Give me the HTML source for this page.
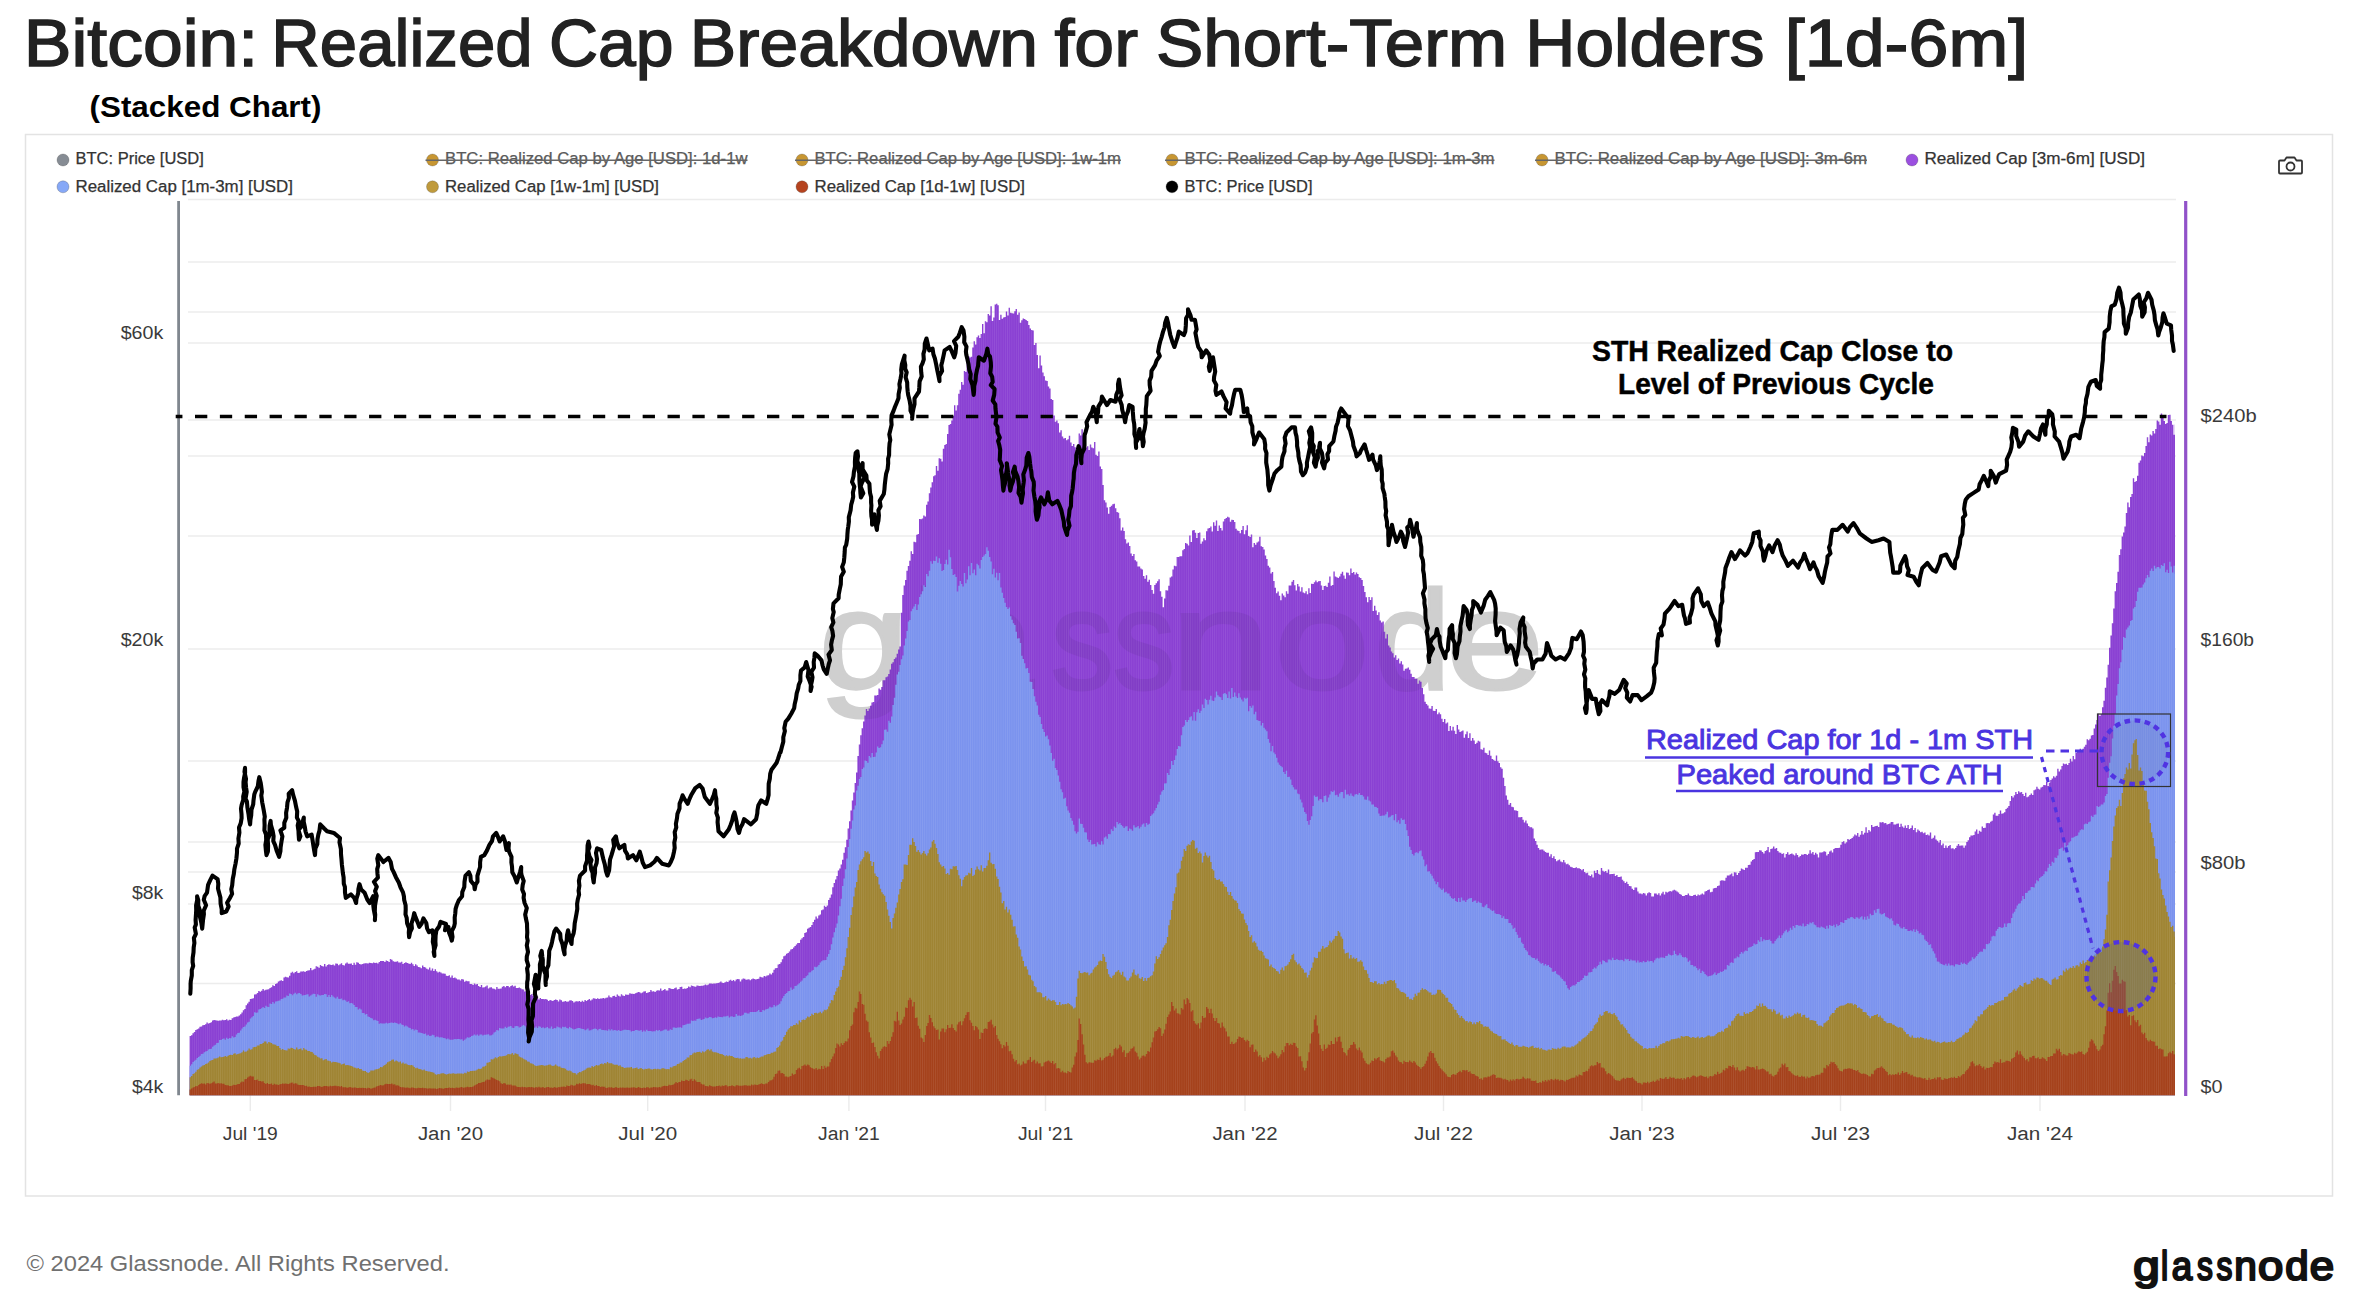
<!DOCTYPE html>
<html><head><meta charset="utf-8"><title>Bitcoin: Realized Cap Breakdown for Short-Term Holders</title>
<style>
html,body{margin:0;padding:0;background:#fff;}
body{width:2360px;height:1316px;overflow:hidden;font-family:'Liberation Sans', Arial, sans-serif;}
svg{display:block;}
svg text{font-family:'Liberation Sans', Arial, sans-serif;}
</style></head><body>
<svg width="2360" height="1316" viewBox="0 0 2360 1316">
<defs><pattern id="stripes" width="2.18" height="20" patternUnits="userSpaceOnUse"><rect width="0.75" height="20" fill="#fff" fill-opacity="0.085"/></pattern><clipPath id="areaclip"><path d="M189.6,1095.3L189.6,1036.1H191.0L191.0,1035.2H192.4L192.4,1033.3H193.8L193.8,1031.9H195.2L195.2,1030.1H196.6L196.6,1029.2H198.0L198.0,1028.6H199.4L199.4,1026.7H200.8L200.8,1026.4H202.2L202.2,1025.3H203.6L203.6,1024.9H205.0L205.0,1024.2H206.4L206.4,1022.6H207.8L207.8,1023.6H209.2L209.2,1022.9H210.6L210.6,1022.3H212.0L212.0,1020.4H213.4L213.4,1019.9H214.8L214.8,1020.2H216.2L216.2,1020.4H217.6L217.6,1020.7H219.0L219.0,1020.4H220.4L220.4,1020.6H221.8L221.8,1019.7H223.2L223.2,1020.2H224.6L224.6,1020.1H226.0L226.0,1019.2H227.4L227.4,1020.6H228.8L228.8,1019.8H230.2L230.2,1020.1H231.6L231.6,1018.3H233.0L233.0,1017.5H234.4L234.4,1017.1H235.8L235.8,1016.5H237.2L237.2,1016.4H238.6L238.6,1015.4H240.0L240.0,1014.2H241.4L241.4,1012.4H242.8L242.8,1010.3H244.2L244.2,1009.1H245.6L245.6,1005.2H247.0L247.0,1003.5H248.4L248.4,1001.7H249.8L249.8,998.9H251.2L251.2,998.7H252.6L252.6,998.2H254.0L254.0,994.5H255.4L255.4,994.2H256.8L256.8,992.9H258.2L258.2,991.1H259.6L259.6,991.7H261.0L261.0,990.7H262.4L262.4,989.0H263.8L263.8,990.4H265.2L265.2,989.7H266.6L266.6,989.4H268.0L268.0,989.3H269.4L269.4,987.9H270.8L270.8,987.2H272.2L272.2,985.3H273.6L273.6,985.9H275.0L275.0,984.0H276.4L276.4,983.2H277.8L277.8,981.5H279.2L279.2,980.8H280.6L280.6,980.3H282.0L282.0,981.0H283.4L283.4,977.5H284.8L284.8,976.7H286.2L286.2,977.2H287.6L287.6,977.4H289.0L289.0,975.7H290.4L290.4,972.8H291.8L291.8,971.8H293.2L293.2,973.2H294.6L294.6,971.9H296.0L296.0,971.3H297.4L297.4,972.9H298.8L298.8,972.8H300.2L300.2,971.6H301.6L301.6,971.4H303.0L303.0,971.3H304.4L304.4,972.1H305.8L305.8,970.9H307.2L307.2,970.5H308.6L308.6,970.3H310.0L310.0,967.9H311.4L311.4,970.2H312.8L312.8,969.5H314.2L314.2,968.7H315.6L315.6,966.2H317.0L317.0,966.7H318.4L318.4,967.7H319.8L319.8,964.9H321.2L321.2,965.9H322.6L322.6,966.6H324.0L324.0,964.0H325.4L325.4,966.4H326.8L326.8,965.1H328.2L328.2,964.3H329.6L329.6,964.8H331.0L331.0,965.0H332.4L332.4,964.5H333.8L333.8,965.4H335.2L335.2,963.6H336.6L336.6,963.8H338.0L338.0,965.2H339.4L339.4,964.2H340.8L340.8,963.3H342.2L342.2,965.0H343.6L343.6,965.5H345.0L345.0,963.6H346.4L346.4,962.6H347.8L347.8,963.8H349.2L349.2,963.7H350.6L350.6,963.5H352.0L352.0,965.1H353.4L353.4,962.7H354.8L354.8,964.8H356.2L356.2,962.3H357.6L357.6,962.7H359.0L359.0,964.0H360.4L360.4,964.4H361.8L361.8,964.1H363.2L363.2,963.5H364.6L364.6,963.3H366.0L366.0,963.2H367.4L367.4,963.6H368.8L368.8,962.7H370.2L370.2,963.1H371.6L371.6,963.3H373.0L373.0,962.5H374.4L374.4,963.1H375.8L375.8,962.7H377.2L377.2,963.5H378.6L378.6,962.0H380.0L380.0,961.1H381.4L381.4,961.0H382.8L382.8,961.1H384.2L384.2,961.9H385.6L385.6,960.4H387.0L387.0,960.9H388.4L388.4,962.1H389.8L389.8,959.1H391.2L391.2,959.8H392.6L392.6,961.3H394.0L394.0,961.7H395.4L395.4,961.7H396.8L396.8,961.3H398.2L398.2,962.5H399.6L399.6,962.4H401.0L401.0,961.8H402.4L402.4,964.0H403.8L403.8,963.0H405.2L405.2,962.3H406.6L406.6,963.1H408.0L408.0,963.4H409.4L409.4,963.9H410.8L410.8,962.7H412.2L412.2,964.2H413.6L413.6,966.0H415.0L415.0,964.2H416.4L416.4,965.6H417.8L417.8,967.0H419.2L419.2,967.2H420.6L420.6,968.2H422.0L422.0,965.6H423.4L423.4,967.1H424.8L424.8,967.5H426.2L426.2,968.8H427.6L427.6,969.6H429.0L429.0,967.5H430.4L430.4,970.5H431.8L431.8,968.5H433.2L433.2,970.9H434.6L434.6,969.3H436.0L436.0,971.3H437.4L437.4,972.6H438.8L438.8,971.8H440.2L440.2,972.5H441.6L441.6,973.5H443.0L443.0,973.4H444.4L444.4,973.7H445.8L445.8,975.8H447.2L447.2,975.9H448.6L448.6,975.2H450.0L450.0,977.5H451.4L451.4,975.6H452.8L452.8,978.0H454.2L454.2,977.5H455.6L455.6,978.4H457.0L457.0,979.5H458.4L458.4,979.6H459.8L459.8,980.5H461.2L461.2,979.0H462.6L462.6,979.5H464.0L464.0,981.8H465.4L465.4,980.8H466.8L466.8,981.2H468.2L468.2,981.2H469.6L469.6,984.0H471.0L471.0,984.0H472.4L472.4,985.0H473.8L473.8,983.4H475.2L475.2,984.6H476.6L476.6,984.0H478.0L478.0,986.0H479.4L479.4,986.9H480.8L480.8,985.1H482.2L482.2,987.5H483.6L483.6,987.3H485.0L485.0,986.5H486.4L486.4,985.6H487.8L487.8,988.4H489.2L489.2,987.5H490.6L490.6,987.3H492.0L492.0,988.4H493.4L493.4,988.7H494.8L494.8,989.5H496.2L496.2,987.1H497.6L497.6,988.7H499.0L499.0,988.7H500.4L500.4,988.4H501.8L501.8,986.7H503.2L503.2,986.0H504.6L504.6,987.2H506.0L506.0,986.1H507.4L507.4,985.9H508.8L508.8,987.2H510.2L510.2,986.0H511.6L511.6,985.2H513.0L513.0,986.5H514.4L514.4,985.8H515.8L515.8,988.1H517.2L517.2,987.9H518.6L518.6,987.4H520.0L520.0,988.2H521.4L521.4,989.3H522.8L522.8,989.5H524.2L524.2,991.4H525.6L525.6,991.1H527.0L527.0,992.8H528.4L528.4,994.0H529.8L529.8,994.9H531.2L531.2,993.9H532.6L532.6,996.0H534.0L534.0,994.9H535.4L535.4,996.1H536.8L536.8,996.6H538.2L538.2,999.5H539.6L539.6,997.9H541.0L541.0,999.0H542.4L542.4,999.0H543.8L543.8,999.2H545.2L545.2,999.0H546.6L546.6,999.7H548.0L548.0,1000.9H549.4L549.4,999.9H550.8L550.8,1000.4H552.2L552.2,1000.9H553.6L553.6,1000.1H555.0L555.0,999.4H556.4L556.4,1000.1H557.8L557.8,1001.4H559.2L559.2,999.5H560.6L560.6,1000.3H562.0L562.0,1001.7H563.4L563.4,1001.6H564.8L564.8,1001.1H566.2L566.2,1001.8H567.6L567.6,1001.4H569.0L569.0,1000.5H570.4L570.4,1000.3H571.8L571.8,1001.1H573.2L573.2,1002.4H574.6L574.6,1001.4H576.0L576.0,1001.2H577.4L577.4,1001.4H578.8L578.8,1000.9H580.2L580.2,1001.9H581.6L581.6,1000.8H583.0L583.0,1001.7H584.4L584.4,999.9H585.8L585.8,1001.1H587.2L587.2,1000.1H588.6L588.6,999.0H590.0L590.0,1000.6H591.4L591.4,999.5H592.8L592.8,998.2H594.2L594.2,998.5H595.6L595.6,999.1H597.0L597.0,998.2H598.4L598.4,998.9H599.8L599.8,998.6H601.2L601.2,998.4H602.6L602.6,997.9H604.0L604.0,998.5H605.4L605.4,997.8H606.8L606.8,997.4H608.2L608.2,995.6H609.6L609.6,997.3H611.0L611.0,997.5H612.4L612.4,996.0H613.8L613.8,995.7H615.2L615.2,997.1H616.6L616.6,994.4H618.0L618.0,995.8H619.4L619.4,996.5H620.8L620.8,994.3H622.2L622.2,995.4H623.6L623.6,995.9H625.0L625.0,994.4H626.4L626.4,994.7H627.8L627.8,994.8H629.2L629.2,993.2H630.6L630.6,993.7H632.0L632.0,993.8H633.4L633.4,994.0H634.8L634.8,993.2H636.2L636.2,992.8H637.6L637.6,992.0H639.0L639.0,992.3H640.4L640.4,993.2H641.8L641.8,992.4H643.2L643.2,991.4H644.6L644.6,991.2H646.0L646.0,993.0H647.4L647.4,992.5H648.8L648.8,991.9H650.2L650.2,989.9H651.6L651.6,991.5H653.0L653.0,991.2H654.4L654.4,992.0H655.8L655.8,990.8H657.2L657.2,990.2H658.6L658.6,990.5H660.0L660.0,988.6H661.4L661.4,990.7H662.8L662.8,990.0H664.2L664.2,989.0H665.6L665.6,990.5H667.0L667.0,990.6H668.4L668.4,988.0H669.8L669.8,988.4H671.2L671.2,989.1H672.6L672.6,988.9H674.0L674.0,988.2H675.4L675.4,987.6H676.8L676.8,989.6H678.2L678.2,989.0H679.6L679.6,987.0H681.0L681.0,986.7H682.4L682.4,989.1H683.8L683.8,988.4H685.2L685.2,988.8H686.6L686.6,988.0H688.0L688.0,986.4H689.4L689.4,987.2H690.8L690.8,985.5H692.2L692.2,986.1H693.6L693.6,986.5H695.0L695.0,986.8H696.4L696.4,985.5H697.8L697.8,985.8H699.2L699.2,986.1H700.6L700.6,985.8H702.0L702.0,985.8H703.4L703.4,985.2H704.8L704.8,984.6H706.2L706.2,985.3H707.6L707.6,984.5H709.0L709.0,983.5H710.4L710.4,983.5H711.8L711.8,983.8H713.2L713.2,983.5H714.6L714.6,983.5H716.0L716.0,983.2H717.4L717.4,983.1H718.8L718.8,982.6H720.2L720.2,981.4H721.6L721.6,982.7H723.0L723.0,983.0H724.4L724.4,982.3H725.8L725.8,981.5H727.2L727.2,981.9H728.6L728.6,980.5H730.0L730.0,979.8H731.4L731.4,981.1H732.8L732.8,980.0H734.2L734.2,981.3H735.6L735.6,979.6H737.0L737.0,978.9H738.4L738.4,979.3H739.8L739.8,981.4H741.2L741.2,979.5H742.6L742.6,978.5H744.0L744.0,978.8H745.4L745.4,979.8H746.8L746.8,979.6H748.2L748.2,979.2H749.6L749.6,980.2H751.0L751.0,979.3H752.4L752.4,978.5H753.8L753.8,978.9H755.2L755.2,979.6H756.6L756.6,978.9H758.0L758.0,978.7H759.4L759.4,976.7H760.8L760.8,977.3H762.2L762.2,977.4H763.6L763.6,975.9H765.0L765.0,976.5H766.4L766.4,975.5H767.8L767.8,975.2H769.2L769.2,973.6H770.6L770.6,974.6H772.0L772.0,972.7H773.4L773.4,969.7H774.8L774.8,968.3H776.2L776.2,968.1H777.6L777.6,964.5H779.0L779.0,964.0H780.4L780.4,962.3H781.8L781.8,959.3H783.2L783.2,956.2H784.6L784.6,955.6H786.0L786.0,953.8H787.4L787.4,953.1H788.8L788.8,951.5H790.2L790.2,949.5H791.6L791.6,949.1H793.0L793.0,947.6H794.4L794.4,946.0H795.8L795.8,944.6H797.2L797.2,943.1H798.6L798.6,942.9H800.0L800.0,939.7H801.4L801.4,938.3H802.8L802.8,936.9H804.2L804.2,933.1H805.6L805.6,932.2H807.0L807.0,928.7H808.4L808.4,927.7H809.8L809.8,927.1H811.2L811.2,925.0H812.6L812.6,922.1H814.0L814.0,919.8H815.4L815.4,916.6H816.8L816.8,918.6H818.2L818.2,915.5H819.6L819.6,914.5H821.0L821.0,910.2H822.4L822.4,909.4H823.8L823.8,905.8H825.2L825.2,907.1H826.6L826.6,905.6H828.0L828.0,899.9H829.4L829.4,897.8H830.8L830.8,894.5H832.2L832.2,887.2H833.6L833.6,883.0H835.0L835.0,879.5H836.4L836.4,875.9H837.8L837.8,870.6H839.2L839.2,868.5H840.6L840.6,864.6H842.0L842.0,859.7H843.4L843.4,852.8H844.8L844.8,847.2H846.2L846.2,839.7H847.6L847.6,828.5H849.0L849.0,821.2H850.4L850.4,810.4H851.8L851.8,800.5H853.2L853.2,792.5H854.6L854.6,782.9H856.0L856.0,772.5H857.4L857.4,756.0H858.8L858.8,744.5H860.2L860.2,735.2H861.6L861.6,728.3H863.0L863.0,721.5H864.4L864.4,715.5H865.8L865.8,709.1H867.2L867.2,710.9H868.6L868.6,708.4H870.0L870.0,705.7H871.4L871.4,702.6H872.8L872.8,702.1H874.2L874.2,695.5H875.6L875.6,695.4H877.0L877.0,695.0H878.4L878.4,688.4H879.8L879.8,689.8H881.2L881.2,686.9H882.6L882.6,680.3H884.0L884.0,680.3H885.4L885.4,677.3H886.8L886.8,676.5H888.2L888.2,674.1H889.6L889.6,669.5H891.0L891.0,663.8H892.4L892.4,662.2H893.8L893.8,658.9H895.2L895.2,657.5H896.6L896.6,653.7H898.0L898.0,649.5H899.4L899.4,646.4H900.8L900.8,612.7H902.2L902.2,595.1H903.6L903.6,585.5H905.0L905.0,580.1H906.4L906.4,570.7H907.8L907.8,566.0H909.2L909.2,560.8H910.6L910.6,551.3H912.0L912.0,553.9H913.4L913.4,541.8H914.8L914.8,542.3H916.2L916.2,534.8H917.6L917.6,534.0H919.0L919.0,518.9H920.4L920.4,519.3H921.8L921.8,518.5H923.2L923.2,515.5H924.6L924.6,516.5H926.0L926.0,504.7H927.4L927.4,501.5H928.8L928.8,493.2H930.2L930.2,487.4H931.6L931.6,482.2H933.0L933.0,476.3H934.4L934.4,475.2H935.8L935.8,465.9H937.2L937.2,470.7H938.6L938.6,458.3H940.0L940.0,458.8H941.4L941.4,461.6H942.8L942.8,448.7H944.2L944.2,445.1H945.6L945.6,443.9H947.0L947.0,433.9H948.4L948.4,425.1H949.8L949.8,424.0H951.2L951.2,420.4H952.6L952.6,416.0H954.0L954.0,405.2H955.4L955.4,410.5H956.8L956.8,405.3H958.2L958.2,393.7H959.6L959.6,389.8H961.0L961.0,382.0H962.4L962.4,384.8H963.8L963.8,371.0H965.2L965.2,372.0H966.6L966.6,362.1H968.0L968.0,356.3H969.4L969.4,357.5H970.8L970.8,356.7H972.2L972.2,347.5H973.6L973.6,341.2H975.0L975.0,344.4H976.4L976.4,337.2H977.8L977.8,335.4H979.2L979.2,338.1H980.6L980.6,333.9H982.0L982.0,324.0H983.4L983.4,333.2H984.8L984.8,321.3H986.2L986.2,322.3H987.6L987.6,314.1H989.0L989.0,315.4H990.4L990.4,306.2H991.8L991.8,320.9H993.2L993.2,317.6H994.6L994.6,304.4H996.0L996.0,303.7H997.4L997.4,305.3H998.8L998.8,320.1H1000.2L1000.2,314.8H1001.6L1001.6,318.7H1003.0L1003.0,317.4H1004.4L1004.4,317.1H1005.8L1005.8,311.6H1007.2L1007.2,315.5H1008.6L1008.6,307.7H1010.0L1010.0,312.7H1011.4L1011.4,313.3H1012.8L1012.8,313.5H1014.2L1014.2,311.2H1015.6L1015.6,309.0H1017.0L1017.0,314.7H1018.4L1018.4,312.6H1019.8L1019.8,322.7H1021.2L1021.2,320.3H1022.6L1022.6,318.4H1024.0L1024.0,318.9H1025.4L1025.4,319.9H1026.8L1026.8,321.0H1028.2L1028.2,325.1H1029.6L1029.6,328.5H1031.0L1031.0,329.9H1032.4L1032.4,330.6H1033.8L1033.8,345.0H1035.2L1035.2,343.1H1036.6L1036.6,355.0H1038.0L1038.0,368.2H1039.4L1039.4,355.4H1040.8L1040.8,365.4H1042.2L1042.2,372.5H1043.6L1043.6,376.2H1045.0L1045.0,380.4H1046.4L1046.4,380.9H1047.8L1047.8,386.5H1049.2L1049.2,388.4H1050.6L1050.6,398.9H1052.0L1052.0,400.0H1053.4L1053.4,415.5H1054.8L1054.8,421.8H1056.2L1056.2,420.5H1057.6L1057.6,423.3H1059.0L1059.0,432.6H1060.4L1060.4,430.2H1061.8L1061.8,436.6H1063.2L1063.2,438.4H1064.6L1064.6,438.1H1066.0L1066.0,440.3H1067.4L1067.4,439.3H1068.8L1068.8,435.7H1070.2L1070.2,442.4H1071.6L1071.6,446.0H1073.0L1073.0,443.9H1074.4L1074.4,447.3H1075.8L1075.8,452.3H1077.2L1077.2,447.9H1078.6L1078.6,433.5H1080.0L1080.0,435.4H1081.4L1081.4,429.3H1082.8L1082.8,435.4H1084.2L1084.2,437.6H1085.6L1085.6,447.5H1087.0L1087.0,446.2H1088.4L1088.4,449.9H1089.8L1089.8,444.4H1091.2L1091.2,447.6H1092.6L1092.6,448.2H1094.0L1094.0,442.0H1095.4L1095.4,454.8H1096.8L1096.8,456.0H1098.2L1098.2,451.6H1099.6L1099.6,466.5H1101.0L1101.0,468.9H1102.4L1102.4,485.1H1103.8L1103.8,500.2H1105.2L1105.2,502.6H1106.6L1106.6,507.5H1108.0L1108.0,513.7H1109.4L1109.4,506.9H1110.8L1110.8,505.7H1112.2L1112.2,504.2H1113.6L1113.6,503.7H1115.0L1115.0,508.2H1116.4L1116.4,512.0H1117.8L1117.8,512.8H1119.2L1119.2,518.2H1120.6L1120.6,530.6H1122.0L1122.0,527.4H1123.4L1123.4,531.1H1124.8L1124.8,539.3H1126.2L1126.2,543.5H1127.6L1127.6,542.6H1129.0L1129.0,545.9H1130.4L1130.4,553.4H1131.8L1131.8,556.1H1133.2L1133.2,553.9H1134.6L1134.6,560.2H1136.0L1136.0,561.5H1137.4L1137.4,566.6H1138.8L1138.8,566.6H1140.2L1140.2,568.6H1141.6L1141.6,569.6H1143.0L1143.0,575.9H1144.4L1144.4,578.8H1145.8L1145.8,575.3H1147.2L1147.2,581.8H1148.6L1148.6,579.7H1150.0L1150.0,585.0H1151.4L1151.4,589.9H1152.8L1152.8,593.7H1154.2L1154.2,585.1H1155.6L1155.6,583.2H1157.0L1157.0,581.3H1158.4L1158.4,579.2H1159.8L1159.8,591.3H1161.2L1161.2,596.7H1162.6L1162.6,607.3H1164.0L1164.0,598.4H1165.4L1165.4,590.2H1166.8L1166.8,590.6H1168.2L1168.2,585.7H1169.6L1169.6,577.6H1171.0L1171.0,576.5H1172.4L1172.4,569.5H1173.8L1173.8,565.7H1175.2L1175.2,566.3H1176.6L1176.6,557.0H1178.0L1178.0,557.0H1179.4L1179.4,556.3H1180.8L1180.8,556.3H1182.2L1182.2,550.3H1183.6L1183.6,549.0H1185.0L1185.0,543.0H1186.4L1186.4,543.7H1187.8L1187.8,545.6H1189.2L1189.2,535.4H1190.6L1190.6,542.1H1192.0L1192.0,530.4H1193.4L1193.4,530.1H1194.8L1194.8,532.8H1196.2L1196.2,538.1H1197.6L1197.6,533.0H1199.0L1199.0,532.6H1200.4L1200.4,543.7H1201.8L1201.8,541.6H1203.2L1203.2,538.2H1204.6L1204.6,540.3H1206.0L1206.0,531.2H1207.4L1207.4,528.6H1208.8L1208.8,528.1H1210.2L1210.2,526.6H1211.6L1211.6,531.5H1213.0L1213.0,522.3H1214.4L1214.4,525.7H1215.8L1215.8,520.5H1217.2L1217.2,530.9H1218.6L1218.6,525.5H1220.0L1220.0,528.1H1221.4L1221.4,530.4H1222.8L1222.8,521.5H1224.2L1224.2,518.9H1225.6L1225.6,518.0H1227.0L1227.0,516.8H1228.4L1228.4,517.5H1229.8L1229.8,521.8H1231.2L1231.2,519.8H1232.6L1232.6,519.9H1234.0L1234.0,521.9H1235.4L1235.4,528.8H1236.8L1236.8,530.6H1238.2L1238.2,531.0H1239.6L1239.6,533.2H1241.0L1241.0,529.9H1242.4L1242.4,526.0H1243.8L1243.8,534.2H1245.2L1245.2,530.3H1246.6L1246.6,525.3H1248.0L1248.0,535.9H1249.4L1249.4,537.1H1250.8L1250.8,534.6H1252.2L1252.2,547.2H1253.6L1253.6,543.0H1255.0L1255.0,544.8H1256.4L1256.4,542.5H1257.8L1257.8,541.4H1259.2L1259.2,536.8H1260.6L1260.6,546.3H1262.0L1262.0,546.9H1263.4L1263.4,549.6H1264.8L1264.8,555.4H1266.2L1266.2,559.0H1267.6L1267.6,565.8H1269.0L1269.0,567.4H1270.4L1270.4,573.4H1271.8L1271.8,571.9H1273.2L1273.2,580.9H1274.6L1274.6,587.7H1276.0L1276.0,593.2H1277.4L1277.4,591.6H1278.8L1278.8,595.8H1280.2L1280.2,600.3H1281.6L1281.6,593.5H1283.0L1283.0,595.6H1284.4L1284.4,597.3H1285.8L1285.8,591.2H1287.2L1287.2,593.7H1288.6L1288.6,585.4H1290.0L1290.0,585.4H1291.4L1291.4,581.7H1292.8L1292.8,580.1H1294.2L1294.2,585.3H1295.6L1295.6,590.4H1297.0L1297.0,584.0H1298.4L1298.4,586.4H1299.8L1299.8,591.4H1301.2L1301.2,587.2H1302.6L1302.6,592.5H1304.0L1304.0,593.3H1305.4L1305.4,591.3H1306.8L1306.8,594.3H1308.2L1308.2,588.2H1309.6L1309.6,592.9H1311.0L1311.0,583.7H1312.4L1312.4,584.0H1313.8L1313.8,582.2H1315.2L1315.2,580.4H1316.6L1316.6,582.2H1318.0L1318.0,581.2H1319.4L1319.4,581.1H1320.8L1320.8,585.4H1322.2L1322.2,590.0H1323.6L1323.6,586.1H1325.0L1325.0,585.8H1326.4L1326.4,587.1H1327.8L1327.8,582.8H1329.2L1329.2,576.6H1330.6L1330.6,585.8H1332.0L1332.0,584.9H1333.4L1333.4,571.4H1334.8L1334.8,576.6H1336.2L1336.2,577.2H1337.6L1337.6,578.1H1339.0L1339.0,576.5H1340.4L1340.4,573.8H1341.8L1341.8,571.7H1343.2L1343.2,575.6H1344.6L1344.6,578.7H1346.0L1346.0,572.4H1347.4L1347.4,572.8H1348.8L1348.8,575.3H1350.2L1350.2,568.6H1351.6L1351.6,573.1H1353.0L1353.0,571.9H1354.4L1354.4,574.4H1355.8L1355.8,572.6H1357.2L1357.2,574.0H1358.6L1358.6,577.3H1360.0L1360.0,578.1H1361.4L1361.4,580.1H1362.8L1362.8,586.0H1364.2L1364.2,592.1H1365.6L1365.6,597.3H1367.0L1367.0,602.2H1368.4L1368.4,596.9H1369.8L1369.8,600.1H1371.2L1371.2,597.2H1372.6L1372.6,611.1H1374.0L1374.0,605.7H1375.4L1375.4,610.6H1376.8L1376.8,615.0H1378.2L1378.2,612.3H1379.6L1379.6,620.4H1381.0L1381.0,622.5H1382.4L1382.4,621.6H1383.8L1383.8,631.8H1385.2L1385.2,638.5H1386.6L1386.6,634.2H1388.0L1388.0,645.4H1389.4L1389.4,647.4H1390.8L1390.8,651.5H1392.2L1392.2,653.3H1393.6L1393.6,657.5H1395.0L1395.0,655.2H1396.4L1396.4,660.0H1397.8L1397.8,658.5H1399.2L1399.2,663.4H1400.6L1400.6,661.2H1402.0L1402.0,664.6H1403.4L1403.4,670.8H1404.8L1404.8,668.8H1406.2L1406.2,668.6H1407.6L1407.6,667.5H1409.0L1409.0,669.8H1410.4L1410.4,673.7H1411.8L1411.8,677.0H1413.2L1413.2,677.1H1414.6L1414.6,678.8H1416.0L1416.0,678.7H1417.4L1417.4,683.7H1418.8L1418.8,680.6H1420.2L1420.2,681.7H1421.6L1421.6,687.9H1423.0L1423.0,694.2H1424.4L1424.4,701.8H1425.8L1425.8,704.0H1427.2L1427.2,705.6H1428.6L1428.6,708.6H1430.0L1430.0,708.8H1431.4L1431.4,706.0H1432.8L1432.8,710.7H1434.2L1434.2,711.0H1435.6L1435.6,709.1H1437.0L1437.0,714.2H1438.4L1438.4,712.6H1439.8L1439.8,714.3H1441.2L1441.2,718.8H1442.6L1442.6,721.9H1444.0L1444.0,719.1H1445.4L1445.4,723.5H1446.8L1446.8,722.4H1448.2L1448.2,731.0H1449.6L1449.6,726.1H1451.0L1451.0,730.5H1452.4L1452.4,726.8H1453.8L1453.8,730.7H1455.2L1455.2,734.1H1456.6L1456.6,725.1H1458.0L1458.0,729.4H1459.4L1459.4,732.1H1460.8L1460.8,731.3H1462.2L1462.2,730.5H1463.6L1463.6,737.7H1465.0L1465.0,734.2H1466.4L1466.4,731.4H1467.8L1467.8,738.0H1469.2L1469.2,733.3H1470.6L1470.6,740.8H1472.0L1472.0,738.0H1473.4L1473.4,740.6H1474.8L1474.8,744.1H1476.2L1476.2,742.7H1477.6L1477.6,740.8H1479.0L1479.0,741.6H1480.4L1480.4,749.2H1481.8L1481.8,749.7H1483.2L1483.2,747.7H1484.6L1484.6,752.7H1486.0L1486.0,753.3H1487.4L1487.4,755.0H1488.8L1488.8,750.6H1490.2L1490.2,755.7H1491.6L1491.6,759.1H1493.0L1493.0,759.7H1494.4L1494.4,760.9H1495.8L1495.8,755.6H1497.2L1497.2,761.3H1498.6L1498.6,762.9H1500.0L1500.0,767.3H1501.4L1501.4,768.7H1502.8L1502.8,777.7H1504.2L1504.2,786.1H1505.6L1505.6,795.4H1507.0L1507.0,799.8H1508.4L1508.4,804.7H1509.8L1509.8,802.9H1511.2L1511.2,806.8H1512.6L1512.6,807.2H1514.0L1514.0,810.3H1515.4L1515.4,810.6H1516.8L1516.8,810.9H1518.2L1518.2,817.2H1519.6L1519.6,817.2H1521.0L1521.0,817.0H1522.4L1522.4,819.8H1523.8L1523.8,822.6H1525.2L1525.2,820.5H1526.6L1526.6,823.4H1528.0L1528.0,826.0H1529.4L1529.4,827.3H1530.8L1530.8,827.3H1532.2L1532.2,828.6H1533.6L1533.6,838.4H1535.0L1535.0,841.1H1536.4L1536.4,844.7H1537.8L1537.8,848.0H1539.2L1539.2,849.7H1540.6L1540.6,849.5H1542.0L1542.0,849.4H1543.4L1543.4,850.7H1544.8L1544.8,851.9H1546.2L1546.2,852.7H1547.6L1547.6,852.7H1549.0L1549.0,856.4H1550.4L1550.4,854.2H1551.8L1551.8,858.1H1553.2L1553.2,856.2H1554.6L1554.6,859.1H1556.0L1556.0,861.3H1557.4L1557.4,860.2H1558.8L1558.8,859.5H1560.2L1560.2,861.4H1561.6L1561.6,862.2H1563.0L1563.0,860.1H1564.4L1564.4,862.5H1565.8L1565.8,864.2H1567.2L1567.2,863.8H1568.6L1568.6,865.2H1570.0L1570.0,866.7H1571.4L1571.4,867.3H1572.8L1572.8,868.0H1574.2L1574.2,868.0H1575.6L1575.6,867.2H1577.0L1577.0,868.2H1578.4L1578.4,868.3H1579.8L1579.8,869.1H1581.2L1581.2,870.3H1582.6L1582.6,868.9H1584.0L1584.0,871.9H1585.4L1585.4,873.3H1586.8L1586.8,872.8H1588.2L1588.2,875.2H1589.6L1589.6,876.1H1591.0L1591.0,874.6H1592.4L1592.4,877.4H1593.8L1593.8,870.7H1595.2L1595.2,873.0H1596.6L1596.6,870.1H1598.0L1598.0,873.7H1599.4L1599.4,874.8H1600.8L1600.8,868.1H1602.2L1602.2,870.8H1603.6L1603.6,871.7H1605.0L1605.0,871.0H1606.4L1606.4,872.8H1607.8L1607.8,869.4H1609.2L1609.2,874.3H1610.6L1610.6,874.1H1612.0L1612.0,874.1H1613.4L1613.4,873.7H1614.8L1614.8,876.0H1616.2L1616.2,874.9H1617.6L1617.6,877.0H1619.0L1619.0,877.0H1620.4L1620.4,876.5H1621.8L1621.8,879.8H1623.2L1623.2,881.2H1624.6L1624.6,883.0H1626.0L1626.0,881.7H1627.4L1627.4,884.0H1628.8L1628.8,885.9H1630.2L1630.2,886.3H1631.6L1631.6,888.7H1633.0L1633.0,890.1H1634.4L1634.4,887.5H1635.8L1635.8,887.4H1637.2L1637.2,891.6H1638.6L1638.6,893.4H1640.0L1640.0,893.5H1641.4L1641.4,894.2H1642.8L1642.8,893.1H1644.2L1644.2,893.5H1645.6L1645.6,895.6H1647.0L1647.0,893.2H1648.4L1648.4,892.3H1649.8L1649.8,893.1H1651.2L1651.2,896.6H1652.6L1652.6,896.6H1654.0L1654.0,893.5H1655.4L1655.4,893.5H1656.8L1656.8,894.8H1658.2L1658.2,893.2H1659.6L1659.6,895.6H1661.0L1661.0,893.4H1662.4L1662.4,891.7H1663.8L1663.8,894.6H1665.2L1665.2,891.7H1666.6L1666.6,892.4H1668.0L1668.0,891.7H1669.4L1669.4,891.0H1670.8L1670.8,891.5H1672.2L1672.2,890.6H1673.6L1673.6,889.8H1675.0L1675.0,890.4H1676.4L1676.4,891.4H1677.8L1677.8,892.6H1679.2L1679.2,894.1H1680.6L1680.6,894.7H1682.0L1682.0,895.9H1683.4L1683.4,895.9H1684.8L1684.8,895.1H1686.2L1686.2,895.0H1687.6L1687.6,893.6H1689.0L1689.0,895.4H1690.4L1690.4,896.1H1691.8L1691.8,896.0H1693.2L1693.2,894.9H1694.6L1694.6,894.7H1696.0L1696.0,896.0H1697.4L1697.4,894.6H1698.8L1698.8,895.2H1700.2L1700.2,894.5H1701.6L1701.6,893.5H1703.0L1703.0,894.5H1704.4L1704.4,891.4H1705.8L1705.8,891.1H1707.2L1707.2,890.0H1708.6L1708.6,889.5H1710.0L1710.0,892.2H1711.4L1711.4,891.7H1712.8L1712.8,888.6H1714.2L1714.2,888.1H1715.6L1715.6,887.8H1717.0L1717.0,886.0H1718.4L1718.4,885.4H1719.8L1719.8,880.7H1721.2L1721.2,880.3H1722.6L1722.6,880.6H1724.0L1724.0,880.8H1725.4L1725.4,877.7H1726.8L1726.8,875.5H1728.2L1728.2,875.5H1729.6L1729.6,874.4H1731.0L1731.0,873.4H1732.4L1732.4,876.2H1733.8L1733.8,872.3H1735.2L1735.2,872.6H1736.6L1736.6,875.0H1738.0L1738.0,872.9H1739.4L1739.4,870.9H1740.8L1740.8,868.6H1742.2L1742.2,869.2H1743.6L1743.6,870.1H1745.0L1745.0,867.7H1746.4L1746.4,867.7H1747.8L1747.8,865.0H1749.2L1749.2,864.7H1750.6L1750.6,861.5H1752.0L1752.0,860.1H1753.4L1753.4,859.0H1754.8L1754.8,852.2H1756.2L1756.2,851.9H1757.6L1757.6,851.9H1759.0L1759.0,850.3H1760.4L1760.4,850.4H1761.8L1761.8,851.9H1763.2L1763.2,853.5H1764.6L1764.6,851.1H1766.0L1766.0,850.3H1767.4L1767.4,847.0H1768.8L1768.8,852.3H1770.2L1770.2,849.1H1771.6L1771.6,848.6H1773.0L1773.0,846.6H1774.4L1774.4,848.8H1775.8L1775.8,848.1H1777.2L1777.2,850.9H1778.6L1778.6,852.4H1780.0L1780.0,852.7H1781.4L1781.4,854.0H1782.8L1782.8,853.2H1784.2L1784.2,857.4H1785.6L1785.6,854.1H1787.0L1787.0,852.3H1788.4L1788.4,854.8H1789.8L1789.8,853.9H1791.2L1791.2,853.5H1792.6L1792.6,854.6H1794.0L1794.0,855.6H1795.4L1795.4,853.3H1796.8L1796.8,854.9H1798.2L1798.2,857.3H1799.6L1799.6,855.9H1801.0L1801.0,854.4H1802.4L1802.4,854.7H1803.8L1803.8,854.1H1805.2L1805.2,854.1H1806.6L1806.6,855.1H1808.0L1808.0,853.7H1809.4L1809.4,850.3H1810.8L1810.8,853.4H1812.2L1812.2,852.1H1813.6L1813.6,854.7H1815.0L1815.0,852.8H1816.4L1816.4,854.2H1817.8L1817.8,857.4H1819.2L1819.2,852.6H1820.6L1820.6,852.6H1822.0L1822.0,852.3H1823.4L1823.4,851.3H1824.8L1824.8,851.8H1826.2L1826.2,855.5H1827.6L1827.6,854.1H1829.0L1829.0,851.4H1830.4L1830.4,850.6H1831.8L1831.8,852.5H1833.2L1833.2,848.9H1834.6L1834.6,848.1H1836.0L1836.0,847.9H1837.4L1837.4,848.1H1838.8L1838.8,847.7H1840.2L1840.2,844.8H1841.6L1841.6,842.0H1843.0L1843.0,841.3H1844.4L1844.4,843.5H1845.8L1845.8,842.3H1847.2L1847.2,838.9H1848.6L1848.6,839.7H1850.0L1850.0,838.9H1851.4L1851.4,838.0H1852.8L1852.8,836.5H1854.2L1854.2,834.6H1855.6L1855.6,835.4H1857.0L1857.0,832.9H1858.4L1858.4,836.7H1859.8L1859.8,834.7H1861.2L1861.2,830.9H1862.6L1862.6,834.5H1864.0L1864.0,832.8H1865.4L1865.4,827.2H1866.8L1866.8,832.7H1868.2L1868.2,830.1H1869.6L1869.6,831.4H1871.0L1871.0,824.9H1872.4L1872.4,827.1H1873.8L1873.8,826.6H1875.2L1875.2,826.0H1876.6L1876.6,825.7H1878.0L1878.0,827.0H1879.4L1879.4,822.3H1880.8L1880.8,822.5H1882.2L1882.2,822.0H1883.6L1883.6,823.3H1885.0L1885.0,823.0H1886.4L1886.4,824.4H1887.8L1887.8,824.0H1889.2L1889.2,823.4H1890.6L1890.6,821.9H1892.0L1892.0,822.1H1893.4L1893.4,824.4H1894.8L1894.8,824.5H1896.2L1896.2,823.7H1897.6L1897.6,823.4H1899.0L1899.0,827.1H1900.4L1900.4,823.8H1901.8L1901.8,826.4H1903.2L1903.2,827.7H1904.6L1904.6,825.6H1906.0L1906.0,827.9H1907.4L1907.4,825.0H1908.8L1908.8,829.1H1910.2L1910.2,828.1H1911.6L1911.6,825.6H1913.0L1913.0,830.0H1914.4L1914.4,827.9H1915.8L1915.8,832.2H1917.2L1917.2,829.4H1918.6L1918.6,830.8H1920.0L1920.0,832.2H1921.4L1921.4,831.7H1922.8L1922.8,833.2H1924.2L1924.2,832.4H1925.6L1925.6,835.1H1927.0L1927.0,834.5H1928.4L1928.4,835.6H1929.8L1929.8,832.5H1931.2L1931.2,838.8H1932.6L1932.6,837.7H1934.0L1934.0,835.5H1935.4L1935.4,839.4H1936.8L1936.8,840.8H1938.2L1938.2,842.6H1939.6L1939.6,839.9H1941.0L1941.0,845.2H1942.4L1942.4,843.4H1943.8L1943.8,848.1H1945.2L1945.2,845.4H1946.6L1946.6,847.8H1948.0L1948.0,846.1H1949.4L1949.4,844.9H1950.8L1950.8,848.5H1952.2L1952.2,848.2H1953.6L1953.6,849.2H1955.0L1955.0,848.1H1956.4L1956.4,845.8H1957.8L1957.8,844.0H1959.2L1959.2,845.7H1960.6L1960.6,845.6H1962.0L1962.0,845.4H1963.4L1963.4,847.7H1964.8L1964.8,845.5H1966.2L1966.2,842.0H1967.6L1967.6,840.3H1969.0L1969.0,837.3H1970.4L1970.4,835.5H1971.8L1971.8,835.4H1973.2L1973.2,835.1H1974.6L1974.6,831.6H1976.0L1976.0,829.5H1977.4L1977.4,833.8H1978.8L1978.8,830.8H1980.2L1980.2,831.8H1981.6L1981.6,826.4H1983.0L1983.0,828.0H1984.4L1984.4,827.8H1985.8L1985.8,823.3H1987.2L1987.2,822.9H1988.6L1988.6,823.2H1990.0L1990.0,821.8H1991.4L1991.4,820.8H1992.8L1992.8,814.5H1994.2L1994.2,812.8H1995.6L1995.6,815.7H1997.0L1997.0,815.8H1998.4L1998.4,813.9H1999.8L1999.8,810.6H2001.2L2001.2,813.8H2002.6L2002.6,813.2H2004.0L2004.0,812.2H2005.4L2005.4,808.9H2006.8L2006.8,807.7H2008.2L2008.2,806.1H2009.6L2009.6,801.0H2011.0L2011.0,796.0H2012.4L2012.4,797.5H2013.8L2013.8,795.3H2015.2L2015.2,792.0H2016.6L2016.6,793.9H2018.0L2018.0,791.2H2019.4L2019.4,792.4H2020.8L2020.8,792.1H2022.2L2022.2,794.0H2023.6L2023.6,796.1H2025.0L2025.0,792.7H2026.4L2026.4,797.3H2027.8L2027.8,796.5H2029.2L2029.2,794.9H2030.6L2030.6,793.6H2032.0L2032.0,794.9H2033.4L2033.4,790.3H2034.8L2034.8,789.5H2036.2L2036.2,786.7H2037.6L2037.6,788.7H2039.0L2039.0,789.5H2040.4L2040.4,787.4H2041.8L2041.8,786.8H2043.2L2043.2,785.1H2044.6L2044.6,785.3H2046.0L2046.0,781.7H2047.4L2047.4,786.1H2048.8L2048.8,782.8H2050.2L2050.2,779.9H2051.6L2051.6,778.5H2053.0L2053.0,776.2H2054.4L2054.4,777.5H2055.8L2055.8,775.8H2057.2L2057.2,768.8H2058.6L2058.6,771.4H2060.0L2060.0,769.6H2061.4L2061.4,765.9H2062.8L2062.8,763.4H2064.2L2064.2,764.2H2065.6L2065.6,763.7H2067.0L2067.0,765.0H2068.4L2068.4,762.9H2069.8L2069.8,758.7H2071.2L2071.2,761.6H2072.6L2072.6,756.0H2074.0L2074.0,759.2H2075.4L2075.4,752.9H2076.8L2076.8,752.1H2078.2L2078.2,749.9H2079.6L2079.6,748.7H2081.0L2081.0,751.1H2082.4L2082.4,748.8H2083.8L2083.8,746.8H2085.2L2085.2,744.8H2086.6L2086.6,739.3H2088.0L2088.0,740.2H2089.4L2089.4,738.7H2090.8L2090.8,735.6H2092.2L2092.2,735.0H2093.6L2093.6,728.4H2095.0L2095.0,724.6H2096.4L2096.4,719.9H2097.8L2097.8,713.7H2099.2L2099.2,716.0H2100.6L2100.6,713.9H2102.0L2102.0,707.3H2103.4L2103.4,700.7H2104.8L2104.8,687.7H2106.2L2106.2,677.6H2107.6L2107.6,664.7H2109.0L2109.0,647.8H2110.4L2110.4,635.6H2111.8L2111.8,623.3H2113.2L2113.2,608.4H2114.6L2114.6,591.2H2116.0L2116.0,583.1H2117.4L2117.4,571.7H2118.8L2118.8,555.0H2120.2L2120.2,549.3H2121.6L2121.6,536.6H2123.0L2123.0,532.5H2124.4L2124.4,526.4H2125.8L2125.8,513.1H2127.2L2127.2,502.6H2128.6L2128.6,507.3H2130.0L2130.0,497.1H2131.4L2131.4,494.0H2132.8L2132.8,478.3H2134.2L2134.2,482.0H2135.6L2135.6,480.9H2137.0L2137.0,475.8H2138.4L2138.4,462.7H2139.8L2139.8,460.6H2141.2L2141.2,455.5H2142.6L2142.6,456.3H2144.0L2144.0,453.0H2145.4L2145.4,445.9H2146.8L2146.8,437.2H2148.2L2148.2,442.2H2149.6L2149.6,434.4H2151.0L2151.0,435.6H2152.4L2152.4,431.1H2153.8L2153.8,433.4H2155.2L2155.2,429.0H2156.6L2156.6,420.5H2158.0L2158.0,421.4H2159.4L2159.4,424.8H2160.8L2160.8,413.4H2162.2L2162.2,415.6H2163.6L2163.6,421.1H2165.0L2165.0,423.9H2166.4L2166.4,423.0H2167.8L2167.8,415.1H2169.2L2169.2,414.8H2170.6L2170.6,421.1H2172.0L2172.0,424.8H2173.4L2173.4,434.7H2174.8L2174.8,424.5H2175.0L2175.0,1095.3Z"/></clipPath></defs>
<rect width="2360" height="1316" fill="#fff"/>
<text y="66.4" font-size="67" fill="#222" stroke="#222" stroke-width="1.5"><tspan x="23.78" textLength="234.47" lengthAdjust="spacingAndGlyphs">Bitcoin:</tspan> <tspan x="271.34" textLength="261.26" lengthAdjust="spacingAndGlyphs">Realized</tspan> <tspan x="548.92" textLength="124.66" lengthAdjust="spacingAndGlyphs">Cap</tspan> <tspan x="689.87" textLength="348.22" lengthAdjust="spacingAndGlyphs">Breakdown</tspan> <tspan x="1054.49" textLength="83.53" lengthAdjust="spacingAndGlyphs">for</tspan> <tspan x="1155.95" textLength="351.13" lengthAdjust="spacingAndGlyphs">Short-Term</tspan> <tspan x="1525.36" textLength="239.19" lengthAdjust="spacingAndGlyphs">Holders</tspan> <tspan x="1784.82" textLength="243.32" lengthAdjust="spacingAndGlyphs">[1d-6m]</tspan></text>
<text x="89.5" y="116.5" font-size="29.6" font-weight="bold" fill="#000" textLength="232" lengthAdjust="spacingAndGlyphs">(Stacked Chart)</text>
<rect x="25.5" y="134.5" width="2307" height="1061.5" fill="none" stroke="#e3e3e3" stroke-width="1.5"/>
<g font-size="15.6" fill="#333" stroke="#333" stroke-width="0.25"><circle cx="63" cy="160.0" r="6" fill="#868c94"/><text x="75.5" y="164.1" textLength="128.3" lengthAdjust="spacingAndGlyphs">BTC: Price [USD]</text><circle cx="432.5" cy="160.0" r="6" fill="#c79632"/><text x="445.0" y="164.1" textLength="302.5" lengthAdjust="spacingAndGlyphs" fill="#5a5a5a" stroke="#5a5a5a">BTC: Realized Cap by Age [USD]: 1d-1w</text><line x1="425.5" x2="747.5" y1="160.2" y2="160.2" stroke="#666" stroke-width="1.6"/><circle cx="802" cy="160.0" r="6" fill="#c79632"/><text x="814.5" y="164.1" textLength="306.5" lengthAdjust="spacingAndGlyphs" fill="#5a5a5a" stroke="#5a5a5a">BTC: Realized Cap by Age [USD]: 1w-1m</text><line x1="795" x2="1121" y1="160.2" y2="160.2" stroke="#666" stroke-width="1.6"/><circle cx="1172" cy="160.0" r="6" fill="#c79632"/><text x="1184.5" y="164.1" textLength="310.0" lengthAdjust="spacingAndGlyphs" fill="#5a5a5a" stroke="#5a5a5a">BTC: Realized Cap by Age [USD]: 1m-3m</text><line x1="1165" x2="1494.5" y1="160.2" y2="160.2" stroke="#666" stroke-width="1.6"/><circle cx="1542" cy="160.0" r="6" fill="#c79632"/><text x="1554.5" y="164.1" textLength="312.5" lengthAdjust="spacingAndGlyphs" fill="#5a5a5a" stroke="#5a5a5a">BTC: Realized Cap by Age [USD]: 3m-6m</text><line x1="1535" x2="1867" y1="160.2" y2="160.2" stroke="#666" stroke-width="1.6"/><circle cx="1912" cy="160.0" r="6" fill="#9b4fe0"/><text x="1924.5" y="164.1" textLength="220.5" lengthAdjust="spacingAndGlyphs">Realized Cap [3m-6m] [USD]</text><circle cx="63" cy="186.8" r="6" fill="#86a8f7"/><text x="75.5" y="192.3" textLength="217.5" lengthAdjust="spacingAndGlyphs">Realized Cap [1m-3m] [USD]</text><circle cx="432.5" cy="186.8" r="6" fill="#bf9a3c"/><text x="445.0" y="192.3" textLength="214.0" lengthAdjust="spacingAndGlyphs">Realized Cap [1w-1m] [USD]</text><circle cx="802" cy="186.8" r="6" fill="#b5431f"/><text x="814.5" y="192.3" textLength="210.5" lengthAdjust="spacingAndGlyphs">Realized Cap [1d-1w] [USD]</text><circle cx="1172" cy="186.8" r="6" fill="#000"/><text x="1184.5" y="192.3" textLength="128.0" lengthAdjust="spacingAndGlyphs">BTC: Price [USD]</text></g>
<g fill="none" stroke="#333" stroke-width="1.8" stroke-linejoin="round"><path d="M2280,160.5h4.5l2,-3h8l2,3h4.5a1,1 0 0 1 1,1v11a1,1 0 0 1 -1,1h-21a1,1 0 0 1 -1,-1v-11a1,1 0 0 1 1,-1z"/><circle cx="2290.5" cy="166.5" r="4"/></g>
<g stroke="#ececec" stroke-width="1.6"><line x1="188" x2="2176" y1="199.5" y2="199.5"/><line x1="188" x2="2176" y1="262" y2="262"/><line x1="188" x2="2176" y1="312" y2="312"/><line x1="188" x2="2176" y1="343" y2="343"/><line x1="188" x2="2176" y1="420" y2="420"/><line x1="188" x2="2176" y1="456" y2="456"/><line x1="188" x2="2176" y1="536" y2="536"/><line x1="188" x2="2176" y1="649" y2="649"/><line x1="188" x2="2176" y1="761" y2="761"/><line x1="188" x2="2176" y1="842" y2="842"/><line x1="188" x2="2176" y1="872" y2="872"/><line x1="188" x2="2176" y1="904" y2="904"/><line x1="188" x2="2176" y1="983.5" y2="983.5"/></g>
<g stroke="#ebebeb" stroke-width="1.4"><line x1="250.3" x2="250.3" y1="1095" y2="1111"/><line x1="450.5" x2="450.5" y1="1095" y2="1111"/><line x1="647.7" x2="647.7" y1="1095" y2="1111"/><line x1="848.9" x2="848.9" y1="1095" y2="1111"/><line x1="1045.5" x2="1045.5" y1="1095" y2="1111"/><line x1="1245" x2="1245" y1="1095" y2="1111"/><line x1="1443.5" x2="1443.5" y1="1095" y2="1111"/><line x1="1642" x2="1642" y1="1095" y2="1111"/><line x1="1840.5" x2="1840.5" y1="1095" y2="1111"/><line x1="2040" x2="2040" y1="1095" y2="1111"/></g>
<text y="688.5" font-size="141" fill="#dcdcdc" stroke="#dcdcdc" stroke-width="3"><tspan x="818.7" textLength="90.2" lengthAdjust="spacingAndGlyphs">g</tspan><tspan x="911.8" textLength="35.3" lengthAdjust="spacingAndGlyphs">l</tspan><tspan x="953.5" textLength="80.0" lengthAdjust="spacingAndGlyphs">a</tspan><tspan x="1051.0" textLength="62.5" lengthAdjust="spacingAndGlyphs">s</tspan><tspan x="1113.0" textLength="61.9" lengthAdjust="spacingAndGlyphs">s</tspan><tspan x="1170.7" textLength="99.4" lengthAdjust="spacingAndGlyphs">n</tspan><tspan x="1274.3" textLength="95.4" lengthAdjust="spacingAndGlyphs">o</tspan><tspan x="1374.8" textLength="75.4" lengthAdjust="spacingAndGlyphs">d</tspan><tspan x="1446.1" textLength="98.2" lengthAdjust="spacingAndGlyphs">e</tspan></text>
<path d="M189.6,1095.3L189.6,1036.1H191.0L191.0,1035.2H192.4L192.4,1033.3H193.8L193.8,1031.9H195.2L195.2,1030.1H196.6L196.6,1029.2H198.0L198.0,1028.6H199.4L199.4,1026.7H200.8L200.8,1026.4H202.2L202.2,1025.3H203.6L203.6,1024.9H205.0L205.0,1024.2H206.4L206.4,1022.6H207.8L207.8,1023.6H209.2L209.2,1022.9H210.6L210.6,1022.3H212.0L212.0,1020.4H213.4L213.4,1019.9H214.8L214.8,1020.2H216.2L216.2,1020.4H217.6L217.6,1020.7H219.0L219.0,1020.4H220.4L220.4,1020.6H221.8L221.8,1019.7H223.2L223.2,1020.2H224.6L224.6,1020.1H226.0L226.0,1019.2H227.4L227.4,1020.6H228.8L228.8,1019.8H230.2L230.2,1020.1H231.6L231.6,1018.3H233.0L233.0,1017.5H234.4L234.4,1017.1H235.8L235.8,1016.5H237.2L237.2,1016.4H238.6L238.6,1015.4H240.0L240.0,1014.2H241.4L241.4,1012.4H242.8L242.8,1010.3H244.2L244.2,1009.1H245.6L245.6,1005.2H247.0L247.0,1003.5H248.4L248.4,1001.7H249.8L249.8,998.9H251.2L251.2,998.7H252.6L252.6,998.2H254.0L254.0,994.5H255.4L255.4,994.2H256.8L256.8,992.9H258.2L258.2,991.1H259.6L259.6,991.7H261.0L261.0,990.7H262.4L262.4,989.0H263.8L263.8,990.4H265.2L265.2,989.7H266.6L266.6,989.4H268.0L268.0,989.3H269.4L269.4,987.9H270.8L270.8,987.2H272.2L272.2,985.3H273.6L273.6,985.9H275.0L275.0,984.0H276.4L276.4,983.2H277.8L277.8,981.5H279.2L279.2,980.8H280.6L280.6,980.3H282.0L282.0,981.0H283.4L283.4,977.5H284.8L284.8,976.7H286.2L286.2,977.2H287.6L287.6,977.4H289.0L289.0,975.7H290.4L290.4,972.8H291.8L291.8,971.8H293.2L293.2,973.2H294.6L294.6,971.9H296.0L296.0,971.3H297.4L297.4,972.9H298.8L298.8,972.8H300.2L300.2,971.6H301.6L301.6,971.4H303.0L303.0,971.3H304.4L304.4,972.1H305.8L305.8,970.9H307.2L307.2,970.5H308.6L308.6,970.3H310.0L310.0,967.9H311.4L311.4,970.2H312.8L312.8,969.5H314.2L314.2,968.7H315.6L315.6,966.2H317.0L317.0,966.7H318.4L318.4,967.7H319.8L319.8,964.9H321.2L321.2,965.9H322.6L322.6,966.6H324.0L324.0,964.0H325.4L325.4,966.4H326.8L326.8,965.1H328.2L328.2,964.3H329.6L329.6,964.8H331.0L331.0,965.0H332.4L332.4,964.5H333.8L333.8,965.4H335.2L335.2,963.6H336.6L336.6,963.8H338.0L338.0,965.2H339.4L339.4,964.2H340.8L340.8,963.3H342.2L342.2,965.0H343.6L343.6,965.5H345.0L345.0,963.6H346.4L346.4,962.6H347.8L347.8,963.8H349.2L349.2,963.7H350.6L350.6,963.5H352.0L352.0,965.1H353.4L353.4,962.7H354.8L354.8,964.8H356.2L356.2,962.3H357.6L357.6,962.7H359.0L359.0,964.0H360.4L360.4,964.4H361.8L361.8,964.1H363.2L363.2,963.5H364.6L364.6,963.3H366.0L366.0,963.2H367.4L367.4,963.6H368.8L368.8,962.7H370.2L370.2,963.1H371.6L371.6,963.3H373.0L373.0,962.5H374.4L374.4,963.1H375.8L375.8,962.7H377.2L377.2,963.5H378.6L378.6,962.0H380.0L380.0,961.1H381.4L381.4,961.0H382.8L382.8,961.1H384.2L384.2,961.9H385.6L385.6,960.4H387.0L387.0,960.9H388.4L388.4,962.1H389.8L389.8,959.1H391.2L391.2,959.8H392.6L392.6,961.3H394.0L394.0,961.7H395.4L395.4,961.7H396.8L396.8,961.3H398.2L398.2,962.5H399.6L399.6,962.4H401.0L401.0,961.8H402.4L402.4,964.0H403.8L403.8,963.0H405.2L405.2,962.3H406.6L406.6,963.1H408.0L408.0,963.4H409.4L409.4,963.9H410.8L410.8,962.7H412.2L412.2,964.2H413.6L413.6,966.0H415.0L415.0,964.2H416.4L416.4,965.6H417.8L417.8,967.0H419.2L419.2,967.2H420.6L420.6,968.2H422.0L422.0,965.6H423.4L423.4,967.1H424.8L424.8,967.5H426.2L426.2,968.8H427.6L427.6,969.6H429.0L429.0,967.5H430.4L430.4,970.5H431.8L431.8,968.5H433.2L433.2,970.9H434.6L434.6,969.3H436.0L436.0,971.3H437.4L437.4,972.6H438.8L438.8,971.8H440.2L440.2,972.5H441.6L441.6,973.5H443.0L443.0,973.4H444.4L444.4,973.7H445.8L445.8,975.8H447.2L447.2,975.9H448.6L448.6,975.2H450.0L450.0,977.5H451.4L451.4,975.6H452.8L452.8,978.0H454.2L454.2,977.5H455.6L455.6,978.4H457.0L457.0,979.5H458.4L458.4,979.6H459.8L459.8,980.5H461.2L461.2,979.0H462.6L462.6,979.5H464.0L464.0,981.8H465.4L465.4,980.8H466.8L466.8,981.2H468.2L468.2,981.2H469.6L469.6,984.0H471.0L471.0,984.0H472.4L472.4,985.0H473.8L473.8,983.4H475.2L475.2,984.6H476.6L476.6,984.0H478.0L478.0,986.0H479.4L479.4,986.9H480.8L480.8,985.1H482.2L482.2,987.5H483.6L483.6,987.3H485.0L485.0,986.5H486.4L486.4,985.6H487.8L487.8,988.4H489.2L489.2,987.5H490.6L490.6,987.3H492.0L492.0,988.4H493.4L493.4,988.7H494.8L494.8,989.5H496.2L496.2,987.1H497.6L497.6,988.7H499.0L499.0,988.7H500.4L500.4,988.4H501.8L501.8,986.7H503.2L503.2,986.0H504.6L504.6,987.2H506.0L506.0,986.1H507.4L507.4,985.9H508.8L508.8,987.2H510.2L510.2,986.0H511.6L511.6,985.2H513.0L513.0,986.5H514.4L514.4,985.8H515.8L515.8,988.1H517.2L517.2,987.9H518.6L518.6,987.4H520.0L520.0,988.2H521.4L521.4,989.3H522.8L522.8,989.5H524.2L524.2,991.4H525.6L525.6,991.1H527.0L527.0,992.8H528.4L528.4,994.0H529.8L529.8,994.9H531.2L531.2,993.9H532.6L532.6,996.0H534.0L534.0,994.9H535.4L535.4,996.1H536.8L536.8,996.6H538.2L538.2,999.5H539.6L539.6,997.9H541.0L541.0,999.0H542.4L542.4,999.0H543.8L543.8,999.2H545.2L545.2,999.0H546.6L546.6,999.7H548.0L548.0,1000.9H549.4L549.4,999.9H550.8L550.8,1000.4H552.2L552.2,1000.9H553.6L553.6,1000.1H555.0L555.0,999.4H556.4L556.4,1000.1H557.8L557.8,1001.4H559.2L559.2,999.5H560.6L560.6,1000.3H562.0L562.0,1001.7H563.4L563.4,1001.6H564.8L564.8,1001.1H566.2L566.2,1001.8H567.6L567.6,1001.4H569.0L569.0,1000.5H570.4L570.4,1000.3H571.8L571.8,1001.1H573.2L573.2,1002.4H574.6L574.6,1001.4H576.0L576.0,1001.2H577.4L577.4,1001.4H578.8L578.8,1000.9H580.2L580.2,1001.9H581.6L581.6,1000.8H583.0L583.0,1001.7H584.4L584.4,999.9H585.8L585.8,1001.1H587.2L587.2,1000.1H588.6L588.6,999.0H590.0L590.0,1000.6H591.4L591.4,999.5H592.8L592.8,998.2H594.2L594.2,998.5H595.6L595.6,999.1H597.0L597.0,998.2H598.4L598.4,998.9H599.8L599.8,998.6H601.2L601.2,998.4H602.6L602.6,997.9H604.0L604.0,998.5H605.4L605.4,997.8H606.8L606.8,997.4H608.2L608.2,995.6H609.6L609.6,997.3H611.0L611.0,997.5H612.4L612.4,996.0H613.8L613.8,995.7H615.2L615.2,997.1H616.6L616.6,994.4H618.0L618.0,995.8H619.4L619.4,996.5H620.8L620.8,994.3H622.2L622.2,995.4H623.6L623.6,995.9H625.0L625.0,994.4H626.4L626.4,994.7H627.8L627.8,994.8H629.2L629.2,993.2H630.6L630.6,993.7H632.0L632.0,993.8H633.4L633.4,994.0H634.8L634.8,993.2H636.2L636.2,992.8H637.6L637.6,992.0H639.0L639.0,992.3H640.4L640.4,993.2H641.8L641.8,992.4H643.2L643.2,991.4H644.6L644.6,991.2H646.0L646.0,993.0H647.4L647.4,992.5H648.8L648.8,991.9H650.2L650.2,989.9H651.6L651.6,991.5H653.0L653.0,991.2H654.4L654.4,992.0H655.8L655.8,990.8H657.2L657.2,990.2H658.6L658.6,990.5H660.0L660.0,988.6H661.4L661.4,990.7H662.8L662.8,990.0H664.2L664.2,989.0H665.6L665.6,990.5H667.0L667.0,990.6H668.4L668.4,988.0H669.8L669.8,988.4H671.2L671.2,989.1H672.6L672.6,988.9H674.0L674.0,988.2H675.4L675.4,987.6H676.8L676.8,989.6H678.2L678.2,989.0H679.6L679.6,987.0H681.0L681.0,986.7H682.4L682.4,989.1H683.8L683.8,988.4H685.2L685.2,988.8H686.6L686.6,988.0H688.0L688.0,986.4H689.4L689.4,987.2H690.8L690.8,985.5H692.2L692.2,986.1H693.6L693.6,986.5H695.0L695.0,986.8H696.4L696.4,985.5H697.8L697.8,985.8H699.2L699.2,986.1H700.6L700.6,985.8H702.0L702.0,985.8H703.4L703.4,985.2H704.8L704.8,984.6H706.2L706.2,985.3H707.6L707.6,984.5H709.0L709.0,983.5H710.4L710.4,983.5H711.8L711.8,983.8H713.2L713.2,983.5H714.6L714.6,983.5H716.0L716.0,983.2H717.4L717.4,983.1H718.8L718.8,982.6H720.2L720.2,981.4H721.6L721.6,982.7H723.0L723.0,983.0H724.4L724.4,982.3H725.8L725.8,981.5H727.2L727.2,981.9H728.6L728.6,980.5H730.0L730.0,979.8H731.4L731.4,981.1H732.8L732.8,980.0H734.2L734.2,981.3H735.6L735.6,979.6H737.0L737.0,978.9H738.4L738.4,979.3H739.8L739.8,981.4H741.2L741.2,979.5H742.6L742.6,978.5H744.0L744.0,978.8H745.4L745.4,979.8H746.8L746.8,979.6H748.2L748.2,979.2H749.6L749.6,980.2H751.0L751.0,979.3H752.4L752.4,978.5H753.8L753.8,978.9H755.2L755.2,979.6H756.6L756.6,978.9H758.0L758.0,978.7H759.4L759.4,976.7H760.8L760.8,977.3H762.2L762.2,977.4H763.6L763.6,975.9H765.0L765.0,976.5H766.4L766.4,975.5H767.8L767.8,975.2H769.2L769.2,973.6H770.6L770.6,974.6H772.0L772.0,972.7H773.4L773.4,969.7H774.8L774.8,968.3H776.2L776.2,968.1H777.6L777.6,964.5H779.0L779.0,964.0H780.4L780.4,962.3H781.8L781.8,959.3H783.2L783.2,956.2H784.6L784.6,955.6H786.0L786.0,953.8H787.4L787.4,953.1H788.8L788.8,951.5H790.2L790.2,949.5H791.6L791.6,949.1H793.0L793.0,947.6H794.4L794.4,946.0H795.8L795.8,944.6H797.2L797.2,943.1H798.6L798.6,942.9H800.0L800.0,939.7H801.4L801.4,938.3H802.8L802.8,936.9H804.2L804.2,933.1H805.6L805.6,932.2H807.0L807.0,928.7H808.4L808.4,927.7H809.8L809.8,927.1H811.2L811.2,925.0H812.6L812.6,922.1H814.0L814.0,919.8H815.4L815.4,916.6H816.8L816.8,918.6H818.2L818.2,915.5H819.6L819.6,914.5H821.0L821.0,910.2H822.4L822.4,909.4H823.8L823.8,905.8H825.2L825.2,907.1H826.6L826.6,905.6H828.0L828.0,899.9H829.4L829.4,897.8H830.8L830.8,894.5H832.2L832.2,887.2H833.6L833.6,883.0H835.0L835.0,879.5H836.4L836.4,875.9H837.8L837.8,870.6H839.2L839.2,868.5H840.6L840.6,864.6H842.0L842.0,859.7H843.4L843.4,852.8H844.8L844.8,847.2H846.2L846.2,839.7H847.6L847.6,828.5H849.0L849.0,821.2H850.4L850.4,810.4H851.8L851.8,800.5H853.2L853.2,792.5H854.6L854.6,782.9H856.0L856.0,772.5H857.4L857.4,756.0H858.8L858.8,744.5H860.2L860.2,735.2H861.6L861.6,728.3H863.0L863.0,721.5H864.4L864.4,715.5H865.8L865.8,709.1H867.2L867.2,710.9H868.6L868.6,708.4H870.0L870.0,705.7H871.4L871.4,702.6H872.8L872.8,702.1H874.2L874.2,695.5H875.6L875.6,695.4H877.0L877.0,695.0H878.4L878.4,688.4H879.8L879.8,689.8H881.2L881.2,686.9H882.6L882.6,680.3H884.0L884.0,680.3H885.4L885.4,677.3H886.8L886.8,676.5H888.2L888.2,674.1H889.6L889.6,669.5H891.0L891.0,663.8H892.4L892.4,662.2H893.8L893.8,658.9H895.2L895.2,657.5H896.6L896.6,653.7H898.0L898.0,649.5H899.4L899.4,646.4H900.8L900.8,612.7H902.2L902.2,595.1H903.6L903.6,585.5H905.0L905.0,580.1H906.4L906.4,570.7H907.8L907.8,566.0H909.2L909.2,560.8H910.6L910.6,551.3H912.0L912.0,553.9H913.4L913.4,541.8H914.8L914.8,542.3H916.2L916.2,534.8H917.6L917.6,534.0H919.0L919.0,518.9H920.4L920.4,519.3H921.8L921.8,518.5H923.2L923.2,515.5H924.6L924.6,516.5H926.0L926.0,504.7H927.4L927.4,501.5H928.8L928.8,493.2H930.2L930.2,487.4H931.6L931.6,482.2H933.0L933.0,476.3H934.4L934.4,475.2H935.8L935.8,465.9H937.2L937.2,470.7H938.6L938.6,458.3H940.0L940.0,458.8H941.4L941.4,461.6H942.8L942.8,448.7H944.2L944.2,445.1H945.6L945.6,443.9H947.0L947.0,433.9H948.4L948.4,425.1H949.8L949.8,424.0H951.2L951.2,420.4H952.6L952.6,416.0H954.0L954.0,405.2H955.4L955.4,410.5H956.8L956.8,405.3H958.2L958.2,393.7H959.6L959.6,389.8H961.0L961.0,382.0H962.4L962.4,384.8H963.8L963.8,371.0H965.2L965.2,372.0H966.6L966.6,362.1H968.0L968.0,356.3H969.4L969.4,357.5H970.8L970.8,356.7H972.2L972.2,347.5H973.6L973.6,341.2H975.0L975.0,344.4H976.4L976.4,337.2H977.8L977.8,335.4H979.2L979.2,338.1H980.6L980.6,333.9H982.0L982.0,324.0H983.4L983.4,333.2H984.8L984.8,321.3H986.2L986.2,322.3H987.6L987.6,314.1H989.0L989.0,315.4H990.4L990.4,306.2H991.8L991.8,320.9H993.2L993.2,317.6H994.6L994.6,304.4H996.0L996.0,303.7H997.4L997.4,305.3H998.8L998.8,320.1H1000.2L1000.2,314.8H1001.6L1001.6,318.7H1003.0L1003.0,317.4H1004.4L1004.4,317.1H1005.8L1005.8,311.6H1007.2L1007.2,315.5H1008.6L1008.6,307.7H1010.0L1010.0,312.7H1011.4L1011.4,313.3H1012.8L1012.8,313.5H1014.2L1014.2,311.2H1015.6L1015.6,309.0H1017.0L1017.0,314.7H1018.4L1018.4,312.6H1019.8L1019.8,322.7H1021.2L1021.2,320.3H1022.6L1022.6,318.4H1024.0L1024.0,318.9H1025.4L1025.4,319.9H1026.8L1026.8,321.0H1028.2L1028.2,325.1H1029.6L1029.6,328.5H1031.0L1031.0,329.9H1032.4L1032.4,330.6H1033.8L1033.8,345.0H1035.2L1035.2,343.1H1036.6L1036.6,355.0H1038.0L1038.0,368.2H1039.4L1039.4,355.4H1040.8L1040.8,365.4H1042.2L1042.2,372.5H1043.6L1043.6,376.2H1045.0L1045.0,380.4H1046.4L1046.4,380.9H1047.8L1047.8,386.5H1049.2L1049.2,388.4H1050.6L1050.6,398.9H1052.0L1052.0,400.0H1053.4L1053.4,415.5H1054.8L1054.8,421.8H1056.2L1056.2,420.5H1057.6L1057.6,423.3H1059.0L1059.0,432.6H1060.4L1060.4,430.2H1061.8L1061.8,436.6H1063.2L1063.2,438.4H1064.6L1064.6,438.1H1066.0L1066.0,440.3H1067.4L1067.4,439.3H1068.8L1068.8,435.7H1070.2L1070.2,442.4H1071.6L1071.6,446.0H1073.0L1073.0,443.9H1074.4L1074.4,447.3H1075.8L1075.8,452.3H1077.2L1077.2,447.9H1078.6L1078.6,433.5H1080.0L1080.0,435.4H1081.4L1081.4,429.3H1082.8L1082.8,435.4H1084.2L1084.2,437.6H1085.6L1085.6,447.5H1087.0L1087.0,446.2H1088.4L1088.4,449.9H1089.8L1089.8,444.4H1091.2L1091.2,447.6H1092.6L1092.6,448.2H1094.0L1094.0,442.0H1095.4L1095.4,454.8H1096.8L1096.8,456.0H1098.2L1098.2,451.6H1099.6L1099.6,466.5H1101.0L1101.0,468.9H1102.4L1102.4,485.1H1103.8L1103.8,500.2H1105.2L1105.2,502.6H1106.6L1106.6,507.5H1108.0L1108.0,513.7H1109.4L1109.4,506.9H1110.8L1110.8,505.7H1112.2L1112.2,504.2H1113.6L1113.6,503.7H1115.0L1115.0,508.2H1116.4L1116.4,512.0H1117.8L1117.8,512.8H1119.2L1119.2,518.2H1120.6L1120.6,530.6H1122.0L1122.0,527.4H1123.4L1123.4,531.1H1124.8L1124.8,539.3H1126.2L1126.2,543.5H1127.6L1127.6,542.6H1129.0L1129.0,545.9H1130.4L1130.4,553.4H1131.8L1131.8,556.1H1133.2L1133.2,553.9H1134.6L1134.6,560.2H1136.0L1136.0,561.5H1137.4L1137.4,566.6H1138.8L1138.8,566.6H1140.2L1140.2,568.6H1141.6L1141.6,569.6H1143.0L1143.0,575.9H1144.4L1144.4,578.8H1145.8L1145.8,575.3H1147.2L1147.2,581.8H1148.6L1148.6,579.7H1150.0L1150.0,585.0H1151.4L1151.4,589.9H1152.8L1152.8,593.7H1154.2L1154.2,585.1H1155.6L1155.6,583.2H1157.0L1157.0,581.3H1158.4L1158.4,579.2H1159.8L1159.8,591.3H1161.2L1161.2,596.7H1162.6L1162.6,607.3H1164.0L1164.0,598.4H1165.4L1165.4,590.2H1166.8L1166.8,590.6H1168.2L1168.2,585.7H1169.6L1169.6,577.6H1171.0L1171.0,576.5H1172.4L1172.4,569.5H1173.8L1173.8,565.7H1175.2L1175.2,566.3H1176.6L1176.6,557.0H1178.0L1178.0,557.0H1179.4L1179.4,556.3H1180.8L1180.8,556.3H1182.2L1182.2,550.3H1183.6L1183.6,549.0H1185.0L1185.0,543.0H1186.4L1186.4,543.7H1187.8L1187.8,545.6H1189.2L1189.2,535.4H1190.6L1190.6,542.1H1192.0L1192.0,530.4H1193.4L1193.4,530.1H1194.8L1194.8,532.8H1196.2L1196.2,538.1H1197.6L1197.6,533.0H1199.0L1199.0,532.6H1200.4L1200.4,543.7H1201.8L1201.8,541.6H1203.2L1203.2,538.2H1204.6L1204.6,540.3H1206.0L1206.0,531.2H1207.4L1207.4,528.6H1208.8L1208.8,528.1H1210.2L1210.2,526.6H1211.6L1211.6,531.5H1213.0L1213.0,522.3H1214.4L1214.4,525.7H1215.8L1215.8,520.5H1217.2L1217.2,530.9H1218.6L1218.6,525.5H1220.0L1220.0,528.1H1221.4L1221.4,530.4H1222.8L1222.8,521.5H1224.2L1224.2,518.9H1225.6L1225.6,518.0H1227.0L1227.0,516.8H1228.4L1228.4,517.5H1229.8L1229.8,521.8H1231.2L1231.2,519.8H1232.6L1232.6,519.9H1234.0L1234.0,521.9H1235.4L1235.4,528.8H1236.8L1236.8,530.6H1238.2L1238.2,531.0H1239.6L1239.6,533.2H1241.0L1241.0,529.9H1242.4L1242.4,526.0H1243.8L1243.8,534.2H1245.2L1245.2,530.3H1246.6L1246.6,525.3H1248.0L1248.0,535.9H1249.4L1249.4,537.1H1250.8L1250.8,534.6H1252.2L1252.2,547.2H1253.6L1253.6,543.0H1255.0L1255.0,544.8H1256.4L1256.4,542.5H1257.8L1257.8,541.4H1259.2L1259.2,536.8H1260.6L1260.6,546.3H1262.0L1262.0,546.9H1263.4L1263.4,549.6H1264.8L1264.8,555.4H1266.2L1266.2,559.0H1267.6L1267.6,565.8H1269.0L1269.0,567.4H1270.4L1270.4,573.4H1271.8L1271.8,571.9H1273.2L1273.2,580.9H1274.6L1274.6,587.7H1276.0L1276.0,593.2H1277.4L1277.4,591.6H1278.8L1278.8,595.8H1280.2L1280.2,600.3H1281.6L1281.6,593.5H1283.0L1283.0,595.6H1284.4L1284.4,597.3H1285.8L1285.8,591.2H1287.2L1287.2,593.7H1288.6L1288.6,585.4H1290.0L1290.0,585.4H1291.4L1291.4,581.7H1292.8L1292.8,580.1H1294.2L1294.2,585.3H1295.6L1295.6,590.4H1297.0L1297.0,584.0H1298.4L1298.4,586.4H1299.8L1299.8,591.4H1301.2L1301.2,587.2H1302.6L1302.6,592.5H1304.0L1304.0,593.3H1305.4L1305.4,591.3H1306.8L1306.8,594.3H1308.2L1308.2,588.2H1309.6L1309.6,592.9H1311.0L1311.0,583.7H1312.4L1312.4,584.0H1313.8L1313.8,582.2H1315.2L1315.2,580.4H1316.6L1316.6,582.2H1318.0L1318.0,581.2H1319.4L1319.4,581.1H1320.8L1320.8,585.4H1322.2L1322.2,590.0H1323.6L1323.6,586.1H1325.0L1325.0,585.8H1326.4L1326.4,587.1H1327.8L1327.8,582.8H1329.2L1329.2,576.6H1330.6L1330.6,585.8H1332.0L1332.0,584.9H1333.4L1333.4,571.4H1334.8L1334.8,576.6H1336.2L1336.2,577.2H1337.6L1337.6,578.1H1339.0L1339.0,576.5H1340.4L1340.4,573.8H1341.8L1341.8,571.7H1343.2L1343.2,575.6H1344.6L1344.6,578.7H1346.0L1346.0,572.4H1347.4L1347.4,572.8H1348.8L1348.8,575.3H1350.2L1350.2,568.6H1351.6L1351.6,573.1H1353.0L1353.0,571.9H1354.4L1354.4,574.4H1355.8L1355.8,572.6H1357.2L1357.2,574.0H1358.6L1358.6,577.3H1360.0L1360.0,578.1H1361.4L1361.4,580.1H1362.8L1362.8,586.0H1364.2L1364.2,592.1H1365.6L1365.6,597.3H1367.0L1367.0,602.2H1368.4L1368.4,596.9H1369.8L1369.8,600.1H1371.2L1371.2,597.2H1372.6L1372.6,611.1H1374.0L1374.0,605.7H1375.4L1375.4,610.6H1376.8L1376.8,615.0H1378.2L1378.2,612.3H1379.6L1379.6,620.4H1381.0L1381.0,622.5H1382.4L1382.4,621.6H1383.8L1383.8,631.8H1385.2L1385.2,638.5H1386.6L1386.6,634.2H1388.0L1388.0,645.4H1389.4L1389.4,647.4H1390.8L1390.8,651.5H1392.2L1392.2,653.3H1393.6L1393.6,657.5H1395.0L1395.0,655.2H1396.4L1396.4,660.0H1397.8L1397.8,658.5H1399.2L1399.2,663.4H1400.6L1400.6,661.2H1402.0L1402.0,664.6H1403.4L1403.4,670.8H1404.8L1404.8,668.8H1406.2L1406.2,668.6H1407.6L1407.6,667.5H1409.0L1409.0,669.8H1410.4L1410.4,673.7H1411.8L1411.8,677.0H1413.2L1413.2,677.1H1414.6L1414.6,678.8H1416.0L1416.0,678.7H1417.4L1417.4,683.7H1418.8L1418.8,680.6H1420.2L1420.2,681.7H1421.6L1421.6,687.9H1423.0L1423.0,694.2H1424.4L1424.4,701.8H1425.8L1425.8,704.0H1427.2L1427.2,705.6H1428.6L1428.6,708.6H1430.0L1430.0,708.8H1431.4L1431.4,706.0H1432.8L1432.8,710.7H1434.2L1434.2,711.0H1435.6L1435.6,709.1H1437.0L1437.0,714.2H1438.4L1438.4,712.6H1439.8L1439.8,714.3H1441.2L1441.2,718.8H1442.6L1442.6,721.9H1444.0L1444.0,719.1H1445.4L1445.4,723.5H1446.8L1446.8,722.4H1448.2L1448.2,731.0H1449.6L1449.6,726.1H1451.0L1451.0,730.5H1452.4L1452.4,726.8H1453.8L1453.8,730.7H1455.2L1455.2,734.1H1456.6L1456.6,725.1H1458.0L1458.0,729.4H1459.4L1459.4,732.1H1460.8L1460.8,731.3H1462.2L1462.2,730.5H1463.6L1463.6,737.7H1465.0L1465.0,734.2H1466.4L1466.4,731.4H1467.8L1467.8,738.0H1469.2L1469.2,733.3H1470.6L1470.6,740.8H1472.0L1472.0,738.0H1473.4L1473.4,740.6H1474.8L1474.8,744.1H1476.2L1476.2,742.7H1477.6L1477.6,740.8H1479.0L1479.0,741.6H1480.4L1480.4,749.2H1481.8L1481.8,749.7H1483.2L1483.2,747.7H1484.6L1484.6,752.7H1486.0L1486.0,753.3H1487.4L1487.4,755.0H1488.8L1488.8,750.6H1490.2L1490.2,755.7H1491.6L1491.6,759.1H1493.0L1493.0,759.7H1494.4L1494.4,760.9H1495.8L1495.8,755.6H1497.2L1497.2,761.3H1498.6L1498.6,762.9H1500.0L1500.0,767.3H1501.4L1501.4,768.7H1502.8L1502.8,777.7H1504.2L1504.2,786.1H1505.6L1505.6,795.4H1507.0L1507.0,799.8H1508.4L1508.4,804.7H1509.8L1509.8,802.9H1511.2L1511.2,806.8H1512.6L1512.6,807.2H1514.0L1514.0,810.3H1515.4L1515.4,810.6H1516.8L1516.8,810.9H1518.2L1518.2,817.2H1519.6L1519.6,817.2H1521.0L1521.0,817.0H1522.4L1522.4,819.8H1523.8L1523.8,822.6H1525.2L1525.2,820.5H1526.6L1526.6,823.4H1528.0L1528.0,826.0H1529.4L1529.4,827.3H1530.8L1530.8,827.3H1532.2L1532.2,828.6H1533.6L1533.6,838.4H1535.0L1535.0,841.1H1536.4L1536.4,844.7H1537.8L1537.8,848.0H1539.2L1539.2,849.7H1540.6L1540.6,849.5H1542.0L1542.0,849.4H1543.4L1543.4,850.7H1544.8L1544.8,851.9H1546.2L1546.2,852.7H1547.6L1547.6,852.7H1549.0L1549.0,856.4H1550.4L1550.4,854.2H1551.8L1551.8,858.1H1553.2L1553.2,856.2H1554.6L1554.6,859.1H1556.0L1556.0,861.3H1557.4L1557.4,860.2H1558.8L1558.8,859.5H1560.2L1560.2,861.4H1561.6L1561.6,862.2H1563.0L1563.0,860.1H1564.4L1564.4,862.5H1565.8L1565.8,864.2H1567.2L1567.2,863.8H1568.6L1568.6,865.2H1570.0L1570.0,866.7H1571.4L1571.4,867.3H1572.8L1572.8,868.0H1574.2L1574.2,868.0H1575.6L1575.6,867.2H1577.0L1577.0,868.2H1578.4L1578.4,868.3H1579.8L1579.8,869.1H1581.2L1581.2,870.3H1582.6L1582.6,868.9H1584.0L1584.0,871.9H1585.4L1585.4,873.3H1586.8L1586.8,872.8H1588.2L1588.2,875.2H1589.6L1589.6,876.1H1591.0L1591.0,874.6H1592.4L1592.4,877.4H1593.8L1593.8,870.7H1595.2L1595.2,873.0H1596.6L1596.6,870.1H1598.0L1598.0,873.7H1599.4L1599.4,874.8H1600.8L1600.8,868.1H1602.2L1602.2,870.8H1603.6L1603.6,871.7H1605.0L1605.0,871.0H1606.4L1606.4,872.8H1607.8L1607.8,869.4H1609.2L1609.2,874.3H1610.6L1610.6,874.1H1612.0L1612.0,874.1H1613.4L1613.4,873.7H1614.8L1614.8,876.0H1616.2L1616.2,874.9H1617.6L1617.6,877.0H1619.0L1619.0,877.0H1620.4L1620.4,876.5H1621.8L1621.8,879.8H1623.2L1623.2,881.2H1624.6L1624.6,883.0H1626.0L1626.0,881.7H1627.4L1627.4,884.0H1628.8L1628.8,885.9H1630.2L1630.2,886.3H1631.6L1631.6,888.7H1633.0L1633.0,890.1H1634.4L1634.4,887.5H1635.8L1635.8,887.4H1637.2L1637.2,891.6H1638.6L1638.6,893.4H1640.0L1640.0,893.5H1641.4L1641.4,894.2H1642.8L1642.8,893.1H1644.2L1644.2,893.5H1645.6L1645.6,895.6H1647.0L1647.0,893.2H1648.4L1648.4,892.3H1649.8L1649.8,893.1H1651.2L1651.2,896.6H1652.6L1652.6,896.6H1654.0L1654.0,893.5H1655.4L1655.4,893.5H1656.8L1656.8,894.8H1658.2L1658.2,893.2H1659.6L1659.6,895.6H1661.0L1661.0,893.4H1662.4L1662.4,891.7H1663.8L1663.8,894.6H1665.2L1665.2,891.7H1666.6L1666.6,892.4H1668.0L1668.0,891.7H1669.4L1669.4,891.0H1670.8L1670.8,891.5H1672.2L1672.2,890.6H1673.6L1673.6,889.8H1675.0L1675.0,890.4H1676.4L1676.4,891.4H1677.8L1677.8,892.6H1679.2L1679.2,894.1H1680.6L1680.6,894.7H1682.0L1682.0,895.9H1683.4L1683.4,895.9H1684.8L1684.8,895.1H1686.2L1686.2,895.0H1687.6L1687.6,893.6H1689.0L1689.0,895.4H1690.4L1690.4,896.1H1691.8L1691.8,896.0H1693.2L1693.2,894.9H1694.6L1694.6,894.7H1696.0L1696.0,896.0H1697.4L1697.4,894.6H1698.8L1698.8,895.2H1700.2L1700.2,894.5H1701.6L1701.6,893.5H1703.0L1703.0,894.5H1704.4L1704.4,891.4H1705.8L1705.8,891.1H1707.2L1707.2,890.0H1708.6L1708.6,889.5H1710.0L1710.0,892.2H1711.4L1711.4,891.7H1712.8L1712.8,888.6H1714.2L1714.2,888.1H1715.6L1715.6,887.8H1717.0L1717.0,886.0H1718.4L1718.4,885.4H1719.8L1719.8,880.7H1721.2L1721.2,880.3H1722.6L1722.6,880.6H1724.0L1724.0,880.8H1725.4L1725.4,877.7H1726.8L1726.8,875.5H1728.2L1728.2,875.5H1729.6L1729.6,874.4H1731.0L1731.0,873.4H1732.4L1732.4,876.2H1733.8L1733.8,872.3H1735.2L1735.2,872.6H1736.6L1736.6,875.0H1738.0L1738.0,872.9H1739.4L1739.4,870.9H1740.8L1740.8,868.6H1742.2L1742.2,869.2H1743.6L1743.6,870.1H1745.0L1745.0,867.7H1746.4L1746.4,867.7H1747.8L1747.8,865.0H1749.2L1749.2,864.7H1750.6L1750.6,861.5H1752.0L1752.0,860.1H1753.4L1753.4,859.0H1754.8L1754.8,852.2H1756.2L1756.2,851.9H1757.6L1757.6,851.9H1759.0L1759.0,850.3H1760.4L1760.4,850.4H1761.8L1761.8,851.9H1763.2L1763.2,853.5H1764.6L1764.6,851.1H1766.0L1766.0,850.3H1767.4L1767.4,847.0H1768.8L1768.8,852.3H1770.2L1770.2,849.1H1771.6L1771.6,848.6H1773.0L1773.0,846.6H1774.4L1774.4,848.8H1775.8L1775.8,848.1H1777.2L1777.2,850.9H1778.6L1778.6,852.4H1780.0L1780.0,852.7H1781.4L1781.4,854.0H1782.8L1782.8,853.2H1784.2L1784.2,857.4H1785.6L1785.6,854.1H1787.0L1787.0,852.3H1788.4L1788.4,854.8H1789.8L1789.8,853.9H1791.2L1791.2,853.5H1792.6L1792.6,854.6H1794.0L1794.0,855.6H1795.4L1795.4,853.3H1796.8L1796.8,854.9H1798.2L1798.2,857.3H1799.6L1799.6,855.9H1801.0L1801.0,854.4H1802.4L1802.4,854.7H1803.8L1803.8,854.1H1805.2L1805.2,854.1H1806.6L1806.6,855.1H1808.0L1808.0,853.7H1809.4L1809.4,850.3H1810.8L1810.8,853.4H1812.2L1812.2,852.1H1813.6L1813.6,854.7H1815.0L1815.0,852.8H1816.4L1816.4,854.2H1817.8L1817.8,857.4H1819.2L1819.2,852.6H1820.6L1820.6,852.6H1822.0L1822.0,852.3H1823.4L1823.4,851.3H1824.8L1824.8,851.8H1826.2L1826.2,855.5H1827.6L1827.6,854.1H1829.0L1829.0,851.4H1830.4L1830.4,850.6H1831.8L1831.8,852.5H1833.2L1833.2,848.9H1834.6L1834.6,848.1H1836.0L1836.0,847.9H1837.4L1837.4,848.1H1838.8L1838.8,847.7H1840.2L1840.2,844.8H1841.6L1841.6,842.0H1843.0L1843.0,841.3H1844.4L1844.4,843.5H1845.8L1845.8,842.3H1847.2L1847.2,838.9H1848.6L1848.6,839.7H1850.0L1850.0,838.9H1851.4L1851.4,838.0H1852.8L1852.8,836.5H1854.2L1854.2,834.6H1855.6L1855.6,835.4H1857.0L1857.0,832.9H1858.4L1858.4,836.7H1859.8L1859.8,834.7H1861.2L1861.2,830.9H1862.6L1862.6,834.5H1864.0L1864.0,832.8H1865.4L1865.4,827.2H1866.8L1866.8,832.7H1868.2L1868.2,830.1H1869.6L1869.6,831.4H1871.0L1871.0,824.9H1872.4L1872.4,827.1H1873.8L1873.8,826.6H1875.2L1875.2,826.0H1876.6L1876.6,825.7H1878.0L1878.0,827.0H1879.4L1879.4,822.3H1880.8L1880.8,822.5H1882.2L1882.2,822.0H1883.6L1883.6,823.3H1885.0L1885.0,823.0H1886.4L1886.4,824.4H1887.8L1887.8,824.0H1889.2L1889.2,823.4H1890.6L1890.6,821.9H1892.0L1892.0,822.1H1893.4L1893.4,824.4H1894.8L1894.8,824.5H1896.2L1896.2,823.7H1897.6L1897.6,823.4H1899.0L1899.0,827.1H1900.4L1900.4,823.8H1901.8L1901.8,826.4H1903.2L1903.2,827.7H1904.6L1904.6,825.6H1906.0L1906.0,827.9H1907.4L1907.4,825.0H1908.8L1908.8,829.1H1910.2L1910.2,828.1H1911.6L1911.6,825.6H1913.0L1913.0,830.0H1914.4L1914.4,827.9H1915.8L1915.8,832.2H1917.2L1917.2,829.4H1918.6L1918.6,830.8H1920.0L1920.0,832.2H1921.4L1921.4,831.7H1922.8L1922.8,833.2H1924.2L1924.2,832.4H1925.6L1925.6,835.1H1927.0L1927.0,834.5H1928.4L1928.4,835.6H1929.8L1929.8,832.5H1931.2L1931.2,838.8H1932.6L1932.6,837.7H1934.0L1934.0,835.5H1935.4L1935.4,839.4H1936.8L1936.8,840.8H1938.2L1938.2,842.6H1939.6L1939.6,839.9H1941.0L1941.0,845.2H1942.4L1942.4,843.4H1943.8L1943.8,848.1H1945.2L1945.2,845.4H1946.6L1946.6,847.8H1948.0L1948.0,846.1H1949.4L1949.4,844.9H1950.8L1950.8,848.5H1952.2L1952.2,848.2H1953.6L1953.6,849.2H1955.0L1955.0,848.1H1956.4L1956.4,845.8H1957.8L1957.8,844.0H1959.2L1959.2,845.7H1960.6L1960.6,845.6H1962.0L1962.0,845.4H1963.4L1963.4,847.7H1964.8L1964.8,845.5H1966.2L1966.2,842.0H1967.6L1967.6,840.3H1969.0L1969.0,837.3H1970.4L1970.4,835.5H1971.8L1971.8,835.4H1973.2L1973.2,835.1H1974.6L1974.6,831.6H1976.0L1976.0,829.5H1977.4L1977.4,833.8H1978.8L1978.8,830.8H1980.2L1980.2,831.8H1981.6L1981.6,826.4H1983.0L1983.0,828.0H1984.4L1984.4,827.8H1985.8L1985.8,823.3H1987.2L1987.2,822.9H1988.6L1988.6,823.2H1990.0L1990.0,821.8H1991.4L1991.4,820.8H1992.8L1992.8,814.5H1994.2L1994.2,812.8H1995.6L1995.6,815.7H1997.0L1997.0,815.8H1998.4L1998.4,813.9H1999.8L1999.8,810.6H2001.2L2001.2,813.8H2002.6L2002.6,813.2H2004.0L2004.0,812.2H2005.4L2005.4,808.9H2006.8L2006.8,807.7H2008.2L2008.2,806.1H2009.6L2009.6,801.0H2011.0L2011.0,796.0H2012.4L2012.4,797.5H2013.8L2013.8,795.3H2015.2L2015.2,792.0H2016.6L2016.6,793.9H2018.0L2018.0,791.2H2019.4L2019.4,792.4H2020.8L2020.8,792.1H2022.2L2022.2,794.0H2023.6L2023.6,796.1H2025.0L2025.0,792.7H2026.4L2026.4,797.3H2027.8L2027.8,796.5H2029.2L2029.2,794.9H2030.6L2030.6,793.6H2032.0L2032.0,794.9H2033.4L2033.4,790.3H2034.8L2034.8,789.5H2036.2L2036.2,786.7H2037.6L2037.6,788.7H2039.0L2039.0,789.5H2040.4L2040.4,787.4H2041.8L2041.8,786.8H2043.2L2043.2,785.1H2044.6L2044.6,785.3H2046.0L2046.0,781.7H2047.4L2047.4,786.1H2048.8L2048.8,782.8H2050.2L2050.2,779.9H2051.6L2051.6,778.5H2053.0L2053.0,776.2H2054.4L2054.4,777.5H2055.8L2055.8,775.8H2057.2L2057.2,768.8H2058.6L2058.6,771.4H2060.0L2060.0,769.6H2061.4L2061.4,765.9H2062.8L2062.8,763.4H2064.2L2064.2,764.2H2065.6L2065.6,763.7H2067.0L2067.0,765.0H2068.4L2068.4,762.9H2069.8L2069.8,758.7H2071.2L2071.2,761.6H2072.6L2072.6,756.0H2074.0L2074.0,759.2H2075.4L2075.4,752.9H2076.8L2076.8,752.1H2078.2L2078.2,749.9H2079.6L2079.6,748.7H2081.0L2081.0,751.1H2082.4L2082.4,748.8H2083.8L2083.8,746.8H2085.2L2085.2,744.8H2086.6L2086.6,739.3H2088.0L2088.0,740.2H2089.4L2089.4,738.7H2090.8L2090.8,735.6H2092.2L2092.2,735.0H2093.6L2093.6,728.4H2095.0L2095.0,724.6H2096.4L2096.4,719.9H2097.8L2097.8,713.7H2099.2L2099.2,716.0H2100.6L2100.6,713.9H2102.0L2102.0,707.3H2103.4L2103.4,700.7H2104.8L2104.8,687.7H2106.2L2106.2,677.6H2107.6L2107.6,664.7H2109.0L2109.0,647.8H2110.4L2110.4,635.6H2111.8L2111.8,623.3H2113.2L2113.2,608.4H2114.6L2114.6,591.2H2116.0L2116.0,583.1H2117.4L2117.4,571.7H2118.8L2118.8,555.0H2120.2L2120.2,549.3H2121.6L2121.6,536.6H2123.0L2123.0,532.5H2124.4L2124.4,526.4H2125.8L2125.8,513.1H2127.2L2127.2,502.6H2128.6L2128.6,507.3H2130.0L2130.0,497.1H2131.4L2131.4,494.0H2132.8L2132.8,478.3H2134.2L2134.2,482.0H2135.6L2135.6,480.9H2137.0L2137.0,475.8H2138.4L2138.4,462.7H2139.8L2139.8,460.6H2141.2L2141.2,455.5H2142.6L2142.6,456.3H2144.0L2144.0,453.0H2145.4L2145.4,445.9H2146.8L2146.8,437.2H2148.2L2148.2,442.2H2149.6L2149.6,434.4H2151.0L2151.0,435.6H2152.4L2152.4,431.1H2153.8L2153.8,433.4H2155.2L2155.2,429.0H2156.6L2156.6,420.5H2158.0L2158.0,421.4H2159.4L2159.4,424.8H2160.8L2160.8,413.4H2162.2L2162.2,415.6H2163.6L2163.6,421.1H2165.0L2165.0,423.9H2166.4L2166.4,423.0H2167.8L2167.8,415.1H2169.2L2169.2,414.8H2170.6L2170.6,421.1H2172.0L2172.0,424.8H2173.4L2173.4,434.7H2174.8L2174.8,424.5H2175.0L2175.0,1095.3Z" fill="#8a40d3"/>
<text y="688.5" font-size="141" fill="#000" stroke="#000" stroke-width="3" opacity="0.055" aria-hidden="true"><tspan x="818.7" textLength="90.2" lengthAdjust="spacingAndGlyphs">g</tspan><tspan x="911.8" textLength="35.3" lengthAdjust="spacingAndGlyphs">l</tspan><tspan x="953.5" textLength="80.0" lengthAdjust="spacingAndGlyphs">a</tspan><tspan x="1051.0" textLength="62.5" lengthAdjust="spacingAndGlyphs">s</tspan><tspan x="1113.0" textLength="61.9" lengthAdjust="spacingAndGlyphs">s</tspan><tspan x="1170.7" textLength="99.4" lengthAdjust="spacingAndGlyphs">n</tspan><tspan x="1274.3" textLength="95.4" lengthAdjust="spacingAndGlyphs">o</tspan><tspan x="1374.8" textLength="75.4" lengthAdjust="spacingAndGlyphs">d</tspan><tspan x="1446.1" textLength="98.2" lengthAdjust="spacingAndGlyphs">e</tspan></text>
<path d="M189.6,1095.3L189.6,1065.8H191.0L191.0,1064.3H192.4L192.4,1061.9H193.8L193.8,1060.8H195.2L195.2,1059.8H196.6L196.6,1058.1H198.0L198.0,1056.9H199.4L199.4,1055.8H200.8L200.8,1054.1H202.2L202.2,1053.8H203.6L203.6,1052.3H205.0L205.0,1051.4H206.4L206.4,1051.0H207.8L207.8,1049.5H209.2L209.2,1049.0H210.6L210.6,1048.7H212.0L212.0,1046.7H213.4L213.4,1045.4H214.8L214.8,1044.8H216.2L216.2,1043.0H217.6L217.6,1042.7H219.0L219.0,1040.0H220.4L220.4,1040.1H221.8L221.8,1039.0H223.2L223.2,1038.5H224.6L224.6,1039.7H226.0L226.0,1037.8H227.4L227.4,1039.0H228.8L228.8,1038.1H230.2L230.2,1038.2H231.6L231.6,1036.3H233.0L233.0,1037.4H234.4L234.4,1036.9H235.8L235.8,1034.4H237.2L237.2,1033.0H238.6L238.6,1032.8H240.0L240.0,1030.5H241.4L241.4,1028.6H242.8L242.8,1027.1H244.2L244.2,1026.5H245.6L245.6,1024.5H247.0L247.0,1022.5H248.4L248.4,1021.8H249.8L249.8,1018.4H251.2L251.2,1017.2H252.6L252.6,1016.1H254.0L254.0,1012.2H255.4L255.4,1012.8H256.8L256.8,1012.6H258.2L258.2,1009.4H259.6L259.6,1008.9H261.0L261.0,1008.3H262.4L262.4,1007.1H263.8L263.8,1008.1H265.2L265.2,1005.7H266.6L266.6,1006.8H268.0L268.0,1006.9H269.4L269.4,1003.5H270.8L270.8,1004.0H272.2L272.2,1002.1H273.6L273.6,1003.5H275.0L275.0,1001.5H276.4L276.4,1001.2H277.8L277.8,1000.8H279.2L279.2,1000.5H280.6L280.6,999.0H282.0L282.0,998.7H283.4L283.4,997.4H284.8L284.8,997.4H286.2L286.2,995.4H287.6L287.6,995.9H289.0L289.0,993.6H290.4L290.4,994.0H291.8L291.8,995.3H293.2L293.2,993.8H294.6L294.6,992.7H296.0L296.0,994.3H297.4L297.4,993.3H298.8L298.8,992.9H300.2L300.2,993.9H301.6L301.6,995.5H303.0L303.0,995.3H304.4L304.4,995.0H305.8L305.8,994.4H307.2L307.2,994.3H308.6L308.6,996.6H310.0L310.0,995.5H311.4L311.4,994.4H312.8L312.8,993.8H314.2L314.2,994.0H315.6L315.6,996.8H317.0L317.0,994.2H318.4L318.4,995.2H319.8L319.8,995.5H321.2L321.2,995.1H322.6L322.6,995.0H324.0L324.0,994.0H325.4L325.4,994.3H326.8L326.8,996.9H328.2L328.2,995.1H329.6L329.6,996.9H331.0L331.0,995.0H332.4L332.4,996.6H333.8L333.8,997.4H335.2L335.2,998.5H336.6L336.6,996.8H338.0L338.0,998.8H339.4L339.4,998.9H340.8L340.8,998.4H342.2L342.2,1000.3H343.6L343.6,999.7H345.0L345.0,1000.5H346.4L346.4,1001.9H347.8L347.8,1001.2H349.2L349.2,1003.2H350.6L350.6,1003.1H352.0L352.0,1003.4H353.4L353.4,1005.1H354.8L354.8,1007.1H356.2L356.2,1007.1H357.6L357.6,1009.6H359.0L359.0,1008.6H360.4L360.4,1009.5H361.8L361.8,1013.0H363.2L363.2,1013.0H364.6L364.6,1014.5H366.0L366.0,1014.1H367.4L367.4,1016.5H368.8L368.8,1016.9H370.2L370.2,1018.1H371.6L371.6,1018.5H373.0L373.0,1020.3H374.4L374.4,1019.7H375.8L375.8,1020.4H377.2L377.2,1020.9H378.6L378.6,1023.7H380.0L380.0,1023.2H381.4L381.4,1023.5H382.8L382.8,1023.4H384.2L384.2,1023.6H385.6L385.6,1022.8H387.0L387.0,1023.4H388.4L388.4,1023.0H389.8L389.8,1022.8H391.2L391.2,1022.4H392.6L392.6,1022.9H394.0L394.0,1022.4H395.4L395.4,1023.0H396.8L396.8,1023.6H398.2L398.2,1024.2H399.6L399.6,1023.3H401.0L401.0,1024.6H402.4L402.4,1025.0H403.8L403.8,1026.6H405.2L405.2,1025.4H406.6L406.6,1026.6H408.0L408.0,1027.4H409.4L409.4,1028.0H410.8L410.8,1029.5H412.2L412.2,1029.0H413.6L413.6,1030.6H415.0L415.0,1029.4H416.4L416.4,1029.9H417.8L417.8,1032.4H419.2L419.2,1032.4H420.6L420.6,1033.0H422.0L422.0,1033.3H423.4L423.4,1034.1H424.8L424.8,1033.5H426.2L426.2,1035.4H427.6L427.6,1034.7H429.0L429.0,1036.0H430.4L430.4,1035.7H431.8L431.8,1034.8H433.2L433.2,1035.3H434.6L434.6,1037.2H436.0L436.0,1036.6H437.4L437.4,1036.7H438.8L438.8,1037.4H440.2L440.2,1037.3H441.6L441.6,1037.5H443.0L443.0,1038.1H444.4L444.4,1038.3H445.8L445.8,1039.3H447.2L447.2,1038.5H448.6L448.6,1039.6H450.0L450.0,1039.7H451.4L451.4,1039.8H452.8L452.8,1039.6H454.2L454.2,1039.1H455.6L455.6,1039.2H457.0L457.0,1039.1H458.4L458.4,1038.9H459.8L459.8,1039.4H461.2L461.2,1039.2H462.6L462.6,1040.7H464.0L464.0,1039.7H465.4L465.4,1038.6H466.8L466.8,1037.3H468.2L468.2,1037.8H469.6L469.6,1037.0H471.0L471.0,1036.0H472.4L472.4,1035.5H473.8L473.8,1034.6H475.2L475.2,1035.6H476.6L476.6,1034.6H478.0L478.0,1035.7H479.4L479.4,1034.6H480.8L480.8,1034.5H482.2L482.2,1035.6H483.6L483.6,1034.7H485.0L485.0,1034.7H486.4L486.4,1034.4H487.8L487.8,1034.2H489.2L489.2,1035.6H490.6L490.6,1035.2H492.0L492.0,1034.6H493.4L493.4,1032.4H494.8L494.8,1031.7H496.2L496.2,1030.1H497.6L497.6,1030.5H499.0L499.0,1027.9H500.4L500.4,1028.4H501.8L501.8,1028.5H503.2L503.2,1028.6H504.6L504.6,1026.8H506.0L506.0,1028.1H507.4L507.4,1026.7H508.8L508.8,1026.5H510.2L510.2,1026.0H511.6L511.6,1027.7H513.0L513.0,1027.9H514.4L514.4,1026.2H515.8L515.8,1026.0H517.2L517.2,1026.2H518.6L518.6,1027.5H520.0L520.0,1026.9H521.4L521.4,1025.7H522.8L522.8,1025.0H524.2L524.2,1025.8H525.6L525.6,1027.3H527.0L527.0,1027.7H528.4L528.4,1026.5H529.8L529.8,1026.3H531.2L531.2,1026.5H532.6L532.6,1025.9H534.0L534.0,1027.8H535.4L535.4,1026.5H536.8L536.8,1028.1H538.2L538.2,1026.3H539.6L539.6,1026.7H541.0L541.0,1027.9H542.4L542.4,1027.2H543.8L543.8,1028.3H545.2L545.2,1027.8H546.6L546.6,1026.9H548.0L548.0,1028.2H549.4L549.4,1028.4H550.8L550.8,1026.6H552.2L552.2,1028.9H553.6L553.6,1028.1H555.0L555.0,1028.3H556.4L556.4,1026.6H557.8L557.8,1027.3H559.2L559.2,1027.5H560.6L560.6,1028.6H562.0L562.0,1026.7H563.4L563.4,1027.2H564.8L564.8,1026.8H566.2L566.2,1027.9H567.6L567.6,1028.4H569.0L569.0,1027.1H570.4L570.4,1027.9H571.8L571.8,1028.7H573.2L573.2,1029.6H574.6L574.6,1029.0H576.0L576.0,1028.4H577.4L577.4,1027.9H578.8L578.8,1028.1H580.2L580.2,1028.4H581.6L581.6,1029.1H583.0L583.0,1029.0H584.4L584.4,1030.3H585.8L585.8,1029.5H587.2L587.2,1028.6H588.6L588.6,1030.5H590.0L590.0,1030.2H591.4L591.4,1029.6H592.8L592.8,1029.0H594.2L594.2,1028.4H595.6L595.6,1028.9H597.0L597.0,1030.3H598.4L598.4,1029.1H599.8L599.8,1028.8H601.2L601.2,1029.9H602.6L602.6,1029.9H604.0L604.0,1030.2H605.4L605.4,1030.3H606.8L606.8,1030.8H608.2L608.2,1029.3H609.6L609.6,1030.6H611.0L611.0,1029.2H612.4L612.4,1030.4H613.8L613.8,1030.1H615.2L615.2,1030.2H616.6L616.6,1030.7H618.0L618.0,1030.0H619.4L619.4,1030.9H620.8L620.8,1030.7H622.2L622.2,1030.2H623.6L623.6,1029.8H625.0L625.0,1029.7H626.4L626.4,1029.9H627.8L627.8,1030.1H629.2L629.2,1030.3H630.6L630.6,1031.5H632.0L632.0,1030.9H633.4L633.4,1031.0H634.8L634.8,1029.9H636.2L636.2,1030.0H637.6L637.6,1030.4H639.0L639.0,1030.8H640.4L640.4,1029.9H641.8L641.8,1031.8H643.2L643.2,1030.4H644.6L644.6,1031.6H646.0L646.0,1029.7H647.4L647.4,1030.9H648.8L648.8,1031.1H650.2L650.2,1031.1H651.6L651.6,1031.4H653.0L653.0,1031.2H654.4L654.4,1031.2H655.8L655.8,1030.0H657.2L657.2,1030.7H658.6L658.6,1030.0H660.0L660.0,1031.3H661.4L661.4,1030.8H662.8L662.8,1030.2H664.2L664.2,1029.6H665.6L665.6,1029.5H667.0L667.0,1030.8H668.4L668.4,1030.6H669.8L669.8,1029.2H671.2L671.2,1029.9H672.6L672.6,1027.6H674.0L674.0,1027.4H675.4L675.4,1027.9H676.8L676.8,1027.4H678.2L678.2,1027.4H679.6L679.6,1027.3H681.0L681.0,1027.7H682.4L682.4,1025.3H683.8L683.8,1025.1H685.2L685.2,1024.6H686.6L686.6,1023.7H688.0L688.0,1023.7H689.4L689.4,1023.5H690.8L690.8,1020.6H692.2L692.2,1021.1H693.6L693.6,1020.5H695.0L695.0,1020.7H696.4L696.4,1019.0H697.8L697.8,1018.8H699.2L699.2,1018.5H700.6L700.6,1019.9H702.0L702.0,1019.4H703.4L703.4,1019.1H704.8L704.8,1017.6H706.2L706.2,1018.3H707.6L707.6,1017.8H709.0L709.0,1017.0H710.4L710.4,1017.2H711.8L711.8,1018.2H713.2L713.2,1017.9H714.6L714.6,1017.3H716.0L716.0,1017.7H717.4L717.4,1016.6H718.8L718.8,1017.1H720.2L720.2,1016.9H721.6L721.6,1017.2H723.0L723.0,1016.6H724.4L724.4,1016.4H725.8L725.8,1016.3H727.2L727.2,1015.8H728.6L728.6,1017.5H730.0L730.0,1016.5H731.4L731.4,1016.3H732.8L732.8,1017.1H734.2L734.2,1016.7H735.6L735.6,1014.1H737.0L737.0,1015.7H738.4L738.4,1015.5H739.8L739.8,1015.9H741.2L741.2,1015.4H742.6L742.6,1014.7H744.0L744.0,1012.8H745.4L745.4,1012.8H746.8L746.8,1013.5H748.2L748.2,1013.4H749.6L749.6,1011.9H751.0L751.0,1012.1H752.4L752.4,1011.9H753.8L753.8,1012.0H755.2L755.2,1012.0H756.6L756.6,1011.2H758.0L758.0,1010.1H759.4L759.4,1011.9H760.8L760.8,1011.9H762.2L762.2,1010.0H763.6L763.6,1010.4H765.0L765.0,1009.4H766.4L766.4,1009.0H767.8L767.8,1008.4H769.2L769.2,1006.8H770.6L770.6,1007.4H772.0L772.0,1007.3H773.4L773.4,1005.1H774.8L774.8,1006.5H776.2L776.2,1005.6H777.6L777.6,1004.7H779.0L779.0,1003.8H780.4L780.4,1001.3H781.8L781.8,998.3H783.2L783.2,996.1H784.6L784.6,994.0H786.0L786.0,992.9H787.4L787.4,991.3H788.8L788.8,990.9H790.2L790.2,987.6H791.6L791.6,989.8H793.0L793.0,988.7H794.4L794.4,986.0H795.8L795.8,985.7H797.2L797.2,984.5H798.6L798.6,983.2H800.0L800.0,981.7H801.4L801.4,980.4H802.8L802.8,978.3H804.2L804.2,977.9H805.6L805.6,976.3H807.0L807.0,975.3H808.4L808.4,972.6H809.8L809.8,972.2H811.2L811.2,970.8H812.6L812.6,970.0H814.0L814.0,966.7H815.4L815.4,967.2H816.8L816.8,966.6H818.2L818.2,965.0H819.6L819.6,962.6H821.0L821.0,961.2H822.4L822.4,960.3H823.8L823.8,960.3H825.2L825.2,960.0H826.6L826.6,956.7H828.0L828.0,953.9H829.4L829.4,949.9H830.8L830.8,944.3H832.2L832.2,937.4H833.6L833.6,932.3H835.0L835.0,927.8H836.4L836.4,923.5H837.8L837.8,915.4H839.2L839.2,906.2H840.6L840.6,898.8H842.0L842.0,886.1H843.4L843.4,878.6H844.8L844.8,869.2H846.2L846.2,858.6H847.6L847.6,847.0H849.0L849.0,839.1H850.4L850.4,828.7H851.8L851.8,820.5H853.2L853.2,809.5H854.6L854.6,805.5H856.0L856.0,790.6H857.4L857.4,785.8H858.8L858.8,778.9H860.2L860.2,777.0H861.6L861.6,768.9H863.0L863.0,767.6H864.4L864.4,760.6H865.8L865.8,761.0H867.2L867.2,762.7H868.6L868.6,756.1H870.0L870.0,757.4H871.4L871.4,752.9H872.8L872.8,757.0H874.2L874.2,756.7H875.6L875.6,752.5H877.0L877.0,746.6H878.4L878.4,747.9H879.8L879.8,747.2H881.2L881.2,744.2H882.6L882.6,740.6H884.0L884.0,729.8H885.4L885.4,729.4H886.8L886.8,731.8H888.2L888.2,720.8H889.6L889.6,722.7H891.0L891.0,716.6H892.4L892.4,705.0H893.8L893.8,697.7H895.2L895.2,684.8H896.6L896.6,674.4H898.0L898.0,671.7H899.4L899.4,665.1H900.8L900.8,659.2H902.2L902.2,655.4H903.6L903.6,645.4H905.0L905.0,638.4H906.4L906.4,631.1H907.8L907.8,621.4H909.2L909.2,620.0H910.6L910.6,611.2H912.0L912.0,608.7H913.4L913.4,606.6H914.8L914.8,603.9H916.2L916.2,610.0H917.6L917.6,604.5H919.0L919.0,597.0H920.4L920.4,594.2H921.8L921.8,591.2H923.2L923.2,585.3H924.6L924.6,586.9H926.0L926.0,574.0H927.4L927.4,576.2H928.8L928.8,570.7H930.2L930.2,561.3H931.6L931.6,563.7H933.0L933.0,560.8H934.4L934.4,560.9H935.8L935.8,556.5H937.2L937.2,562.7H938.6L938.6,558.2H940.0L940.0,563.8H941.4L941.4,571.1H942.8L942.8,570.1H944.2L944.2,564.0H945.6L945.6,559.7H947.0L947.0,564.5H948.4L948.4,549.8H949.8L949.8,557.3H951.2L951.2,569.1H952.6L952.6,574.9H954.0L954.0,574.3H955.4L955.4,577.1H956.8L956.8,591.4H958.2L958.2,585.7H959.6L959.6,581.0H961.0L961.0,584.0H962.4L962.4,586.5H963.8L963.8,573.1H965.2L965.2,583.2H966.6L966.6,579.6H968.0L968.0,566.3H969.4L969.4,575.2H970.8L970.8,563.0H972.2L972.2,573.2H973.6L973.6,569.4H975.0L975.0,575.3H976.4L976.4,563.7H977.8L977.8,565.3H979.2L979.2,568.6H980.6L980.6,560.0H982.0L982.0,557.0H983.4L983.4,555.6H984.8L984.8,554.1H986.2L986.2,547.2H987.6L987.6,550.8H989.0L989.0,557.0H990.4L990.4,561.5H991.8L991.8,574.3H993.2L993.2,568.7H994.6L994.6,577.6H996.0L996.0,572.8H997.4L997.4,580.3H998.8L998.8,572.9H1000.2L1000.2,587.6H1001.6L1001.6,592.8H1003.0L1003.0,598.1H1004.4L1004.4,602.7H1005.8L1005.8,607.1H1007.2L1007.2,609.1H1008.6L1008.6,607.5H1010.0L1010.0,616.3H1011.4L1011.4,619.8H1012.8L1012.8,623.3H1014.2L1014.2,625.0H1015.6L1015.6,631.7H1017.0L1017.0,638.4H1018.4L1018.4,638.3H1019.8L1019.8,642.9H1021.2L1021.2,655.7H1022.6L1022.6,658.9H1024.0L1024.0,663.2H1025.4L1025.4,668.4H1026.8L1026.8,668.0H1028.2L1028.2,673.1H1029.6L1029.6,681.7H1031.0L1031.0,682.1H1032.4L1032.4,689.0H1033.8L1033.8,696.2H1035.2L1035.2,701.7H1036.6L1036.6,705.4H1038.0L1038.0,714.7H1039.4L1039.4,716.9H1040.8L1040.8,723.9H1042.2L1042.2,729.1H1043.6L1043.6,732.1H1045.0L1045.0,736.5H1046.4L1046.4,735.5H1047.8L1047.8,739.3H1049.2L1049.2,745.4H1050.6L1050.6,753.0H1052.0L1052.0,760.8H1053.4L1053.4,758.8H1054.8L1054.8,767.9H1056.2L1056.2,770.1H1057.6L1057.6,775.6H1059.0L1059.0,781.8H1060.4L1060.4,789.2H1061.8L1061.8,792.2H1063.2L1063.2,798.7H1064.6L1064.6,797.8H1066.0L1066.0,806.3H1067.4L1067.4,810.6H1068.8L1068.8,812.8H1070.2L1070.2,817.9H1071.6L1071.6,820.7H1073.0L1073.0,824.7H1074.4L1074.4,831.3H1075.8L1075.8,833.6H1077.2L1077.2,831.7H1078.6L1078.6,818.4H1080.0L1080.0,823.7H1081.4L1081.4,824.1H1082.8L1082.8,827.8H1084.2L1084.2,832.2H1085.6L1085.6,832.5H1087.0L1087.0,839.5H1088.4L1088.4,841.9H1089.8L1089.8,840.1H1091.2L1091.2,844.4H1092.6L1092.6,844.3H1094.0L1094.0,844.1H1095.4L1095.4,846.4H1096.8L1096.8,842.3H1098.2L1098.2,844.2H1099.6L1099.6,844.7H1101.0L1101.0,841.3H1102.4L1102.4,844.4H1103.8L1103.8,837.6H1105.2L1105.2,836.5H1106.6L1106.6,838.8H1108.0L1108.0,834.1H1109.4L1109.4,834.2H1110.8L1110.8,829.2H1112.2L1112.2,830.9H1113.6L1113.6,826.5H1115.0L1115.0,827.7H1116.4L1116.4,821.9H1117.8L1117.8,824.2H1119.2L1119.2,823.0H1120.6L1120.6,825.1H1122.0L1122.0,826.2H1123.4L1123.4,828.1H1124.8L1124.8,826.4H1126.2L1126.2,826.2H1127.6L1127.6,831.0H1129.0L1129.0,828.6H1130.4L1130.4,829.2H1131.8L1131.8,830.7H1133.2L1133.2,825.2H1134.6L1134.6,827.4H1136.0L1136.0,827.3H1137.4L1137.4,825.9H1138.8L1138.8,828.5H1140.2L1140.2,826.8H1141.6L1141.6,824.6H1143.0L1143.0,823.6H1144.4L1144.4,826.7H1145.8L1145.8,822.9H1147.2L1147.2,824.8H1148.6L1148.6,823.8H1150.0L1150.0,816.1H1151.4L1151.4,814.4H1152.8L1152.8,813.3H1154.2L1154.2,810.5H1155.6L1155.6,808.0H1157.0L1157.0,804.6H1158.4L1158.4,801.7H1159.8L1159.8,794.8H1161.2L1161.2,791.4H1162.6L1162.6,790.1H1164.0L1164.0,783.4H1165.4L1165.4,783.3H1166.8L1166.8,773.1H1168.2L1168.2,774.9H1169.6L1169.6,769.1H1171.0L1171.0,761.0H1172.4L1172.4,765.1H1173.8L1173.8,759.9H1175.2L1175.2,755.6H1176.6L1176.6,749.0H1178.0L1178.0,745.9H1179.4L1179.4,746.5H1180.8L1180.8,735.3H1182.2L1182.2,727.0H1183.6L1183.6,725.6H1185.0L1185.0,720.0H1186.4L1186.4,721.9H1187.8L1187.8,719.9H1189.2L1189.2,717.2H1190.6L1190.6,716.2H1192.0L1192.0,720.5H1193.4L1193.4,712.1H1194.8L1194.8,720.8H1196.2L1196.2,712.3H1197.6L1197.6,709.2H1199.0L1199.0,713.1H1200.4L1200.4,710.8H1201.8L1201.8,704.4H1203.2L1203.2,708.1H1204.6L1204.6,698.8H1206.0L1206.0,699.9H1207.4L1207.4,704.6H1208.8L1208.8,699.7H1210.2L1210.2,695.8H1211.6L1211.6,700.6H1213.0L1213.0,701.1H1214.4L1214.4,697.6H1215.8L1215.8,691.5H1217.2L1217.2,695.2H1218.6L1218.6,696.8H1220.0L1220.0,697.2H1221.4L1221.4,700.1H1222.8L1222.8,693.7H1224.2L1224.2,693.0H1225.6L1225.6,694.3H1227.0L1227.0,698.1H1228.4L1228.4,691.6H1229.8L1229.8,698.4H1231.2L1231.2,688.0H1232.6L1232.6,696.9H1234.0L1234.0,692.4H1235.4L1235.4,696.4H1236.8L1236.8,698.1H1238.2L1238.2,693.3H1239.6L1239.6,697.6H1241.0L1241.0,699.5H1242.4L1242.4,701.5H1243.8L1243.8,697.8H1245.2L1245.2,698.8H1246.6L1246.6,697.7H1248.0L1248.0,711.3H1249.4L1249.4,706.1H1250.8L1250.8,707.7H1252.2L1252.2,705.5H1253.6L1253.6,714.3H1255.0L1255.0,711.7H1256.4L1256.4,719.9H1257.8L1257.8,720.8H1259.2L1259.2,721.0H1260.6L1260.6,725.5H1262.0L1262.0,722.9H1263.4L1263.4,727.7H1264.8L1264.8,729.6H1266.2L1266.2,731.3H1267.6L1267.6,739.0H1269.0L1269.0,742.8H1270.4L1270.4,751.3H1271.8L1271.8,746.0H1273.2L1273.2,752.6H1274.6L1274.6,754.3H1276.0L1276.0,757.8H1277.4L1277.4,762.5H1278.8L1278.8,764.7H1280.2L1280.2,766.1H1281.6L1281.6,767.2H1283.0L1283.0,771.9H1284.4L1284.4,773.9H1285.8L1285.8,770.8H1287.2L1287.2,777.0H1288.6L1288.6,776.7H1290.0L1290.0,779.5H1291.4L1291.4,785.1H1292.8L1292.8,787.2H1294.2L1294.2,789.6H1295.6L1295.6,789.6H1297.0L1297.0,793.6H1298.4L1298.4,794.2H1299.8L1299.8,799.6H1301.2L1301.2,802.6H1302.6L1302.6,807.4H1304.0L1304.0,811.9H1305.4L1305.4,813.8H1306.8L1306.8,821.1H1308.2L1308.2,824.8H1309.6L1309.6,820.0H1311.0L1311.0,816.3H1312.4L1312.4,806.0H1313.8L1313.8,795.4H1315.2L1315.2,797.0H1316.6L1316.6,796.6H1318.0L1318.0,800.4H1319.4L1319.4,798.9H1320.8L1320.8,799.2H1322.2L1322.2,802.3H1323.6L1323.6,795.9H1325.0L1325.0,795.5H1326.4L1326.4,801.7H1327.8L1327.8,797.6H1329.2L1329.2,794.6H1330.6L1330.6,791.3H1332.0L1332.0,792.1H1333.4L1333.4,790.4H1334.8L1334.8,795.2H1336.2L1336.2,794.8H1337.6L1337.6,796.7H1339.0L1339.0,793.6H1340.4L1340.4,792.0H1341.8L1341.8,792.0H1343.2L1343.2,798.3H1344.6L1344.6,789.8H1346.0L1346.0,794.5H1347.4L1347.4,794.3H1348.8L1348.8,795.8H1350.2L1350.2,793.5H1351.6L1351.6,795.8H1353.0L1353.0,796.6H1354.4L1354.4,794.5H1355.8L1355.8,793.9H1357.2L1357.2,794.7H1358.6L1358.6,793.0H1360.0L1360.0,795.0H1361.4L1361.4,795.1H1362.8L1362.8,796.6H1364.2L1364.2,799.6H1365.6L1365.6,799.8H1367.0L1367.0,796.4H1368.4L1368.4,800.6H1369.8L1369.8,801.6H1371.2L1371.2,804.4H1372.6L1372.6,804.5H1374.0L1374.0,806.8H1375.4L1375.4,806.9H1376.8L1376.8,807.9H1378.2L1378.2,813.4H1379.6L1379.6,816.1H1381.0L1381.0,815.7H1382.4L1382.4,815.6H1383.8L1383.8,815.6H1385.2L1385.2,814.3H1386.6L1386.6,811.7H1388.0L1388.0,817.5H1389.4L1389.4,816.8H1390.8L1390.8,815.5H1392.2L1392.2,815.0H1393.6L1393.6,820.2H1395.0L1395.0,813.9H1396.4L1396.4,822.2H1397.8L1397.8,820.2H1399.2L1399.2,823.8H1400.6L1400.6,818.2H1402.0L1402.0,820.1H1403.4L1403.4,819.6H1404.8L1404.8,824.0H1406.2L1406.2,830.2H1407.6L1407.6,836.1H1409.0L1409.0,846.8H1410.4L1410.4,850.1H1411.8L1411.8,853.9H1413.2L1413.2,855.4H1414.6L1414.6,852.7H1416.0L1416.0,852.3H1417.4L1417.4,853.3H1418.8L1418.8,851.3H1420.2L1420.2,850.6H1421.6L1421.6,856.2H1423.0L1423.0,859.4H1424.4L1424.4,866.3H1425.8L1425.8,864.5H1427.2L1427.2,871.6H1428.6L1428.6,871.3H1430.0L1430.0,873.8H1431.4L1431.4,875.7H1432.8L1432.8,878.5H1434.2L1434.2,881.3H1435.6L1435.6,884.3H1437.0L1437.0,882.1H1438.4L1438.4,887.3H1439.8L1439.8,888.4H1441.2L1441.2,889.9H1442.6L1442.6,888.6H1444.0L1444.0,892.4H1445.4L1445.4,891.8H1446.8L1446.8,893.6H1448.2L1448.2,893.6H1449.6L1449.6,896.2H1451.0L1451.0,898.0H1452.4L1452.4,899.1H1453.8L1453.8,897.9H1455.2L1455.2,900.9H1456.6L1456.6,901.9H1458.0L1458.0,898.1H1459.4L1459.4,902.0H1460.8L1460.8,897.4H1462.2L1462.2,900.5H1463.6L1463.6,900.5H1465.0L1465.0,902.0H1466.4L1466.4,900.0H1467.8L1467.8,898.8H1469.2L1469.2,898.3H1470.6L1470.6,898.1H1472.0L1472.0,901.9H1473.4L1473.4,900.8H1474.8L1474.8,900.5H1476.2L1476.2,903.0H1477.6L1477.6,901.5H1479.0L1479.0,902.5H1480.4L1480.4,903.0H1481.8L1481.8,906.8H1483.2L1483.2,907.2H1484.6L1484.6,905.5H1486.0L1486.0,904.2H1487.4L1487.4,908.0H1488.8L1488.8,908.5H1490.2L1490.2,909.8H1491.6L1491.6,911.0H1493.0L1493.0,910.5H1494.4L1494.4,913.3H1495.8L1495.8,914.0H1497.2L1497.2,914.0H1498.6L1498.6,914.2H1500.0L1500.0,915.1H1501.4L1501.4,917.9H1502.8L1502.8,916.3H1504.2L1504.2,918.7H1505.6L1505.6,918.9H1507.0L1507.0,919.0H1508.4L1508.4,923.0H1509.8L1509.8,923.1H1511.2L1511.2,925.2H1512.6L1512.6,928.7H1514.0L1514.0,927.7H1515.4L1515.4,932.0H1516.8L1516.8,934.8H1518.2L1518.2,937.9H1519.6L1519.6,937.6H1521.0L1521.0,942.4H1522.4L1522.4,944.1H1523.8L1523.8,947.9H1525.2L1525.2,949.9H1526.6L1526.6,951.5H1528.0L1528.0,955.1H1529.4L1529.4,955.4H1530.8L1530.8,957.2H1532.2L1532.2,958.0H1533.6L1533.6,958.0H1535.0L1535.0,959.8H1536.4L1536.4,958.6H1537.8L1537.8,961.1H1539.2L1539.2,962.4H1540.6L1540.6,963.8H1542.0L1542.0,962.9H1543.4L1543.4,965.6H1544.8L1544.8,964.1H1546.2L1546.2,965.7H1547.6L1547.6,965.1H1549.0L1549.0,967.1H1550.4L1550.4,968.1H1551.8L1551.8,971.7H1553.2L1553.2,971.7H1554.6L1554.6,971.0H1556.0L1556.0,973.8H1557.4L1557.4,974.8H1558.8L1558.8,975.5H1560.2L1560.2,977.6H1561.6L1561.6,979.1H1563.0L1563.0,980.8H1564.4L1564.4,981.5H1565.8L1565.8,985.0H1567.2L1567.2,988.2H1568.6L1568.6,989.7H1570.0L1570.0,987.1H1571.4L1571.4,985.7H1572.8L1572.8,985.3H1574.2L1574.2,985.5H1575.6L1575.6,984.0H1577.0L1577.0,982.1H1578.4L1578.4,982.1H1579.8L1579.8,980.4H1581.2L1581.2,980.0H1582.6L1582.6,977.9H1584.0L1584.0,975.6H1585.4L1585.4,976.0H1586.8L1586.8,975.6H1588.2L1588.2,972.4H1589.6L1589.6,972.2H1591.0L1591.0,971.9H1592.4L1592.4,969.1H1593.8L1593.8,967.4H1595.2L1595.2,968.6H1596.6L1596.6,966.3H1598.0L1598.0,965.1H1599.4L1599.4,961.7H1600.8L1600.8,964.3H1602.2L1602.2,960.2H1603.6L1603.6,961.1H1605.0L1605.0,962.2H1606.4L1606.4,962.5H1607.8L1607.8,959.6H1609.2L1609.2,959.5H1610.6L1610.6,960.2H1612.0L1612.0,957.7H1613.4L1613.4,960.1H1614.8L1614.8,960.1H1616.2L1616.2,958.9H1617.6L1617.6,960.0H1619.0L1619.0,960.3H1620.4L1620.4,959.8H1621.8L1621.8,960.0H1623.2L1623.2,961.2H1624.6L1624.6,958.8H1626.0L1626.0,959.6H1627.4L1627.4,958.9H1628.8L1628.8,960.9H1630.2L1630.2,959.4H1631.6L1631.6,960.6H1633.0L1633.0,960.4H1634.4L1634.4,960.5H1635.8L1635.8,962.5H1637.2L1637.2,960.6H1638.6L1638.6,962.6H1640.0L1640.0,962.0H1641.4L1641.4,962.6H1642.8L1642.8,960.9H1644.2L1644.2,962.2H1645.6L1645.6,962.0H1647.0L1647.0,960.4H1648.4L1648.4,961.4H1649.8L1649.8,961.0H1651.2L1651.2,961.1H1652.6L1652.6,962.6H1654.0L1654.0,960.2H1655.4L1655.4,958.4H1656.8L1656.8,957.7H1658.2L1658.2,958.4H1659.6L1659.6,957.5H1661.0L1661.0,957.5H1662.4L1662.4,957.5H1663.8L1663.8,958.1H1665.2L1665.2,956.0H1666.6L1666.6,955.7H1668.0L1668.0,953.8H1669.4L1669.4,954.9H1670.8L1670.8,955.4H1672.2L1672.2,954.9H1673.6L1673.6,950.8H1675.0L1675.0,954.0H1676.4L1676.4,955.5H1677.8L1677.8,955.3H1679.2L1679.2,953.2H1680.6L1680.6,955.3H1682.0L1682.0,957.1H1683.4L1683.4,957.6H1684.8L1684.8,956.9H1686.2L1686.2,958.3H1687.6L1687.6,961.8H1689.0L1689.0,960.6H1690.4L1690.4,965.1H1691.8L1691.8,964.9H1693.2L1693.2,966.6H1694.6L1694.6,966.2H1696.0L1696.0,968.0H1697.4L1697.4,970.3H1698.8L1698.8,968.8H1700.2L1700.2,973.1H1701.6L1701.6,970.7H1703.0L1703.0,971.7H1704.4L1704.4,974.0H1705.8L1705.8,975.3H1707.2L1707.2,976.4H1708.6L1708.6,976.1H1710.0L1710.0,975.7H1711.4L1711.4,975.2H1712.8L1712.8,974.3H1714.2L1714.2,972.6H1715.6L1715.6,974.9H1717.0L1717.0,973.6H1718.4L1718.4,973.0H1719.8L1719.8,971.6H1721.2L1721.2,972.0H1722.6L1722.6,971.0H1724.0L1724.0,969.5H1725.4L1725.4,969.4H1726.8L1726.8,964.9H1728.2L1728.2,965.7H1729.6L1729.6,962.8H1731.0L1731.0,962.2H1732.4L1732.4,962.9H1733.8L1733.8,958.5H1735.2L1735.2,958.3H1736.6L1736.6,956.5H1738.0L1738.0,957.2H1739.4L1739.4,953.9H1740.8L1740.8,952.0H1742.2L1742.2,953.6H1743.6L1743.6,951.5H1745.0L1745.0,950.5H1746.4L1746.4,951.1H1747.8L1747.8,947.7H1749.2L1749.2,947.2H1750.6L1750.6,946.7H1752.0L1752.0,945.9H1753.4L1753.4,943.6H1754.8L1754.8,944.4H1756.2L1756.2,944.0H1757.6L1757.6,940.2H1759.0L1759.0,941.7H1760.4L1760.4,936.9H1761.8L1761.8,941.2H1763.2L1763.2,939.3H1764.6L1764.6,940.3H1766.0L1766.0,940.0H1767.4L1767.4,940.0H1768.8L1768.8,939.5H1770.2L1770.2,941.0H1771.6L1771.6,943.5H1773.0L1773.0,943.6H1774.4L1774.4,941.0H1775.8L1775.8,939.3H1777.2L1777.2,937.7H1778.6L1778.6,935.6H1780.0L1780.0,938.0H1781.4L1781.4,935.3H1782.8L1782.8,933.2H1784.2L1784.2,931.2H1785.6L1785.6,929.8H1787.0L1787.0,932.2H1788.4L1788.4,930.8H1789.8L1789.8,927.7H1791.2L1791.2,929.7H1792.6L1792.6,926.1H1794.0L1794.0,927.8H1795.4L1795.4,924.9H1796.8L1796.8,925.0H1798.2L1798.2,925.8H1799.6L1799.6,925.5H1801.0L1801.0,926.2H1802.4L1802.4,923.4H1803.8L1803.8,926.6H1805.2L1805.2,926.1H1806.6L1806.6,924.1H1808.0L1808.0,924.5H1809.4L1809.4,922.6H1810.8L1810.8,923.3H1812.2L1812.2,922.1H1813.6L1813.6,924.6H1815.0L1815.0,925.2H1816.4L1816.4,927.3H1817.8L1817.8,927.3H1819.2L1819.2,927.7H1820.6L1820.6,926.6H1822.0L1822.0,927.3H1823.4L1823.4,927.7H1824.8L1824.8,928.9H1826.2L1826.2,925.8H1827.6L1827.6,928.6H1829.0L1829.0,924.9H1830.4L1830.4,925.8H1831.8L1831.8,926.0H1833.2L1833.2,924.8H1834.6L1834.6,927.2H1836.0L1836.0,924.3H1837.4L1837.4,926.1H1838.8L1838.8,925.0H1840.2L1840.2,921.9H1841.6L1841.6,922.5H1843.0L1843.0,923.1H1844.4L1844.4,920.1H1845.8L1845.8,920.0H1847.2L1847.2,918.3H1848.6L1848.6,918.5H1850.0L1850.0,917.2H1851.4L1851.4,917.1H1852.8L1852.8,918.2H1854.2L1854.2,918.9H1855.6L1855.6,917.3H1857.0L1857.0,917.6H1858.4L1858.4,918.7H1859.8L1859.8,917.2H1861.2L1861.2,916.3H1862.6L1862.6,919.6H1864.0L1864.0,916.8H1865.4L1865.4,919.7H1866.8L1866.8,916.2H1868.2L1868.2,918.8H1869.6L1869.6,913.7H1871.0L1871.0,915.3H1872.4L1872.4,915.1H1873.8L1873.8,910.3H1875.2L1875.2,912.7H1876.6L1876.6,909.0H1878.0L1878.0,908.8H1879.4L1879.4,913.4H1880.8L1880.8,914.4H1882.2L1882.2,914.1H1883.6L1883.6,913.1H1885.0L1885.0,916.5H1886.4L1886.4,917.2H1887.8L1887.8,918.1H1889.2L1889.2,919.3H1890.6L1890.6,918.3H1892.0L1892.0,920.7H1893.4L1893.4,924.7H1894.8L1894.8,925.4H1896.2L1896.2,923.6H1897.6L1897.6,924.0H1899.0L1899.0,926.4H1900.4L1900.4,928.2H1901.8L1901.8,928.6H1903.2L1903.2,926.9H1904.6L1904.6,929.0H1906.0L1906.0,929.1H1907.4L1907.4,931.1H1908.8L1908.8,930.9H1910.2L1910.2,930.2H1911.6L1911.6,931.3H1913.0L1913.0,929.3H1914.4L1914.4,932.1H1915.8L1915.8,929.6H1917.2L1917.2,931.0H1918.6L1918.6,933.5H1920.0L1920.0,932.8H1921.4L1921.4,934.8H1922.8L1922.8,935.3H1924.2L1924.2,939.5H1925.6L1925.6,940.9H1927.0L1927.0,942.3H1928.4L1928.4,945.1H1929.8L1929.8,944.2H1931.2L1931.2,948.3H1932.6L1932.6,951.2H1934.0L1934.0,953.6H1935.4L1935.4,957.7H1936.8L1936.8,961.5H1938.2L1938.2,961.8H1939.6L1939.6,963.5H1941.0L1941.0,963.9H1942.4L1942.4,964.7H1943.8L1943.8,965.3H1945.2L1945.2,963.7H1946.6L1946.6,965.8H1948.0L1948.0,963.5H1949.4L1949.4,965.6H1950.8L1950.8,965.2H1952.2L1952.2,965.2H1953.6L1953.6,966.6H1955.0L1955.0,964.3H1956.4L1956.4,964.2H1957.8L1957.8,964.7H1959.2L1959.2,965.0H1960.6L1960.6,962.4H1962.0L1962.0,964.0H1963.4L1963.4,962.7H1964.8L1964.8,964.0H1966.2L1966.2,964.7H1967.6L1967.6,962.8H1969.0L1969.0,961.4H1970.4L1970.4,960.6H1971.8L1971.8,957.3H1973.2L1973.2,958.9H1974.6L1974.6,957.5H1976.0L1976.0,955.9H1977.4L1977.4,954.1H1978.8L1978.8,952.3H1980.2L1980.2,951.5H1981.6L1981.6,951.8H1983.0L1983.0,948.8H1984.4L1984.4,949.2H1985.8L1985.8,944.1H1987.2L1987.2,944.2H1988.6L1988.6,943.2H1990.0L1990.0,940.8H1991.4L1991.4,936.6H1992.8L1992.8,935.7H1994.2L1994.2,936.2H1995.6L1995.6,930.7H1997.0L1997.0,929.0H1998.4L1998.4,927.1H1999.8L1999.8,927.2H2001.2L2001.2,928.1H2002.6L2002.6,927.3H2004.0L2004.0,923.5H2005.4L2005.4,927.1H2006.8L2006.8,923.6H2008.2L2008.2,922.9H2009.6L2009.6,923.3H2011.0L2011.0,918.1H2012.4L2012.4,913.6H2013.8L2013.8,911.7H2015.2L2015.2,908.7H2016.6L2016.6,905.5H2018.0L2018.0,903.7H2019.4L2019.4,903.3H2020.8L2020.8,900.7H2022.2L2022.2,896.1H2023.6L2023.6,899.0H2025.0L2025.0,892.9H2026.4L2026.4,892.8H2027.8L2027.8,890.8H2029.2L2029.2,890.3H2030.6L2030.6,887.1H2032.0L2032.0,887.0H2033.4L2033.4,887.6H2034.8L2034.8,883.6H2036.2L2036.2,880.2H2037.6L2037.6,881.2H2039.0L2039.0,877.9H2040.4L2040.4,876.8H2041.8L2041.8,875.9H2043.2L2043.2,874.3H2044.6L2044.6,871.3H2046.0L2046.0,871.4H2047.4L2047.4,867.7H2048.8L2048.8,863.9H2050.2L2050.2,865.9H2051.6L2051.6,861.8H2053.0L2053.0,862.8H2054.4L2054.4,857.5H2055.8L2055.8,857.9H2057.2L2057.2,855.6H2058.6L2058.6,849.1H2060.0L2060.0,848.5H2061.4L2061.4,847.6H2062.8L2062.8,850.7H2064.2L2064.2,842.8H2065.6L2065.6,846.6H2067.0L2067.0,845.3H2068.4L2068.4,842.5H2069.8L2069.8,841.2H2071.2L2071.2,837.8H2072.6L2072.6,837.5H2074.0L2074.0,836.8H2075.4L2075.4,836.1H2076.8L2076.8,835.5H2078.2L2078.2,832.5H2079.6L2079.6,830.3H2081.0L2081.0,829.3H2082.4L2082.4,829.8H2083.8L2083.8,824.2H2085.2L2085.2,823.6H2086.6L2086.6,824.0H2088.0L2088.0,822.3H2089.4L2089.4,821.5H2090.8L2090.8,815.7H2092.2L2092.2,817.0H2093.6L2093.6,814.7H2095.0L2095.0,814.4H2096.4L2096.4,805.9H2097.8L2097.8,807.0H2099.2L2099.2,806.3H2100.6L2100.6,804.6H2102.0L2102.0,804.4H2103.4L2103.4,802.4H2104.8L2104.8,796.0H2106.2L2106.2,794.1H2107.6L2107.6,777.8H2109.0L2109.0,762.7H2110.4L2110.4,756.2H2111.8L2111.8,738.5H2113.2L2113.2,725.7H2114.6L2114.6,713.7H2116.0L2116.0,695.5H2117.4L2117.4,684.1H2118.8L2118.8,668.3H2120.2L2120.2,662.3H2121.6L2121.6,649.8H2123.0L2123.0,637.1H2124.4L2124.4,638.1H2125.8L2125.8,629.6H2127.2L2127.2,627.4H2128.6L2128.6,625.5H2130.0L2130.0,621.0H2131.4L2131.4,619.9H2132.8L2132.8,608.5H2134.2L2134.2,606.9H2135.6L2135.6,600.9H2137.0L2137.0,591.8H2138.4L2138.4,587.7H2139.8L2139.8,587.7H2141.2L2141.2,587.4H2142.6L2142.6,584.5H2144.0L2144.0,582.5H2145.4L2145.4,578.3H2146.8L2146.8,575.1H2148.2L2148.2,577.3H2149.6L2149.6,570.8H2151.0L2151.0,568.4H2152.4L2152.4,571.1H2153.8L2153.8,565.8H2155.2L2155.2,568.5H2156.6L2156.6,567.0H2158.0L2158.0,567.1H2159.4L2159.4,568.5H2160.8L2160.8,565.0H2162.2L2162.2,566.1H2163.6L2163.6,563.2H2165.0L2165.0,572.2H2166.4L2166.4,569.7H2167.8L2167.8,573.0H2169.2L2169.2,561.7H2170.6L2170.6,566.4H2172.0L2172.0,572.6H2173.4L2173.4,565.8H2174.8L2174.8,573.7H2175.0L2175.0,1095.3Z" fill="#7b93ee"/>
<path d="M189.6,1095.3L189.6,1077.3H191.0L191.0,1075.9H192.4L192.4,1073.9H193.8L193.8,1073.2H195.2L195.2,1071.8H196.6L196.6,1069.8H198.0L198.0,1069.3H199.4L199.4,1067.5H200.8L200.8,1066.5H202.2L202.2,1065.4H203.6L203.6,1065.0H205.0L205.0,1063.9H206.4L206.4,1063.6H207.8L207.8,1062.4H209.2L209.2,1060.9H210.6L210.6,1060.2H212.0L212.0,1060.0H213.4L213.4,1058.4H214.8L214.8,1058.5H216.2L216.2,1058.3H217.6L217.6,1057.6H219.0L219.0,1056.4H220.4L220.4,1057.2H221.8L221.8,1057.0H223.2L223.2,1056.7H224.6L224.6,1055.9H226.0L226.0,1056.8H227.4L227.4,1055.7H228.8L228.8,1055.1H230.2L230.2,1054.8H231.6L231.6,1055.0H233.0L233.0,1053.7H234.4L234.4,1053.3H235.8L235.8,1054.6H237.2L237.2,1054.0H238.6L238.6,1053.4H240.0L240.0,1053.2H241.4L241.4,1052.3H242.8L242.8,1050.4H244.2L244.2,1051.8H245.6L245.6,1051.5H247.0L247.0,1050.5H248.4L248.4,1048.5H249.8L249.8,1049.8H251.2L251.2,1049.2H252.6L252.6,1047.2H254.0L254.0,1046.9H255.4L255.4,1046.7H256.8L256.8,1045.4H258.2L258.2,1045.5H259.6L259.6,1044.1H261.0L261.0,1043.9H262.4L262.4,1043.0H263.8L263.8,1041.6H265.2L265.2,1041.6H266.6L266.6,1043.4H268.0L268.0,1042.0H269.4L269.4,1042.6H270.8L270.8,1043.0H272.2L272.2,1044.3H273.6L273.6,1044.5H275.0L275.0,1044.7H276.4L276.4,1046.1H277.8L277.8,1045.9H279.2L279.2,1048.0H280.6L280.6,1049.7H282.0L282.0,1048.9H283.4L283.4,1049.9H284.8L284.8,1050.2H286.2L286.2,1050.4H287.6L287.6,1048.6H289.0L289.0,1048.7H290.4L290.4,1047.8H291.8L291.8,1048.1H293.2L293.2,1049.0H294.6L294.6,1049.6H296.0L296.0,1047.5H297.4L297.4,1049.5H298.8L298.8,1049.0H300.2L300.2,1048.5H301.6L301.6,1050.2H303.0L303.0,1048.1H304.4L304.4,1049.4H305.8L305.8,1049.7H307.2L307.2,1050.9H308.6L308.6,1051.0H310.0L310.0,1051.8H311.4L311.4,1051.9H312.8L312.8,1053.6H314.2L314.2,1055.0H315.6L315.6,1055.6H317.0L317.0,1056.7H318.4L318.4,1057.5H319.8L319.8,1058.4H321.2L321.2,1058.2H322.6L322.6,1060.3H324.0L324.0,1059.4H325.4L325.4,1059.1H326.8L326.8,1060.5H328.2L328.2,1060.7H329.6L329.6,1061.2H331.0L331.0,1062.4H332.4L332.4,1061.7H333.8L333.8,1061.9H335.2L335.2,1062.0H336.6L336.6,1062.6H338.0L338.0,1062.7H339.4L339.4,1063.3H340.8L340.8,1064.4H342.2L342.2,1064.0H343.6L343.6,1063.6H345.0L345.0,1065.2H346.4L346.4,1065.1H347.8L347.8,1065.3H349.2L349.2,1065.6H350.6L350.6,1066.0H352.0L352.0,1066.4H353.4L353.4,1067.4H354.8L354.8,1067.7H356.2L356.2,1068.5H357.6L357.6,1068.1H359.0L359.0,1068.9H360.4L360.4,1069.1H361.8L361.8,1070.5H363.2L363.2,1071.0H364.6L364.6,1070.9H366.0L366.0,1072.0H367.4L367.4,1073.0H368.8L368.8,1072.3H370.2L370.2,1070.6H371.6L371.6,1070.6H373.0L373.0,1070.4H374.4L374.4,1069.6H375.8L375.8,1069.2H377.2L377.2,1069.1H378.6L378.6,1068.2H380.0L380.0,1066.9H381.4L381.4,1067.2H382.8L382.8,1065.8H384.2L384.2,1065.0H385.6L385.6,1063.7H387.0L387.0,1062.3H388.4L388.4,1061.5H389.8L389.8,1061.0H391.2L391.2,1059.7H392.6L392.6,1059.6H394.0L394.0,1061.6H395.4L395.4,1060.6H396.8L396.8,1061.2H398.2L398.2,1062.3H399.6L399.6,1061.4H401.0L401.0,1063.4H402.4L402.4,1062.6H403.8L403.8,1063.8H405.2L405.2,1063.5H406.6L406.6,1064.5H408.0L408.0,1064.9H409.4L409.4,1065.3H410.8L410.8,1065.0H412.2L412.2,1065.6H413.6L413.6,1066.9H415.0L415.0,1068.2H416.4L416.4,1067.7H417.8L417.8,1068.8H419.2L419.2,1069.1H420.6L420.6,1069.6H422.0L422.0,1070.3H423.4L423.4,1069.5H424.8L424.8,1070.8H426.2L426.2,1071.0H427.6L427.6,1071.4H429.0L429.0,1071.5H430.4L430.4,1072.0H431.8L431.8,1072.3H433.2L433.2,1072.7H434.6L434.6,1074.3H436.0L436.0,1074.7H437.4L437.4,1073.9H438.8L438.8,1074.3H440.2L440.2,1073.5H441.6L441.6,1073.2H443.0L443.0,1073.2H444.4L444.4,1074.0H445.8L445.8,1074.6H447.2L447.2,1073.9H448.6L448.6,1073.5H450.0L450.0,1073.8H451.4L451.4,1073.5H452.8L452.8,1073.3H454.2L454.2,1073.8H455.6L455.6,1073.8H457.0L457.0,1073.6H458.4L458.4,1073.5H459.8L459.8,1073.5H461.2L461.2,1073.6H462.6L462.6,1073.8H464.0L464.0,1072.7H465.4L465.4,1073.3H466.8L466.8,1071.4H468.2L468.2,1071.9H469.6L469.6,1070.9H471.0L471.0,1071.0H472.4L472.4,1070.8H473.8L473.8,1070.7H475.2L475.2,1070.6H476.6L476.6,1069.4H478.0L478.0,1068.7H479.4L479.4,1068.9H480.8L480.8,1068.4H482.2L482.2,1066.7H483.6L483.6,1066.4H485.0L485.0,1065.7H486.4L486.4,1062.8H487.8L487.8,1062.6H489.2L489.2,1061.9H490.6L490.6,1059.2H492.0L492.0,1059.6H493.4L493.4,1058.6H494.8L494.8,1057.2H496.2L496.2,1058.2H497.6L497.6,1056.9H499.0L499.0,1056.2H500.4L500.4,1056.5H501.8L501.8,1056.3H503.2L503.2,1056.1H504.6L504.6,1055.7H506.0L506.0,1055.3H507.4L507.4,1054.1H508.8L508.8,1054.3H510.2L510.2,1054.3H511.6L511.6,1052.9H513.0L513.0,1054.8H514.4L514.4,1053.2H515.8L515.8,1053.7H517.2L517.2,1054.3H518.6L518.6,1056.4H520.0L520.0,1057.2H521.4L521.4,1057.8H522.8L522.8,1058.8H524.2L524.2,1059.5H525.6L525.6,1060.3H527.0L527.0,1061.4H528.4L528.4,1061.8H529.8L529.8,1063.2H531.2L531.2,1063.5H532.6L532.6,1064.3H534.0L534.0,1065.2H535.4L535.4,1066.1H536.8L536.8,1065.7H538.2L538.2,1065.5H539.6L539.6,1065.3H541.0L541.0,1065.0H542.4L542.4,1065.2H543.8L543.8,1065.7H545.2L545.2,1065.5H546.6L546.6,1065.2H548.0L548.0,1064.7H549.4L549.4,1064.6H550.8L550.8,1065.6H552.2L552.2,1065.9H553.6L553.6,1065.6H555.0L555.0,1064.6H556.4L556.4,1065.7H557.8L557.8,1066.5H559.2L559.2,1066.5H560.6L560.6,1067.7H562.0L562.0,1068.0H563.4L563.4,1068.3H564.8L564.8,1068.7H566.2L566.2,1070.3H567.6L567.6,1070.7H569.0L569.0,1070.6H570.4L570.4,1071.2H571.8L571.8,1072.6H573.2L573.2,1073.1H574.6L574.6,1073.3H576.0L576.0,1074.5H577.4L577.4,1073.1H578.8L578.8,1072.0H580.2L580.2,1072.2H581.6L581.6,1071.0H583.0L583.0,1070.5H584.4L584.4,1069.7H585.8L585.8,1068.5H587.2L587.2,1067.7H588.6L588.6,1067.5H590.0L590.0,1067.7H591.4L591.4,1066.1H592.8L592.8,1067.0H594.2L594.2,1066.1H595.6L595.6,1065.1H597.0L597.0,1065.5H598.4L598.4,1065.3H599.8L599.8,1064.1H601.2L601.2,1063.4H602.6L602.6,1064.2H604.0L604.0,1063.0H605.4L605.4,1063.5H606.8L606.8,1062.1H608.2L608.2,1063.3H609.6L609.6,1063.3H611.0L611.0,1063.2H612.4L612.4,1064.2H613.8L613.8,1064.8H615.2L615.2,1064.7H616.6L616.6,1064.7H618.0L618.0,1065.8H619.4L619.4,1065.2H620.8L620.8,1066.7H622.2L622.2,1067.0H623.6L623.6,1067.9H625.0L625.0,1067.7H626.4L626.4,1067.5H627.8L627.8,1067.6H629.2L629.2,1067.6H630.6L630.6,1067.0H632.0L632.0,1068.5H633.4L633.4,1068.2H634.8L634.8,1067.9H636.2L636.2,1067.6H637.6L637.6,1069.0H639.0L639.0,1068.6H640.4L640.4,1067.9H641.8L641.8,1068.9H643.2L643.2,1069.5H644.6L644.6,1068.8H646.0L646.0,1069.0H647.4L647.4,1068.6H648.8L648.8,1068.5H650.2L650.2,1069.3H651.6L651.6,1069.6H653.0L653.0,1068.9H654.4L654.4,1068.7H655.8L655.8,1069.2H657.2L657.2,1068.7H658.6L658.6,1069.2H660.0L660.0,1069.2H661.4L661.4,1068.3H662.8L662.8,1068.3H664.2L664.2,1068.8H665.6L665.6,1069.2H667.0L667.0,1068.9H668.4L668.4,1069.3H669.8L669.8,1067.3H671.2L671.2,1067.6H672.6L672.6,1066.3H674.0L674.0,1066.0H675.4L675.4,1065.4H676.8L676.8,1064.0H678.2L678.2,1063.7H679.6L679.6,1062.5H681.0L681.0,1062.5H682.4L682.4,1061.0H683.8L683.8,1060.1H685.2L685.2,1059.3H686.6L686.6,1057.6H688.0L688.0,1057.6H689.4L689.4,1055.3H690.8L690.8,1055.1H692.2L692.2,1053.6H693.6L693.6,1052.4H695.0L695.0,1052.7H696.4L696.4,1052.0H697.8L697.8,1052.0H699.2L699.2,1051.8H700.6L700.6,1052.8H702.0L702.0,1051.2H703.4L703.4,1052.2H704.8L704.8,1051.2H706.2L706.2,1049.7H707.6L707.6,1049.2H709.0L709.0,1050.5H710.4L710.4,1049.3H711.8L711.8,1051.5H713.2L713.2,1052.2H714.6L714.6,1052.3H716.0L716.0,1052.4H717.4L717.4,1052.9H718.8L718.8,1053.8H720.2L720.2,1053.9H721.6L721.6,1054.3H723.0L723.0,1054.9H724.4L724.4,1056.2H725.8L725.8,1055.3H727.2L727.2,1056.2H728.6L728.6,1055.6H730.0L730.0,1056.1H731.4L731.4,1056.0H732.8L732.8,1057.0H734.2L734.2,1057.8H735.6L735.6,1057.9H737.0L737.0,1057.7H738.4L738.4,1058.6H739.8L739.8,1058.3H741.2L741.2,1058.7H742.6L742.6,1058.5H744.0L744.0,1058.5H745.4L745.4,1057.1H746.8L746.8,1057.2H748.2L748.2,1058.3H749.6L749.6,1057.7H751.0L751.0,1058.6H752.4L752.4,1057.4H753.8L753.8,1057.1H755.2L755.2,1058.2H756.6L756.6,1057.5H758.0L758.0,1058.1H759.4L759.4,1057.2H760.8L760.8,1056.6H762.2L762.2,1056.6H763.6L763.6,1055.2H765.0L765.0,1054.9H766.4L766.4,1054.3H767.8L767.8,1054.0H769.2L769.2,1054.1H770.6L770.6,1052.7H772.0L772.0,1052.7H773.4L773.4,1051.7H774.8L774.8,1051.5H776.2L776.2,1047.9H777.6L777.6,1047.0H779.0L779.0,1045.4H780.4L780.4,1041.8H781.8L781.8,1040.4H783.2L783.2,1036.9H784.6L784.6,1034.9H786.0L786.0,1031.7H787.4L787.4,1029.6H788.8L788.8,1028.0H790.2L790.2,1026.3H791.6L791.6,1026.2H793.0L793.0,1025.1H794.4L794.4,1024.9H795.8L795.8,1023.3H797.2L797.2,1024.5H798.6L798.6,1020.5H800.0L800.0,1022.3H801.4L801.4,1019.9H802.8L802.8,1019.5H804.2L804.2,1019.9H805.6L805.6,1018.3H807.0L807.0,1016.4H808.4L808.4,1017.3H809.8L809.8,1016.0H811.2L811.2,1013.8H812.6L812.6,1015.0H814.0L814.0,1013.0H815.4L815.4,1012.8H816.8L816.8,1013.6H818.2L818.2,1012.8H819.6L819.6,1011.7H821.0L821.0,1013.2H822.4L822.4,1011.4H823.8L823.8,1009.8H825.2L825.2,1010.2H826.6L826.6,1009.2H828.0L828.0,1006.4H829.4L829.4,1003.2H830.8L830.8,1000.1H832.2L832.2,1000.4H833.6L833.6,994.9H835.0L835.0,991.5H836.4L836.4,987.9H837.8L837.8,986.6H839.2L839.2,980.0H840.6L840.6,976.7H842.0L842.0,969.9H843.4L843.4,965.7H844.8L844.8,957.3H846.2L846.2,948.3H847.6L847.6,937.1H849.0L849.0,927.8H850.4L850.4,915.1H851.8L851.8,907.3H853.2L853.2,896.6H854.6L854.6,887.4H856.0L856.0,881.9H857.4L857.4,869.9H858.8L858.8,864.5H860.2L860.2,861.3H861.6L861.6,859.3H863.0L863.0,857.3H864.4L864.4,850.9H865.8L865.8,852.4H867.2L867.2,851.6H868.6L868.6,853.8H870.0L870.0,860.9H871.4L871.4,866.0H872.8L872.8,861.9H874.2L874.2,873.4H875.6L875.6,876.1H877.0L877.0,877.1H878.4L878.4,884.6H879.8L879.8,888.8H881.2L881.2,892.3H882.6L882.6,894.2H884.0L884.0,895.8H885.4L885.4,902.1H886.8L886.8,909.4H888.2L888.2,915.8H889.6L889.6,922.0H891.0L891.0,928.6H892.4L892.4,918.1H893.8L893.8,913.4H895.2L895.2,907.7H896.6L896.6,902.6H898.0L898.0,894.6H899.4L899.4,889.1H900.8L900.8,881.9H902.2L902.2,879.2H903.6L903.6,864.4H905.0L905.0,864.6H906.4L906.4,865.1H907.8L907.8,855.1H909.2L909.2,844.7H910.6L910.6,844.8H912.0L912.0,838.3H913.4L913.4,842.0H914.8L914.8,846.1H916.2L916.2,851.7H917.6L917.6,850.1H919.0L919.0,852.3H920.4L920.4,854.5H921.8L921.8,853.1H923.2L923.2,851.1H924.6L924.6,853.8H926.0L926.0,855.6H927.4L927.4,853.3H928.8L928.8,849.4H930.2L930.2,847.4H931.6L931.6,841.6H933.0L933.0,840.0H934.4L934.4,843.8H935.8L935.8,848.0H937.2L937.2,853.9H938.6L938.6,862.3H940.0L940.0,864.4H941.4L941.4,866.7H942.8L942.8,866.0H944.2L944.2,868.4H945.6L945.6,873.9H947.0L947.0,873.1H948.4L948.4,874.8H949.8L949.8,868.8H951.2L951.2,869.2H952.6L952.6,866.2H954.0L954.0,866.4H955.4L955.4,866.1H956.8L956.8,870.0H958.2L958.2,875.3H959.6L959.6,878.7H961.0L961.0,886.3H962.4L962.4,879.8H963.8L963.8,877.0H965.2L965.2,875.4H966.6L966.6,875.2H968.0L968.0,872.7H969.4L969.4,873.4H970.8L970.8,867.9H972.2L972.2,876.0H973.6L973.6,874.7H975.0L975.0,869.8H976.4L976.4,866.5H977.8L977.8,869.3H979.2L979.2,870.5H980.6L980.6,865.2H982.0L982.0,871.4H983.4L983.4,868.1H984.8L984.8,868.1H986.2L986.2,865.8H987.6L987.6,860.3H989.0L989.0,852.6H990.4L990.4,862.7H991.8L991.8,864.3H993.2L993.2,863.9H994.6L994.6,868.8H996.0L996.0,876.4H997.4L997.4,879.0H998.8L998.8,886.8H1000.2L1000.2,892.6H1001.6L1001.6,903.3H1003.0L1003.0,901.0H1004.4L1004.4,909.5H1005.8L1005.8,906.7H1007.2L1007.2,912.6H1008.6L1008.6,909.6H1010.0L1010.0,914.8H1011.4L1011.4,919.7H1012.8L1012.8,926.6H1014.2L1014.2,926.2H1015.6L1015.6,934.5H1017.0L1017.0,937.8H1018.4L1018.4,946.6H1019.8L1019.8,949.6H1021.2L1021.2,956.5H1022.6L1022.6,961.0H1024.0L1024.0,966.5H1025.4L1025.4,966.3H1026.8L1026.8,969.6H1028.2L1028.2,974.8H1029.6L1029.6,975.4H1031.0L1031.0,979.8H1032.4L1032.4,981.3H1033.8L1033.8,986.1H1035.2L1035.2,987.2H1036.6L1036.6,992.3H1038.0L1038.0,992.3H1039.4L1039.4,992.2H1040.8L1040.8,993.2H1042.2L1042.2,997.2H1043.6L1043.6,997.3H1045.0L1045.0,995.9H1046.4L1046.4,1000.6H1047.8L1047.8,998.6H1049.2L1049.2,999.7H1050.6L1050.6,1001.1H1052.0L1052.0,1000.2H1053.4L1053.4,1000.3H1054.8L1054.8,1002.0H1056.2L1056.2,1004.9H1057.6L1057.6,1004.9H1059.0L1059.0,1002.1H1060.4L1060.4,1005.2H1061.8L1061.8,1003.9H1063.2L1063.2,1004.4H1064.6L1064.6,1003.9H1066.0L1066.0,1004.3H1067.4L1067.4,1003.0H1068.8L1068.8,1004.1H1070.2L1070.2,1005.3H1071.6L1071.6,1006.6H1073.0L1073.0,1008.6H1074.4L1074.4,1007.6H1075.8L1075.8,996.7H1077.2L1077.2,978.6H1078.6L1078.6,970.8H1080.0L1080.0,973.1H1081.4L1081.4,973.2H1082.8L1082.8,972.6H1084.2L1084.2,972.1H1085.6L1085.6,972.7H1087.0L1087.0,972.4H1088.4L1088.4,975.3H1089.8L1089.8,973.6H1091.2L1091.2,972.8H1092.6L1092.6,969.4H1094.0L1094.0,967.5H1095.4L1095.4,966.4H1096.8L1096.8,965.0H1098.2L1098.2,961.5H1099.6L1099.6,960.6H1101.0L1101.0,960.9H1102.4L1102.4,954.0H1103.8L1103.8,956.8H1105.2L1105.2,962.0H1106.6L1106.6,969.1H1108.0L1108.0,974.3H1109.4L1109.4,976.7H1110.8L1110.8,978.1H1112.2L1112.2,975.7H1113.6L1113.6,974.8H1115.0L1115.0,972.2H1116.4L1116.4,971.5H1117.8L1117.8,970.1H1119.2L1119.2,972.4H1120.6L1120.6,974.8H1122.0L1122.0,971.8H1123.4L1123.4,976.5H1124.8L1124.8,977.5H1126.2L1126.2,980.5H1127.6L1127.6,980.4H1129.0L1129.0,978.3H1130.4L1130.4,976.6H1131.8L1131.8,972.4H1133.2L1133.2,969.6H1134.6L1134.6,974.7H1136.0L1136.0,975.4H1137.4L1137.4,973.8H1138.8L1138.8,978.3H1140.2L1140.2,978.8H1141.6L1141.6,977.1H1143.0L1143.0,981.0H1144.4L1144.4,978.1H1145.8L1145.8,980.8H1147.2L1147.2,978.0H1148.6L1148.6,977.6H1150.0L1150.0,976.2H1151.4L1151.4,975.3H1152.8L1152.8,971.5H1154.2L1154.2,963.4H1155.6L1155.6,956.2H1157.0L1157.0,959.0H1158.4L1158.4,957.3H1159.8L1159.8,954.1H1161.2L1161.2,950.4H1162.6L1162.6,947.6H1164.0L1164.0,945.2H1165.4L1165.4,943.2H1166.8L1166.8,937.1H1168.2L1168.2,925.3H1169.6L1169.6,919.8H1171.0L1171.0,910.1H1172.4L1172.4,901.1H1173.8L1173.8,893.6H1175.2L1175.2,887.2H1176.6L1176.6,873.5H1178.0L1178.0,872.5H1179.4L1179.4,868.7H1180.8L1180.8,860.8H1182.2L1182.2,856.7H1183.6L1183.6,849.1H1185.0L1185.0,851.1H1186.4L1186.4,845.7H1187.8L1187.8,844.3H1189.2L1189.2,845.1H1190.6L1190.6,841.5H1192.0L1192.0,839.9H1193.4L1193.4,840.7H1194.8L1194.8,848.7H1196.2L1196.2,847.7H1197.6L1197.6,853.1H1199.0L1199.0,851.5H1200.4L1200.4,853.6H1201.8L1201.8,862.4H1203.2L1203.2,856.1H1204.6L1204.6,852.5H1206.0L1206.0,855.4H1207.4L1207.4,857.4H1208.8L1208.8,855.7H1210.2L1210.2,862.1H1211.6L1211.6,869.1H1213.0L1213.0,870.4H1214.4L1214.4,877.9H1215.8L1215.8,879.7H1217.2L1217.2,879.9H1218.6L1218.6,879.2H1220.0L1220.0,881.5H1221.4L1221.4,881.6H1222.8L1222.8,884.1H1224.2L1224.2,886.6H1225.6L1225.6,887.0H1227.0L1227.0,891.7H1228.4L1228.4,895.1H1229.8L1229.8,892.1H1231.2L1231.2,895.9H1232.6L1232.6,898.8H1234.0L1234.0,900.3H1235.4L1235.4,900.8H1236.8L1236.8,903.1H1238.2L1238.2,909.0H1239.6L1239.6,911.0H1241.0L1241.0,913.6H1242.4L1242.4,913.8H1243.8L1243.8,919.4H1245.2L1245.2,922.9H1246.6L1246.6,925.2H1248.0L1248.0,931.0H1249.4L1249.4,937.0H1250.8L1250.8,935.3H1252.2L1252.2,942.4H1253.6L1253.6,941.3H1255.0L1255.0,942.8H1256.4L1256.4,946.6H1257.8L1257.8,949.8H1259.2L1259.2,950.8H1260.6L1260.6,950.7H1262.0L1262.0,952.1H1263.4L1263.4,955.4H1264.8L1264.8,958.2H1266.2L1266.2,958.8H1267.6L1267.6,959.6H1269.0L1269.0,966.3H1270.4L1270.4,964.4H1271.8L1271.8,967.3H1273.2L1273.2,968.0H1274.6L1274.6,969.0H1276.0L1276.0,970.9H1277.4L1277.4,971.5H1278.8L1278.8,973.8H1280.2L1280.2,969.8H1281.6L1281.6,967.6H1283.0L1283.0,970.5H1284.4L1284.4,966.2H1285.8L1285.8,965.7H1287.2L1287.2,964.6H1288.6L1288.6,961.9H1290.0L1290.0,959.3H1291.4L1291.4,955.1H1292.8L1292.8,953.7H1294.2L1294.2,960.3H1295.6L1295.6,962.2H1297.0L1297.0,964.5H1298.4L1298.4,963.6H1299.8L1299.8,965.8H1301.2L1301.2,968.1H1302.6L1302.6,969.4H1304.0L1304.0,972.7H1305.4L1305.4,972.4H1306.8L1306.8,977.5H1308.2L1308.2,975.0H1309.6L1309.6,970.4H1311.0L1311.0,967.8H1312.4L1312.4,962.4H1313.8L1313.8,957.2H1315.2L1315.2,958.3H1316.6L1316.6,958.0H1318.0L1318.0,951.8H1319.4L1319.4,951.7H1320.8L1320.8,948.7H1322.2L1322.2,946.1H1323.6L1323.6,948.4H1325.0L1325.0,947.5H1326.4L1326.4,947.1H1327.8L1327.8,945.2H1329.2L1329.2,940.7H1330.6L1330.6,942.6H1332.0L1332.0,940.5H1333.4L1333.4,938.7H1334.8L1334.8,936.0H1336.2L1336.2,936.0H1337.6L1337.6,930.9H1339.0L1339.0,932.6H1340.4L1340.4,936.5H1341.8L1341.8,938.8H1343.2L1343.2,949.3H1344.6L1344.6,953.6H1346.0L1346.0,953.0H1347.4L1347.4,952.4H1348.8L1348.8,958.4H1350.2L1350.2,955.1H1351.6L1351.6,958.4H1353.0L1353.0,957.4H1354.4L1354.4,959.1H1355.8L1355.8,958.0H1357.2L1357.2,961.8H1358.6L1358.6,961.5H1360.0L1360.0,960.2H1361.4L1361.4,961.7H1362.8L1362.8,966.5H1364.2L1364.2,970.1H1365.6L1365.6,970.2H1367.0L1367.0,973.7H1368.4L1368.4,978.0H1369.8L1369.8,982.0H1371.2L1371.2,982.1H1372.6L1372.6,983.1H1374.0L1374.0,981.3H1375.4L1375.4,981.2H1376.8L1376.8,984.3H1378.2L1378.2,983.1H1379.6L1379.6,984.6H1381.0L1381.0,984.1H1382.4L1382.4,984.3H1383.8L1383.8,981.7H1385.2L1385.2,983.7H1386.6L1386.6,980.9H1388.0L1388.0,980.7H1389.4L1389.4,979.9H1390.8L1390.8,979.9H1392.2L1392.2,980.9H1393.6L1393.6,980.0H1395.0L1395.0,983.3H1396.4L1396.4,988.1H1397.8L1397.8,988.4H1399.2L1399.2,990.4H1400.6L1400.6,992.1H1402.0L1402.0,991.9H1403.4L1403.4,992.7H1404.8L1404.8,993.7H1406.2L1406.2,996.9H1407.6L1407.6,996.8H1409.0L1409.0,999.3H1410.4L1410.4,998.8H1411.8L1411.8,1000.0H1413.2L1413.2,997.2H1414.6L1414.6,993.8H1416.0L1416.0,995.8H1417.4L1417.4,992.8H1418.8L1418.8,992.5H1420.2L1420.2,989.9H1421.6L1421.6,988.2H1423.0L1423.0,989.8H1424.4L1424.4,989.1H1425.8L1425.8,989.9H1427.2L1427.2,991.2H1428.6L1428.6,992.6H1430.0L1430.0,992.6H1431.4L1431.4,995.0H1432.8L1432.8,994.5H1434.2L1434.2,994.7H1435.6L1435.6,993.4H1437.0L1437.0,989.8H1438.4L1438.4,989.7H1439.8L1439.8,990.0H1441.2L1441.2,992.6H1442.6L1442.6,994.0H1444.0L1444.0,995.2H1445.4L1445.4,997.8H1446.8L1446.8,997.8H1448.2L1448.2,1002.0H1449.6L1449.6,1003.0H1451.0L1451.0,1004.0H1452.4L1452.4,1006.7H1453.8L1453.8,1009.5H1455.2L1455.2,1010.1H1456.6L1456.6,1013.2H1458.0L1458.0,1015.1H1459.4L1459.4,1017.7H1460.8L1460.8,1015.9H1462.2L1462.2,1017.9H1463.6L1463.6,1019.4H1465.0L1465.0,1021.3H1466.4L1466.4,1021.0H1467.8L1467.8,1022.4H1469.2L1469.2,1021.2H1470.6L1470.6,1022.1H1472.0L1472.0,1024.2H1473.4L1473.4,1022.4H1474.8L1474.8,1024.2H1476.2L1476.2,1021.9H1477.6L1477.6,1022.4H1479.0L1479.0,1021.1H1480.4L1480.4,1023.9H1481.8L1481.8,1024.5H1483.2L1483.2,1026.7H1484.6L1484.6,1026.2H1486.0L1486.0,1026.8H1487.4L1487.4,1026.7H1488.8L1488.8,1028.8H1490.2L1490.2,1030.7H1491.6L1491.6,1031.5H1493.0L1493.0,1033.0H1494.4L1494.4,1033.7H1495.8L1495.8,1034.0H1497.2L1497.2,1035.6H1498.6L1498.6,1036.3H1500.0L1500.0,1036.1H1501.4L1501.4,1039.6H1502.8L1502.8,1039.6H1504.2L1504.2,1039.3H1505.6L1505.6,1041.1H1507.0L1507.0,1041.8H1508.4L1508.4,1043.0H1509.8L1509.8,1044.0H1511.2L1511.2,1042.4H1512.6L1512.6,1044.8H1514.0L1514.0,1046.2H1515.4L1515.4,1045.0H1516.8L1516.8,1045.3H1518.2L1518.2,1046.8H1519.6L1519.6,1046.8H1521.0L1521.0,1046.8H1522.4L1522.4,1045.8H1523.8L1523.8,1046.2H1525.2L1525.2,1046.7H1526.6L1526.6,1047.1H1528.0L1528.0,1047.8H1529.4L1529.4,1046.8H1530.8L1530.8,1046.2H1532.2L1532.2,1045.8H1533.6L1533.6,1048.1H1535.0L1535.0,1047.5H1536.4L1536.4,1047.9H1537.8L1537.8,1047.6H1539.2L1539.2,1049.2H1540.6L1540.6,1047.9H1542.0L1542.0,1049.5H1543.4L1543.4,1049.8H1544.8L1544.8,1050.2H1546.2L1546.2,1050.7H1547.6L1547.6,1049.5H1549.0L1549.0,1049.5H1550.4L1550.4,1049.9H1551.8L1551.8,1048.0H1553.2L1553.2,1048.7H1554.6L1554.6,1048.8H1556.0L1556.0,1049.2H1557.4L1557.4,1047.8H1558.8L1558.8,1048.8H1560.2L1560.2,1048.3H1561.6L1561.6,1046.8H1563.0L1563.0,1046.6H1564.4L1564.4,1046.5H1565.8L1565.8,1047.4H1567.2L1567.2,1047.3H1568.6L1568.6,1047.5H1570.0L1570.0,1047.4H1571.4L1571.4,1046.2H1572.8L1572.8,1046.7H1574.2L1574.2,1045.6H1575.6L1575.6,1044.4H1577.0L1577.0,1043.5H1578.4L1578.4,1041.2H1579.8L1579.8,1041.5H1581.2L1581.2,1039.5H1582.6L1582.6,1038.2H1584.0L1584.0,1037.5H1585.4L1585.4,1036.5H1586.8L1586.8,1034.9H1588.2L1588.2,1033.3H1589.6L1589.6,1031.3H1591.0L1591.0,1030.9H1592.4L1592.4,1028.6H1593.8L1593.8,1025.2H1595.2L1595.2,1023.8H1596.6L1596.6,1022.3H1598.0L1598.0,1017.7H1599.4L1599.4,1014.5H1600.8L1600.8,1016.0H1602.2L1602.2,1015.2H1603.6L1603.6,1012.1H1605.0L1605.0,1011.2H1606.4L1606.4,1011.1H1607.8L1607.8,1013.3H1609.2L1609.2,1012.4H1610.6L1610.6,1014.1H1612.0L1612.0,1014.2H1613.4L1613.4,1013.1H1614.8L1614.8,1015.3H1616.2L1616.2,1016.8H1617.6L1617.6,1020.1H1619.0L1619.0,1021.4H1620.4L1620.4,1024.5H1621.8L1621.8,1024.3H1623.2L1623.2,1026.5H1624.6L1624.6,1028.2H1626.0L1626.0,1030.1H1627.4L1627.4,1033.3H1628.8L1628.8,1034.0H1630.2L1630.2,1036.8H1631.6L1631.6,1038.5H1633.0L1633.0,1038.8H1634.4L1634.4,1041.2H1635.8L1635.8,1041.5H1637.2L1637.2,1043.1H1638.6L1638.6,1044.3H1640.0L1640.0,1045.3H1641.4L1641.4,1046.1H1642.8L1642.8,1048.8H1644.2L1644.2,1048.0H1645.6L1645.6,1048.5H1647.0L1647.0,1049.0H1648.4L1648.4,1048.1H1649.8L1649.8,1048.3H1651.2L1651.2,1048.3H1652.6L1652.6,1048.0H1654.0L1654.0,1048.2H1655.4L1655.4,1045.8H1656.8L1656.8,1047.8H1658.2L1658.2,1046.1H1659.6L1659.6,1044.2H1661.0L1661.0,1044.2H1662.4L1662.4,1042.9H1663.8L1663.8,1043.3H1665.2L1665.2,1041.5H1666.6L1666.6,1041.1H1668.0L1668.0,1041.4H1669.4L1669.4,1040.6H1670.8L1670.8,1039.2H1672.2L1672.2,1039.2H1673.6L1673.6,1039.0H1675.0L1675.0,1038.8H1676.4L1676.4,1038.4H1677.8L1677.8,1037.8H1679.2L1679.2,1038.4H1680.6L1680.6,1036.0H1682.0L1682.0,1036.6H1683.4L1683.4,1036.7H1684.8L1684.8,1036.0H1686.2L1686.2,1036.1H1687.6L1687.6,1036.3H1689.0L1689.0,1037.0H1690.4L1690.4,1038.1H1691.8L1691.8,1037.1H1693.2L1693.2,1037.2H1694.6L1694.6,1037.9H1696.0L1696.0,1037.6H1697.4L1697.4,1036.6H1698.8L1698.8,1038.2H1700.2L1700.2,1037.5H1701.6L1701.6,1037.1H1703.0L1703.0,1038.0H1704.4L1704.4,1037.3H1705.8L1705.8,1036.6H1707.2L1707.2,1035.6H1708.6L1708.6,1035.4H1710.0L1710.0,1036.6H1711.4L1711.4,1036.3H1712.8L1712.8,1036.3H1714.2L1714.2,1035.4H1715.6L1715.6,1034.1H1717.0L1717.0,1032.7H1718.4L1718.4,1032.1H1719.8L1719.8,1032.3H1721.2L1721.2,1030.7H1722.6L1722.6,1031.7H1724.0L1724.0,1029.1H1725.4L1725.4,1028.1H1726.8L1726.8,1027.7H1728.2L1728.2,1024.5H1729.6L1729.6,1025.7H1731.0L1731.0,1021.3H1732.4L1732.4,1020.4H1733.8L1733.8,1018.3H1735.2L1735.2,1015.9H1736.6L1736.6,1014.0H1738.0L1738.0,1013.6H1739.4L1739.4,1015.8H1740.8L1740.8,1015.7H1742.2L1742.2,1015.9H1743.6L1743.6,1012.3H1745.0L1745.0,1014.1H1746.4L1746.4,1013.2H1747.8L1747.8,1013.7H1749.2L1749.2,1011.9H1750.6L1750.6,1012.1H1752.0L1752.0,1010.9H1753.4L1753.4,1009.2H1754.8L1754.8,1008.8H1756.2L1756.2,1005.5H1757.6L1757.6,1006.1H1759.0L1759.0,1003.4H1760.4L1760.4,1006.7H1761.8L1761.8,1003.6H1763.2L1763.2,1006.0H1764.6L1764.6,1005.7H1766.0L1766.0,1007.2H1767.4L1767.4,1009.0H1768.8L1768.8,1009.2H1770.2L1770.2,1009.2H1771.6L1771.6,1011.7H1773.0L1773.0,1009.2H1774.4L1774.4,1010.8H1775.8L1775.8,1014.2H1777.2L1777.2,1013.8H1778.6L1778.6,1012.6H1780.0L1780.0,1015.5H1781.4L1781.4,1014.8H1782.8L1782.8,1018.5H1784.2L1784.2,1018.6H1785.6L1785.6,1016.5H1787.0L1787.0,1018.0H1788.4L1788.4,1015.5H1789.8L1789.8,1017.0H1791.2L1791.2,1016.3H1792.6L1792.6,1015.2H1794.0L1794.0,1013.5H1795.4L1795.4,1014.3H1796.8L1796.8,1012.6H1798.2L1798.2,1013.8H1799.6L1799.6,1013.2H1801.0L1801.0,1016.7H1802.4L1802.4,1015.0H1803.8L1803.8,1014.8H1805.2L1805.2,1017.6H1806.6L1806.6,1017.9H1808.0L1808.0,1017.6H1809.4L1809.4,1020.2H1810.8L1810.8,1019.9H1812.2L1812.2,1020.2H1813.6L1813.6,1020.7H1815.0L1815.0,1020.9H1816.4L1816.4,1024.1H1817.8L1817.8,1025.7H1819.2L1819.2,1025.4H1820.6L1820.6,1025.8H1822.0L1822.0,1026.8H1823.4L1823.4,1023.2H1824.8L1824.8,1022.6H1826.2L1826.2,1021.3H1827.6L1827.6,1019.9H1829.0L1829.0,1016.6H1830.4L1830.4,1014.4H1831.8L1831.8,1013.1H1833.2L1833.2,1012.9H1834.6L1834.6,1010.0H1836.0L1836.0,1008.1H1837.4L1837.4,1007.6H1838.8L1838.8,1006.2H1840.2L1840.2,1005.7H1841.6L1841.6,1005.6H1843.0L1843.0,1005.5H1844.4L1844.4,1004.7H1845.8L1845.8,1004.1H1847.2L1847.2,1003.0H1848.6L1848.6,1003.4H1850.0L1850.0,1003.3H1851.4L1851.4,1003.6H1852.8L1852.8,1005.3H1854.2L1854.2,1004.1H1855.6L1855.6,1005.0H1857.0L1857.0,1007.9H1858.4L1858.4,1007.2H1859.8L1859.8,1008.6H1861.2L1861.2,1009.1H1862.6L1862.6,1012.0H1864.0L1864.0,1011.9H1865.4L1865.4,1012.6H1866.8L1866.8,1015.0H1868.2L1868.2,1016.0H1869.6L1869.6,1018.2H1871.0L1871.0,1016.2H1872.4L1872.4,1016.1H1873.8L1873.8,1015.0H1875.2L1875.2,1014.9H1876.6L1876.6,1013.9H1878.0L1878.0,1016.9H1879.4L1879.4,1015.4H1880.8L1880.8,1017.7H1882.2L1882.2,1018.5H1883.6L1883.6,1021.0H1885.0L1885.0,1021.6H1886.4L1886.4,1023.2H1887.8L1887.8,1022.9H1889.2L1889.2,1023.0H1890.6L1890.6,1023.2H1892.0L1892.0,1024.5H1893.4L1893.4,1024.8H1894.8L1894.8,1026.1H1896.2L1896.2,1026.7H1897.6L1897.6,1027.8H1899.0L1899.0,1027.3H1900.4L1900.4,1027.4H1901.8L1901.8,1028.3H1903.2L1903.2,1030.5H1904.6L1904.6,1031.9H1906.0L1906.0,1034.2H1907.4L1907.4,1034.1H1908.8L1908.8,1036.5H1910.2L1910.2,1037.6H1911.6L1911.6,1035.6H1913.0L1913.0,1037.7H1914.4L1914.4,1037.8H1915.8L1915.8,1038.1H1917.2L1917.2,1037.2H1918.6L1918.6,1038.2H1920.0L1920.0,1037.1H1921.4L1921.4,1037.7H1922.8L1922.8,1037.9H1924.2L1924.2,1039.4H1925.6L1925.6,1038.4H1927.0L1927.0,1039.8H1928.4L1928.4,1039.6H1929.8L1929.8,1039.4H1931.2L1931.2,1040.7H1932.6L1932.6,1041.5H1934.0L1934.0,1040.8H1935.4L1935.4,1042.4H1936.8L1936.8,1041.8H1938.2L1938.2,1042.1H1939.6L1939.6,1043.3H1941.0L1941.0,1042.8H1942.4L1942.4,1042.1H1943.8L1943.8,1041.5H1945.2L1945.2,1042.6H1946.6L1946.6,1042.6H1948.0L1948.0,1041.9H1949.4L1949.4,1042.3H1950.8L1950.8,1040.8H1952.2L1952.2,1042.2H1953.6L1953.6,1042.0H1955.0L1955.0,1040.8H1956.4L1956.4,1039.1H1957.8L1957.8,1038.6H1959.2L1959.2,1037.6H1960.6L1960.6,1037.3H1962.0L1962.0,1035.6H1963.4L1963.4,1034.5H1964.8L1964.8,1032.6H1966.2L1966.2,1033.0H1967.6L1967.6,1032.0H1969.0L1969.0,1028.6H1970.4L1970.4,1027.8H1971.8L1971.8,1025.6H1973.2L1973.2,1023.4H1974.6L1974.6,1020.3H1976.0L1976.0,1021.3H1977.4L1977.4,1016.2H1978.8L1978.8,1016.5H1980.2L1980.2,1014.2H1981.6L1981.6,1014.2H1983.0L1983.0,1010.8H1984.4L1984.4,1009.7H1985.8L1985.8,1008.7H1987.2L1987.2,1006.9H1988.6L1988.6,1004.9H1990.0L1990.0,1005.8H1991.4L1991.4,1005.0H1992.8L1992.8,1005.3H1994.2L1994.2,1003.0H1995.6L1995.6,1003.1H1997.0L1997.0,1002.2H1998.4L1998.4,1001.0H1999.8L1999.8,1001.2H2001.2L2001.2,1000.2H2002.6L2002.6,1000.3H2004.0L2004.0,997.0H2005.4L2005.4,996.7H2006.8L2006.8,996.5H2008.2L2008.2,993.7H2009.6L2009.6,993.0H2011.0L2011.0,992.2H2012.4L2012.4,990.2H2013.8L2013.8,988.8H2015.2L2015.2,990.7H2016.6L2016.6,988.5H2018.0L2018.0,987.2H2019.4L2019.4,984.9H2020.8L2020.8,986.0H2022.2L2022.2,986.7H2023.6L2023.6,982.9H2025.0L2025.0,982.5H2026.4L2026.4,984.6H2027.8L2027.8,984.3H2029.2L2029.2,983.8H2030.6L2030.6,980.2H2032.0L2032.0,981.1H2033.4L2033.4,978.5H2034.8L2034.8,979.6H2036.2L2036.2,977.6H2037.6L2037.6,977.7H2039.0L2039.0,978.7H2040.4L2040.4,978.1H2041.8L2041.8,978.2H2043.2L2043.2,979.6H2044.6L2044.6,980.8H2046.0L2046.0,980.7H2047.4L2047.4,982.6H2048.8L2048.8,984.0H2050.2L2050.2,984.9H2051.6L2051.6,979.4H2053.0L2053.0,978.8H2054.4L2054.4,977.6H2055.8L2055.8,979.4H2057.2L2057.2,979.3H2058.6L2058.6,976.1H2060.0L2060.0,974.9H2061.4L2061.4,975.4H2062.8L2062.8,970.5H2064.2L2064.2,971.7H2065.6L2065.6,968.6H2067.0L2067.0,970.3H2068.4L2068.4,968.4H2069.8L2069.8,967.5H2071.2L2071.2,968.0H2072.6L2072.6,965.9H2074.0L2074.0,967.8H2075.4L2075.4,965.4H2076.8L2076.8,965.3H2078.2L2078.2,966.5H2079.6L2079.6,962.6H2081.0L2081.0,964.0H2082.4L2082.4,960.6H2083.8L2083.8,963.2H2085.2L2085.2,962.0H2086.6L2086.6,960.0H2088.0L2088.0,960.7H2089.4L2089.4,961.0H2090.8L2090.8,959.8H2092.2L2092.2,956.7H2093.6L2093.6,955.7H2095.0L2095.0,956.6H2096.4L2096.4,951.4H2097.8L2097.8,951.9H2099.2L2099.2,952.8H2100.6L2100.6,952.0H2102.0L2102.0,946.5H2103.4L2103.4,939.2H2104.8L2104.8,929.4H2106.2L2106.2,914.7H2107.6L2107.6,881.6H2109.0L2109.0,870.2H2110.4L2110.4,857.4H2111.8L2111.8,841.1H2113.2L2113.2,826.5H2114.6L2114.6,815.5H2116.0L2116.0,807.9H2117.4L2117.4,806.3H2118.8L2118.8,799.7H2120.2L2120.2,806.0H2121.6L2121.6,793.1H2123.0L2123.0,778.2H2124.4L2124.4,773.9H2125.8L2125.8,767.4H2127.2L2127.2,769.6H2128.6L2128.6,763.1H2130.0L2130.0,768.5H2131.4L2131.4,754.5H2132.8L2132.8,743.3H2134.2L2134.2,740.3H2135.6L2135.6,738.9H2137.0L2137.0,754.9H2138.4L2138.4,770.5H2139.8L2139.8,767.6H2141.2L2141.2,771.0H2142.6L2142.6,782.3H2144.0L2144.0,790.6H2145.4L2145.4,790.7H2146.8L2146.8,801.8H2148.2L2148.2,809.3H2149.6L2149.6,823.1H2151.0L2151.0,832.2H2152.4L2152.4,838.1H2153.8L2153.8,846.2H2155.2L2155.2,858.5H2156.6L2156.6,859.0H2158.0L2158.0,873.2H2159.4L2159.4,878.5H2160.8L2160.8,889.6H2162.2L2162.2,895.1H2163.6L2163.6,898.4H2165.0L2165.0,905.5H2166.4L2166.4,912.0H2167.8L2167.8,916.6H2169.2L2169.2,921.7H2170.6L2170.6,926.9H2172.0L2172.0,925.7H2173.4L2173.4,931.6H2174.8L2174.8,936.7H2175.0L2175.0,1095.3Z" fill="#9f8433"/>
<path d="M189.6,1095.3L189.6,1089.5H191.0L191.0,1088.4H192.4L192.4,1087.6H193.8L193.8,1086.9H195.2L195.2,1085.9H196.6L196.6,1086.3H198.0L198.0,1085.1H199.4L199.4,1084.0H200.8L200.8,1083.3H202.2L202.2,1083.7H203.6L203.6,1083.4H205.0L205.0,1084.5H206.4L206.4,1083.1H207.8L207.8,1083.3H209.2L209.2,1083.7H210.6L210.6,1083.2H212.0L212.0,1082.6H213.4L213.4,1081.5H214.8L214.8,1083.6H216.2L216.2,1083.4H217.6L217.6,1083.0H219.0L219.0,1083.5H220.4L220.4,1083.3H221.8L221.8,1083.7H223.2L223.2,1083.7H224.6L224.6,1085.0H226.0L226.0,1085.2H227.4L227.4,1085.3H228.8L228.8,1085.9H230.2L230.2,1086.1H231.6L231.6,1085.6H233.0L233.0,1084.7H234.4L234.4,1084.9H235.8L235.8,1084.8H237.2L237.2,1084.0H238.6L238.6,1084.0H240.0L240.0,1082.5H241.4L241.4,1081.4H242.8L242.8,1081.8H244.2L244.2,1079.3H245.6L245.6,1078.9H247.0L247.0,1077.4H248.4L248.4,1076.4H249.8L249.8,1075.7H251.2L251.2,1076.4H252.6L252.6,1076.5H254.0L254.0,1080.1H255.4L255.4,1079.9H256.8L256.8,1079.5H258.2L258.2,1080.9H259.6L259.6,1081.0H261.0L261.0,1081.6H262.4L262.4,1081.3H263.8L263.8,1083.0H265.2L265.2,1083.9H266.6L266.6,1083.0H268.0L268.0,1083.9H269.4L269.4,1084.1H270.8L270.8,1083.4H272.2L272.2,1084.9H273.6L273.6,1083.8H275.0L275.0,1084.6H276.4L276.4,1084.5H277.8L277.8,1085.1H279.2L279.2,1084.3H280.6L280.6,1084.0H282.0L282.0,1083.5H283.4L283.4,1083.7H284.8L284.8,1083.5H286.2L286.2,1083.7H287.6L287.6,1083.9H289.0L289.0,1083.4H290.4L290.4,1082.7H291.8L291.8,1082.4H293.2L293.2,1083.7H294.6L294.6,1083.2H296.0L296.0,1083.5H297.4L297.4,1084.7H298.8L298.8,1085.0H300.2L300.2,1084.9H301.6L301.6,1084.9H303.0L303.0,1085.0H304.4L304.4,1086.1H305.8L305.8,1085.8H307.2L307.2,1086.8H308.6L308.6,1086.5H310.0L310.0,1086.9H311.4L311.4,1087.0H312.8L312.8,1086.8H314.2L314.2,1086.8H315.6L315.6,1086.8H317.0L317.0,1086.1H318.4L318.4,1086.1H319.8L319.8,1086.4H321.2L321.2,1087.1H322.6L322.6,1086.3H324.0L324.0,1085.9H325.4L325.4,1086.0H326.8L326.8,1086.2H328.2L328.2,1086.6H329.6L329.6,1085.8H331.0L331.0,1086.2H332.4L332.4,1086.0H333.8L333.8,1085.8H335.2L335.2,1085.7H336.6L336.6,1086.2H338.0L338.0,1086.1H339.4L339.4,1086.7H340.8L340.8,1086.0H342.2L342.2,1087.2H343.6L343.6,1087.2H345.0L345.0,1087.3H346.4L346.4,1087.8H347.8L347.8,1087.6H349.2L349.2,1086.9H350.6L350.6,1087.6H352.0L352.0,1087.8H353.4L353.4,1087.5H354.8L354.8,1087.4H356.2L356.2,1087.9H357.6L357.6,1088.0H359.0L359.0,1087.8H360.4L360.4,1087.9H361.8L361.8,1087.8H363.2L363.2,1087.9H364.6L364.6,1088.1H366.0L366.0,1088.5H367.4L367.4,1087.7H368.8L368.8,1088.1H370.2L370.2,1088.8H371.6L371.6,1088.2H373.0L373.0,1087.7H374.4L374.4,1087.6H375.8L375.8,1086.5H377.2L377.2,1086.0H378.6L378.6,1085.4H380.0L380.0,1085.1H381.4L381.4,1085.4H382.8L382.8,1085.3H384.2L384.2,1084.3H385.6L385.6,1083.8H387.0L387.0,1084.0H388.4L388.4,1084.0H389.8L389.8,1084.1H391.2L391.2,1083.5H392.6L392.6,1084.4H394.0L394.0,1084.2H395.4L395.4,1085.4H396.8L396.8,1085.3H398.2L398.2,1085.7H399.6L399.6,1086.9H401.0L401.0,1087.2H402.4L402.4,1087.2H403.8L403.8,1087.4H405.2L405.2,1087.7H406.6L406.6,1087.5H408.0L408.0,1087.7H409.4L409.4,1088.3H410.8L410.8,1087.5H412.2L412.2,1087.6H413.6L413.6,1087.9H415.0L415.0,1088.2H416.4L416.4,1088.3H417.8L417.8,1087.7H419.2L419.2,1088.0H420.6L420.6,1088.0H422.0L422.0,1087.8H423.4L423.4,1088.2H424.8L424.8,1088.1H426.2L426.2,1088.6H427.6L427.6,1088.5H429.0L429.0,1088.2H430.4L430.4,1088.5H431.8L431.8,1088.4H433.2L433.2,1088.4H434.6L434.6,1088.5H436.0L436.0,1088.9H437.4L437.4,1088.4H438.8L438.8,1088.0H440.2L440.2,1088.2H441.6L441.6,1088.6H443.0L443.0,1088.8H444.4L444.4,1087.9H445.8L445.8,1088.0H447.2L447.2,1088.0H448.6L448.6,1087.5H450.0L450.0,1088.0H451.4L451.4,1087.8H452.8L452.8,1087.9H454.2L454.2,1088.3H455.6L455.6,1087.5H457.0L457.0,1087.8H458.4L458.4,1087.8H459.8L459.8,1087.2H461.2L461.2,1087.1H462.6L462.6,1087.8H464.0L464.0,1087.5H465.4L465.4,1087.2H466.8L466.8,1086.7H468.2L468.2,1087.3H469.6L469.6,1087.1H471.0L471.0,1087.1H472.4L472.4,1086.5H473.8L473.8,1085.6H475.2L475.2,1084.8H476.6L476.6,1084.1H478.0L478.0,1083.1H479.4L479.4,1083.0H480.8L480.8,1082.4H482.2L482.2,1082.1H483.6L483.6,1081.8H485.0L485.0,1080.6H486.4L486.4,1079.4H487.8L487.8,1079.8H489.2L489.2,1079.8H490.6L490.6,1077.3H492.0L492.0,1077.8H493.4L493.4,1078.5H494.8L494.8,1079.3H496.2L496.2,1080.1H497.6L497.6,1080.4H499.0L499.0,1081.2H500.4L500.4,1083.2H501.8L501.8,1083.9H503.2L503.2,1082.9H504.6L504.6,1083.4H506.0L506.0,1084.7H507.4L507.4,1084.4H508.8L508.8,1084.7H510.2L510.2,1084.4H511.6L511.6,1085.6H513.0L513.0,1085.6H514.4L514.4,1085.6H515.8L515.8,1086.4H517.2L517.2,1087.0H518.6L518.6,1087.1H520.0L520.0,1087.2H521.4L521.4,1086.8H522.8L522.8,1087.2H524.2L524.2,1087.0H525.6L525.6,1087.4H527.0L527.0,1087.3H528.4L528.4,1087.1H529.8L529.8,1087.3H531.2L531.2,1086.9H532.6L532.6,1087.4H534.0L534.0,1087.7H535.4L535.4,1087.1H536.8L536.8,1087.4H538.2L538.2,1086.7H539.6L539.6,1087.6H541.0L541.0,1087.6H542.4L542.4,1087.0H543.8L543.8,1088.0H545.2L545.2,1087.4H546.6L546.6,1086.9H548.0L548.0,1087.0H549.4L549.4,1087.8H550.8L550.8,1087.4H552.2L552.2,1087.9H553.6L553.6,1087.0H555.0L555.0,1087.6H556.4L556.4,1087.8H557.8L557.8,1087.0H559.2L559.2,1087.3H560.6L560.6,1086.7H562.0L562.0,1086.7H563.4L563.4,1086.5H564.8L564.8,1086.9H566.2L566.2,1085.5H567.6L567.6,1086.1H569.0L569.0,1086.1H570.4L570.4,1084.8H571.8L571.8,1085.2H573.2L573.2,1085.7H574.6L574.6,1085.2H576.0L576.0,1083.7H577.4L577.4,1084.2H578.8L578.8,1083.2H580.2L580.2,1084.0H581.6L581.6,1083.3H583.0L583.0,1083.2H584.4L584.4,1083.3H585.8L585.8,1084.2H587.2L587.2,1084.0H588.6L588.6,1084.1H590.0L590.0,1084.6H591.4L591.4,1085.2H592.8L592.8,1084.8H594.2L594.2,1086.0H595.6L595.6,1085.0H597.0L597.0,1086.1H598.4L598.4,1086.0H599.8L599.8,1087.1H601.2L601.2,1086.4H602.6L602.6,1086.7H604.0L604.0,1086.7H605.4L605.4,1088.0H606.8L606.8,1087.8H608.2L608.2,1087.2H609.6L609.6,1087.5H611.0L611.0,1087.3H612.4L612.4,1088.1H613.8L613.8,1087.7H615.2L615.2,1087.0H616.6L616.6,1087.7H618.0L618.0,1087.9H619.4L619.4,1087.6H620.8L620.8,1087.8H622.2L622.2,1087.6H623.6L623.6,1087.7H625.0L625.0,1087.7H626.4L626.4,1087.4H627.8L627.8,1087.7H629.2L629.2,1087.7H630.6L630.6,1087.6H632.0L632.0,1087.4H633.4L633.4,1087.3H634.8L634.8,1087.7H636.2L636.2,1087.9H637.6L637.6,1087.0H639.0L639.0,1087.4H640.4L640.4,1088.1H641.8L641.8,1087.9H643.2L643.2,1087.4H644.6L644.6,1088.1H646.0L646.0,1087.3H647.4L647.4,1087.3H648.8L648.8,1088.2H650.2L650.2,1087.5H651.6L651.6,1087.5H653.0L653.0,1087.0H654.4L654.4,1087.3H655.8L655.8,1087.2H657.2L657.2,1087.6H658.6L658.6,1086.9H660.0L660.0,1087.5H661.4L661.4,1086.6H662.8L662.8,1086.1H664.2L664.2,1085.7H665.6L665.6,1085.9H667.0L667.0,1085.9H668.4L668.4,1084.7H669.8L669.8,1085.3H671.2L671.2,1085.0H672.6L672.6,1084.5H674.0L674.0,1083.5H675.4L675.4,1082.1H676.8L676.8,1083.1H678.2L678.2,1082.0H679.6L679.6,1082.0H681.0L681.0,1080.4H682.4L682.4,1081.0H683.8L683.8,1081.0H685.2L685.2,1079.7H686.6L686.6,1080.3H688.0L688.0,1080.9H689.4L689.4,1079.5H690.8L690.8,1078.7H692.2L692.2,1081.1H693.6L693.6,1079.3H695.0L695.0,1080.4H696.4L696.4,1082.0H697.8L697.8,1082.0H699.2L699.2,1082.0H700.6L700.6,1083.7H702.0L702.0,1084.6H703.4L703.4,1084.4H704.8L704.8,1086.1H706.2L706.2,1086.1H707.6L707.6,1086.4H709.0L709.0,1085.2H710.4L710.4,1085.9H711.8L711.8,1086.6H713.2L713.2,1086.6H714.6L714.6,1086.5H716.0L716.0,1085.9H717.4L717.4,1086.0H718.8L718.8,1085.6H720.2L720.2,1086.4H721.6L721.6,1085.6H723.0L723.0,1086.0H724.4L724.4,1085.2H725.8L725.8,1085.3H727.2L727.2,1086.6H728.6L728.6,1085.9H730.0L730.0,1086.0H731.4L731.4,1085.2H732.8L732.8,1085.9H734.2L734.2,1086.6H735.6L735.6,1085.3H737.0L737.0,1085.2H738.4L738.4,1085.8H739.8L739.8,1085.7H741.2L741.2,1085.8H742.6L742.6,1085.4H744.0L744.0,1085.3H745.4L745.4,1085.2H746.8L746.8,1085.8H748.2L748.2,1085.4H749.6L749.6,1085.7H751.0L751.0,1084.6H752.4L752.4,1085.3H753.8L753.8,1084.6H755.2L755.2,1084.8H756.6L756.6,1085.0H758.0L758.0,1084.5H759.4L759.4,1084.1H760.8L760.8,1083.3H762.2L762.2,1084.1H763.6L763.6,1084.3H765.0L765.0,1083.4H766.4L766.4,1083.6H767.8L767.8,1082.0H769.2L769.2,1080.5H770.6L770.6,1080.3H772.0L772.0,1079.5H773.4L773.4,1076.7H774.8L774.8,1073.9H776.2L776.2,1073.5H777.6L777.6,1070.8H779.0L779.0,1070.5H780.4L780.4,1073.2H781.8L781.8,1073.1H783.2L783.2,1074.0H784.6L784.6,1076.4H786.0L786.0,1076.4H787.4L787.4,1077.3H788.8L788.8,1076.5H790.2L790.2,1076.0H791.6L791.6,1073.5H793.0L793.0,1074.8H794.4L794.4,1073.9H795.8L795.8,1069.9H797.2L797.2,1068.5H798.6L798.6,1067.8H800.0L800.0,1069.2H801.4L801.4,1066.0H802.8L802.8,1065.5H804.2L804.2,1064.6H805.6L805.6,1065.7H807.0L807.0,1064.5H808.4L808.4,1065.3H809.8L809.8,1067.2H811.2L811.2,1068.1H812.6L812.6,1068.8H814.0L814.0,1069.2H815.4L815.4,1068.1H816.8L816.8,1069.7H818.2L818.2,1068.8H819.6L819.6,1069.3H821.0L821.0,1066.0H822.4L822.4,1068.9H823.8L823.8,1065.7H825.2L825.2,1067.7H826.6L826.6,1066.4H828.0L828.0,1066.5H829.4L829.4,1062.3H830.8L830.8,1059.1H832.2L832.2,1056.5H833.6L833.6,1053.5H835.0L835.0,1048.1H836.4L836.4,1043.5H837.8L837.8,1044.5H839.2L839.2,1046.4H840.6L840.6,1043.2H842.0L842.0,1045.1H843.4L843.4,1043.0H844.8L844.8,1041.2H846.2L846.2,1041.4H847.6L847.6,1038.4H849.0L849.0,1030.2H850.4L850.4,1026.1H851.8L851.8,1024.5H853.2L853.2,1012.3H854.6L854.6,1007.7H856.0L856.0,1008.4H857.4L857.4,1002.1H858.8L858.8,991.4H860.2L860.2,993.9H861.6L861.6,1004.0H863.0L863.0,1004.7H864.4L864.4,1013.8H865.8L865.8,1020.4H867.2L867.2,1021.8H868.6L868.6,1032.3H870.0L870.0,1037.5H871.4L871.4,1042.9H872.8L872.8,1042.4H874.2L874.2,1047.1H875.6L875.6,1052.3H877.0L877.0,1055.8H878.4L878.4,1058.4H879.8L879.8,1050.9H881.2L881.2,1048.8H882.6L882.6,1046.8H884.0L884.0,1046.2H885.4L885.4,1047.0H886.8L886.8,1040.9H888.2L888.2,1043.7H889.6L889.6,1041.1H891.0L891.0,1036.8H892.4L892.4,1032.2H893.8L893.8,1020.7H895.2L895.2,1021.6H896.6L896.6,1011.7H898.0L898.0,1020.5H899.4L899.4,1024.9H900.8L900.8,1023.4H902.2L902.2,1019.5H903.6L903.6,1016.8H905.0L905.0,1007.5H906.4L906.4,1008.1H907.8L907.8,1000.2H909.2L909.2,997.7H910.6L910.6,999.8H912.0L912.0,1006.4H913.4L913.4,1002.0H914.8L914.8,1018.1H916.2L916.2,1017.6H917.6L917.6,1025.8H919.0L919.0,1028.7H920.4L920.4,1037.5H921.8L921.8,1038.4H923.2L923.2,1042.1H924.6L924.6,1034.9H926.0L926.0,1026.1H927.4L927.4,1023.0H928.8L928.8,1015.1H930.2L930.2,1018.1H931.6L931.6,1022.2H933.0L933.0,1026.3H934.4L934.4,1028.3H935.8L935.8,1029.9H937.2L937.2,1029.4H938.6L938.6,1039.6H940.0L940.0,1031.5H941.4L941.4,1028.6H942.8L942.8,1028.6H944.2L944.2,1032.3H945.6L945.6,1029.3H947.0L947.0,1025.1H948.4L948.4,1027.9H949.8L949.8,1027.7H951.2L951.2,1024.3H952.6L952.6,1028.0H954.0L954.0,1030.1H955.4L955.4,1031.5H956.8L956.8,1024.5H958.2L958.2,1022.3H959.6L959.6,1021.3H961.0L961.0,1025.2H962.4L962.4,1021.3H963.8L963.8,1018.3H965.2L965.2,1015.0H966.6L966.6,1012.2H968.0L968.0,1012.1H969.4L969.4,1020.2H970.8L970.8,1022.8H972.2L972.2,1026.0H973.6L973.6,1030.2H975.0L975.0,1026.0H976.4L976.4,1027.3H977.8L977.8,1029.5H979.2L979.2,1039.1H980.6L980.6,1032.6H982.0L982.0,1032.9H983.4L983.4,1029.1H984.8L984.8,1028.2H986.2L986.2,1029.0H987.6L987.6,1022.0H989.0L989.0,1021.5H990.4L990.4,1019.8H991.8L991.8,1024.5H993.2L993.2,1027.5H994.6L994.6,1026.0H996.0L996.0,1035.1H997.4L997.4,1038.7H998.8L998.8,1041.2H1000.2L1000.2,1044.3H1001.6L1001.6,1048.3H1003.0L1003.0,1045.1H1004.4L1004.4,1046.5H1005.8L1005.8,1041.9H1007.2L1007.2,1045.7H1008.6L1008.6,1051.3H1010.0L1010.0,1050.7H1011.4L1011.4,1054.2H1012.8L1012.8,1058.8H1014.2L1014.2,1061.6H1015.6L1015.6,1060.0H1017.0L1017.0,1064.2H1018.4L1018.4,1063.6H1019.8L1019.8,1065.4H1021.2L1021.2,1064.6H1022.6L1022.6,1061.5H1024.0L1024.0,1063.5H1025.4L1025.4,1063.5H1026.8L1026.8,1060.3H1028.2L1028.2,1059.7H1029.6L1029.6,1056.9H1031.0L1031.0,1062.0H1032.4L1032.4,1060.6H1033.8L1033.8,1059.7H1035.2L1035.2,1063.5H1036.6L1036.6,1061.4H1038.0L1038.0,1063.4H1039.4L1039.4,1063.2H1040.8L1040.8,1066.6H1042.2L1042.2,1066.2H1043.6L1043.6,1062.6H1045.0L1045.0,1061.8H1046.4L1046.4,1061.2H1047.8L1047.8,1060.5H1049.2L1049.2,1061.4H1050.6L1050.6,1063.0H1052.0L1052.0,1061.0H1053.4L1053.4,1064.3H1054.8L1054.8,1063.1H1056.2L1056.2,1068.4H1057.6L1057.6,1067.9H1059.0L1059.0,1068.6H1060.4L1060.4,1072.2H1061.8L1061.8,1070.7H1063.2L1063.2,1072.5H1064.6L1064.6,1072.4H1066.0L1066.0,1073.2H1067.4L1067.4,1070.9H1068.8L1068.8,1072.0H1070.2L1070.2,1072.6H1071.6L1071.6,1067.6H1073.0L1073.0,1064.8H1074.4L1074.4,1056.5H1075.8L1075.8,1052.6H1077.2L1077.2,1039.9H1078.6L1078.6,1018.5H1080.0L1080.0,1024.0H1081.4L1081.4,1034.3H1082.8L1082.8,1044.6H1084.2L1084.2,1054.7H1085.6L1085.6,1062.3H1087.0L1087.0,1063.4H1088.4L1088.4,1062.3H1089.8L1089.8,1062.4H1091.2L1091.2,1062.8H1092.6L1092.6,1062.8H1094.0L1094.0,1060.2H1095.4L1095.4,1060.8H1096.8L1096.8,1059.4H1098.2L1098.2,1059.9H1099.6L1099.6,1057.5H1101.0L1101.0,1060.6H1102.4L1102.4,1059.7H1103.8L1103.8,1058.1H1105.2L1105.2,1056.7H1106.6L1106.6,1056.6H1108.0L1108.0,1055.8H1109.4L1109.4,1053.0H1110.8L1110.8,1056.7H1112.2L1112.2,1055.4H1113.6L1113.6,1049.1H1115.0L1115.0,1047.8H1116.4L1116.4,1049.5H1117.8L1117.8,1048.2H1119.2L1119.2,1044.8H1120.6L1120.6,1046.6H1122.0L1122.0,1052.2H1123.4L1123.4,1050.3H1124.8L1124.8,1057.1H1126.2L1126.2,1053.2H1127.6L1127.6,1052.8H1129.0L1129.0,1051.2H1130.4L1130.4,1048.8H1131.8L1131.8,1048.2H1133.2L1133.2,1046.5H1134.6L1134.6,1051.4H1136.0L1136.0,1052.7H1137.4L1137.4,1056.5H1138.8L1138.8,1059.5H1140.2L1140.2,1057.7H1141.6L1141.6,1055.8H1143.0L1143.0,1055.4H1144.4L1144.4,1056.4H1145.8L1145.8,1054.0H1147.2L1147.2,1050.9H1148.6L1148.6,1051.7H1150.0L1150.0,1047.6H1151.4L1151.4,1042.2H1152.8L1152.8,1037.6H1154.2L1154.2,1031.6H1155.6L1155.6,1030.9H1157.0L1157.0,1029.3H1158.4L1158.4,1026.9H1159.8L1159.8,1028.3H1161.2L1161.2,1036.0H1162.6L1162.6,1033.4H1164.0L1164.0,1029.6H1165.4L1165.4,1023.8H1166.8L1166.8,1016.9H1168.2L1168.2,1014.6H1169.6L1169.6,1011.6H1171.0L1171.0,1002.0H1172.4L1172.4,1006.1H1173.8L1173.8,1010.5H1175.2L1175.2,1008.5H1176.6L1176.6,1013.3H1178.0L1178.0,1013.4H1179.4L1179.4,1014.4H1180.8L1180.8,1007.9H1182.2L1182.2,1009.4H1183.6L1183.6,999.5H1185.0L1185.0,1004.2H1186.4L1186.4,997.9H1187.8L1187.8,999.6H1189.2L1189.2,1003.0H1190.6L1190.6,1011.5H1192.0L1192.0,1010.3H1193.4L1193.4,1021.1H1194.8L1194.8,1023.6H1196.2L1196.2,1024.8H1197.6L1197.6,1023.3H1199.0L1199.0,1028.4H1200.4L1200.4,1022.6H1201.8L1201.8,1016.1H1203.2L1203.2,1017.9H1204.6L1204.6,1017.6H1206.0L1206.0,1007.1H1207.4L1207.4,1008.7H1208.8L1208.8,1012.9H1210.2L1210.2,1008.7H1211.6L1211.6,1013.4H1213.0L1213.0,1018.0H1214.4L1214.4,1021.0H1215.8L1215.8,1017.9H1217.2L1217.2,1023.0H1218.6L1218.6,1023.5H1220.0L1220.0,1027.7H1221.4L1221.4,1022.5H1222.8L1222.8,1026.6H1224.2L1224.2,1028.2H1225.6L1225.6,1031.4H1227.0L1227.0,1036.6H1228.4L1228.4,1036.4H1229.8L1229.8,1043.9H1231.2L1231.2,1041.7H1232.6L1232.6,1043.9H1234.0L1234.0,1043.4H1235.4L1235.4,1042.3H1236.8L1236.8,1038.9H1238.2L1238.2,1036.6H1239.6L1239.6,1036.9H1241.0L1241.0,1038.1H1242.4L1242.4,1037.6H1243.8L1243.8,1040.0H1245.2L1245.2,1041.4H1246.6L1246.6,1039.7H1248.0L1248.0,1041.1H1249.4L1249.4,1047.2H1250.8L1250.8,1044.8H1252.2L1252.2,1044.4H1253.6L1253.6,1052.1H1255.0L1255.0,1049.6H1256.4L1256.4,1051.4H1257.8L1257.8,1056.4H1259.2L1259.2,1054.9H1260.6L1260.6,1057.3H1262.0L1262.0,1061.7H1263.4L1263.4,1057.8H1264.8L1264.8,1060.2H1266.2L1266.2,1056.8H1267.6L1267.6,1058.0H1269.0L1269.0,1054.5H1270.4L1270.4,1053.2H1271.8L1271.8,1050.9H1273.2L1273.2,1052.4H1274.6L1274.6,1053.4H1276.0L1276.0,1055.6H1277.4L1277.4,1058.2H1278.8L1278.8,1056.5H1280.2L1280.2,1054.3H1281.6L1281.6,1049.9H1283.0L1283.0,1052.2H1284.4L1284.4,1046.2H1285.8L1285.8,1043.1H1287.2L1287.2,1043.0H1288.6L1288.6,1045.2H1290.0L1290.0,1043.8H1291.4L1291.4,1044.9H1292.8L1292.8,1042.8H1294.2L1294.2,1042.9H1295.6L1295.6,1046.6H1297.0L1297.0,1047.9H1298.4L1298.4,1056.4H1299.8L1299.8,1056.3H1301.2L1301.2,1061.2H1302.6L1302.6,1067.4H1304.0L1304.0,1070.6H1305.4L1305.4,1068.1H1306.8L1306.8,1060.7H1308.2L1308.2,1052.3H1309.6L1309.6,1043.5H1311.0L1311.0,1033.6H1312.4L1312.4,1032.0H1313.8L1313.8,1019.4H1315.2L1315.2,1015.3H1316.6L1316.6,1025.4H1318.0L1318.0,1033.5H1319.4L1319.4,1045.0H1320.8L1320.8,1048.8H1322.2L1322.2,1051.0H1323.6L1323.6,1044.6H1325.0L1325.0,1049.1H1326.4L1326.4,1047.8H1327.8L1327.8,1044.6H1329.2L1329.2,1045.0H1330.6L1330.6,1040.9H1332.0L1332.0,1044.1H1333.4L1333.4,1044.0H1334.8L1334.8,1037.5H1336.2L1336.2,1041.4H1337.6L1337.6,1037.1H1339.0L1339.0,1036.4H1340.4L1340.4,1041.8H1341.8L1341.8,1048.0H1343.2L1343.2,1051.9H1344.6L1344.6,1053.3H1346.0L1346.0,1055.4H1347.4L1347.4,1049.8H1348.8L1348.8,1048.1H1350.2L1350.2,1044.9H1351.6L1351.6,1044.8H1353.0L1353.0,1042.0H1354.4L1354.4,1044.3H1355.8L1355.8,1048.4H1357.2L1357.2,1050.2H1358.6L1358.6,1047.4H1360.0L1360.0,1050.5H1361.4L1361.4,1052.6H1362.8L1362.8,1058.3H1364.2L1364.2,1060.8H1365.6L1365.6,1063.2H1367.0L1367.0,1064.3H1368.4L1368.4,1064.4H1369.8L1369.8,1062.8H1371.2L1371.2,1060.6H1372.6L1372.6,1060.9H1374.0L1374.0,1058.3H1375.4L1375.4,1059.5H1376.8L1376.8,1057.9H1378.2L1378.2,1057.1H1379.6L1379.6,1060.4H1381.0L1381.0,1061.0H1382.4L1382.4,1061.4H1383.8L1383.8,1062.4H1385.2L1385.2,1059.1H1386.6L1386.6,1057.4H1388.0L1388.0,1057.4H1389.4L1389.4,1056.6H1390.8L1390.8,1051.3H1392.2L1392.2,1050.4H1393.6L1393.6,1052.7H1395.0L1395.0,1055.6H1396.4L1396.4,1057.3H1397.8L1397.8,1060.6H1399.2L1399.2,1062.1H1400.6L1400.6,1062.3H1402.0L1402.0,1063.8H1403.4L1403.4,1060.7H1404.8L1404.8,1062.1H1406.2L1406.2,1061.9H1407.6L1407.6,1062.2H1409.0L1409.0,1060.5H1410.4L1410.4,1061.7H1411.8L1411.8,1062.7H1413.2L1413.2,1060.9H1414.6L1414.6,1062.4H1416.0L1416.0,1064.7H1417.4L1417.4,1066.1H1418.8L1418.8,1066.9H1420.2L1420.2,1068.8H1421.6L1421.6,1066.9H1423.0L1423.0,1066.2H1424.4L1424.4,1063.7H1425.8L1425.8,1060.7H1427.2L1427.2,1056.6H1428.6L1428.6,1052.5H1430.0L1430.0,1050.9H1431.4L1431.4,1052.9H1432.8L1432.8,1053.3H1434.2L1434.2,1057.7H1435.6L1435.6,1061.3H1437.0L1437.0,1063.5H1438.4L1438.4,1065.9H1439.8L1439.8,1068.2H1441.2L1441.2,1069.4H1442.6L1442.6,1071.3H1444.0L1444.0,1072.6H1445.4L1445.4,1074.2H1446.8L1446.8,1076.4H1448.2L1448.2,1077.0H1449.6L1449.6,1077.3H1451.0L1451.0,1075.1H1452.4L1452.4,1074.0H1453.8L1453.8,1074.4H1455.2L1455.2,1074.8H1456.6L1456.6,1073.1H1458.0L1458.0,1072.1H1459.4L1459.4,1070.7H1460.8L1460.8,1072.3H1462.2L1462.2,1070.0H1463.6L1463.6,1070.2H1465.0L1465.0,1070.5H1466.4L1466.4,1069.9H1467.8L1467.8,1072.1H1469.2L1469.2,1071.2H1470.6L1470.6,1073.4H1472.0L1472.0,1074.1H1473.4L1473.4,1073.9H1474.8L1474.8,1075.6H1476.2L1476.2,1076.1H1477.6L1477.6,1076.8H1479.0L1479.0,1079.0H1480.4L1480.4,1078.2H1481.8L1481.8,1079.8H1483.2L1483.2,1077.5H1484.6L1484.6,1077.3H1486.0L1486.0,1077.5H1487.4L1487.4,1076.6H1488.8L1488.8,1076.8H1490.2L1490.2,1075.8H1491.6L1491.6,1074.7H1493.0L1493.0,1074.2H1494.4L1494.4,1074.9H1495.8L1495.8,1078.0H1497.2L1497.2,1077.5H1498.6L1498.6,1077.8H1500.0L1500.0,1077.8H1501.4L1501.4,1078.6H1502.8L1502.8,1079.5H1504.2L1504.2,1078.7H1505.6L1505.6,1079.7H1507.0L1507.0,1080.1H1508.4L1508.4,1081.4H1509.8L1509.8,1079.4H1511.2L1511.2,1080.8H1512.6L1512.6,1079.2H1514.0L1514.0,1080.6H1515.4L1515.4,1079.0H1516.8L1516.8,1078.8H1518.2L1518.2,1079.6H1519.6L1519.6,1078.9H1521.0L1521.0,1078.7H1522.4L1522.4,1076.7H1523.8L1523.8,1078.3H1525.2L1525.2,1079.2H1526.6L1526.6,1078.3H1528.0L1528.0,1078.5H1529.4L1529.4,1078.5H1530.8L1530.8,1080.7H1532.2L1532.2,1080.7H1533.6L1533.6,1081.0H1535.0L1535.0,1080.6H1536.4L1536.4,1083.1H1537.8L1537.8,1083.0H1539.2L1539.2,1082.1H1540.6L1540.6,1082.8H1542.0L1542.0,1080.7H1543.4L1543.4,1081.7H1544.8L1544.8,1079.9H1546.2L1546.2,1081.4H1547.6L1547.6,1079.8H1549.0L1549.0,1080.6H1550.4L1550.4,1078.9H1551.8L1551.8,1079.4H1553.2L1553.2,1080.2H1554.6L1554.6,1078.8H1556.0L1556.0,1079.7H1557.4L1557.4,1079.2H1558.8L1558.8,1080.7H1560.2L1560.2,1079.7H1561.6L1561.6,1080.1H1563.0L1563.0,1080.4H1564.4L1564.4,1081.6H1565.8L1565.8,1079.7H1567.2L1567.2,1079.9H1568.6L1568.6,1079.1H1570.0L1570.0,1078.4H1571.4L1571.4,1077.7H1572.8L1572.8,1077.7H1574.2L1574.2,1077.5H1575.6L1575.6,1075.4H1577.0L1577.0,1076.5H1578.4L1578.4,1074.6H1579.8L1579.8,1074.9H1581.2L1581.2,1075.5H1582.6L1582.6,1072.0H1584.0L1584.0,1072.0H1585.4L1585.4,1070.8H1586.8L1586.8,1071.3H1588.2L1588.2,1068.7H1589.6L1589.6,1066.3H1591.0L1591.0,1065.2H1592.4L1592.4,1066.2H1593.8L1593.8,1065.2H1595.2L1595.2,1065.2H1596.6L1596.6,1061.9H1598.0L1598.0,1063.6H1599.4L1599.4,1063.0H1600.8L1600.8,1067.6H1602.2L1602.2,1067.6H1603.6L1603.6,1068.6H1605.0L1605.0,1071.3H1606.4L1606.4,1074.2H1607.8L1607.8,1072.9H1609.2L1609.2,1073.7H1610.6L1610.6,1075.2H1612.0L1612.0,1076.3H1613.4L1613.4,1078.4H1614.8L1614.8,1079.9H1616.2L1616.2,1080.6H1617.6L1617.6,1080.6H1619.0L1619.0,1081.0H1620.4L1620.4,1079.5H1621.8L1621.8,1078.4H1623.2L1623.2,1077.7H1624.6L1624.6,1078.9H1626.0L1626.0,1077.8H1627.4L1627.4,1077.8H1628.8L1628.8,1078.0H1630.2L1630.2,1077.9H1631.6L1631.6,1077.2H1633.0L1633.0,1078.7H1634.4L1634.4,1080.4H1635.8L1635.8,1081.2H1637.2L1637.2,1083.0H1638.6L1638.6,1082.8H1640.0L1640.0,1083.2H1641.4L1641.4,1084.5H1642.8L1642.8,1082.6H1644.2L1644.2,1082.6H1645.6L1645.6,1083.1H1647.0L1647.0,1081.8H1648.4L1648.4,1083.2H1649.8L1649.8,1081.9H1651.2L1651.2,1081.8H1652.6L1652.6,1080.8H1654.0L1654.0,1081.9H1655.4L1655.4,1080.8H1656.8L1656.8,1079.5H1658.2L1658.2,1080.7H1659.6L1659.6,1078.1H1661.0L1661.0,1078.5H1662.4L1662.4,1078.9H1663.8L1663.8,1078.4H1665.2L1665.2,1077.1H1666.6L1666.6,1078.9H1668.0L1668.0,1078.7H1669.4L1669.4,1076.8H1670.8L1670.8,1078.1H1672.2L1672.2,1077.4H1673.6L1673.6,1077.8H1675.0L1675.0,1079.1H1676.4L1676.4,1078.6H1677.8L1677.8,1078.5H1679.2L1679.2,1078.9H1680.6L1680.6,1078.0H1682.0L1682.0,1079.8H1683.4L1683.4,1077.9H1684.8L1684.8,1079.2H1686.2L1686.2,1077.4H1687.6L1687.6,1077.1H1689.0L1689.0,1078.4H1690.4L1690.4,1076.9H1691.8L1691.8,1075.8H1693.2L1693.2,1075.6H1694.6L1694.6,1076.3H1696.0L1696.0,1077.2H1697.4L1697.4,1076.5H1698.8L1698.8,1075.8H1700.2L1700.2,1075.3H1701.6L1701.6,1075.9H1703.0L1703.0,1076.6H1704.4L1704.4,1077.0H1705.8L1705.8,1076.4H1707.2L1707.2,1078.3H1708.6L1708.6,1076.5H1710.0L1710.0,1076.0H1711.4L1711.4,1076.4H1712.8L1712.8,1075.7H1714.2L1714.2,1074.1H1715.6L1715.6,1074.8H1717.0L1717.0,1071.7H1718.4L1718.4,1074.1H1719.8L1719.8,1073.2H1721.2L1721.2,1072.4H1722.6L1722.6,1069.8H1724.0L1724.0,1070.6H1725.4L1725.4,1067.9H1726.8L1726.8,1068.5H1728.2L1728.2,1065.7H1729.6L1729.6,1065.9H1731.0L1731.0,1067.0H1732.4L1732.4,1065.1H1733.8L1733.8,1067.5H1735.2L1735.2,1070.3H1736.6L1736.6,1067.3H1738.0L1738.0,1070.3H1739.4L1739.4,1071.5H1740.8L1740.8,1070.4H1742.2L1742.2,1069.8H1743.6L1743.6,1070.7H1745.0L1745.0,1069.0H1746.4L1746.4,1066.3H1747.8L1747.8,1066.6H1749.2L1749.2,1066.9H1750.6L1750.6,1067.4H1752.0L1752.0,1066.9H1753.4L1753.4,1067.4H1754.8L1754.8,1069.6H1756.2L1756.2,1066.0H1757.6L1757.6,1069.5H1759.0L1759.0,1069.4H1760.4L1760.4,1069.1H1761.8L1761.8,1068.6H1763.2L1763.2,1068.9H1764.6L1764.6,1070.3H1766.0L1766.0,1071.4H1767.4L1767.4,1071.5H1768.8L1768.8,1074.2H1770.2L1770.2,1073.8H1771.6L1771.6,1075.7H1773.0L1773.0,1076.6H1774.4L1774.4,1074.9H1775.8L1775.8,1074.5H1777.2L1777.2,1071.7H1778.6L1778.6,1068.4H1780.0L1780.0,1067.5H1781.4L1781.4,1063.7H1782.8L1782.8,1065.3H1784.2L1784.2,1063.5H1785.6L1785.6,1067.2H1787.0L1787.0,1067.0H1788.4L1788.4,1070.9H1789.8L1789.8,1071.6H1791.2L1791.2,1073.3H1792.6L1792.6,1074.4H1794.0L1794.0,1075.2H1795.4L1795.4,1076.0H1796.8L1796.8,1075.2H1798.2L1798.2,1076.8H1799.6L1799.6,1077.1H1801.0L1801.0,1075.8H1802.4L1802.4,1076.7H1803.8L1803.8,1076.4H1805.2L1805.2,1078.6H1806.6L1806.6,1076.6H1808.0L1808.0,1077.7H1809.4L1809.4,1077.5H1810.8L1810.8,1076.3H1812.2L1812.2,1075.9H1813.6L1813.6,1076.5H1815.0L1815.0,1075.3H1816.4L1816.4,1074.7H1817.8L1817.8,1074.8H1819.2L1819.2,1074.5H1820.6L1820.6,1072.8H1822.0L1822.0,1072.8H1823.4L1823.4,1067.7H1824.8L1824.8,1068.5H1826.2L1826.2,1064.9H1827.6L1827.6,1066.2H1829.0L1829.0,1064.1H1830.4L1830.4,1061.8H1831.8L1831.8,1062.6H1833.2L1833.2,1062.1H1834.6L1834.6,1064.1H1836.0L1836.0,1065.6H1837.4L1837.4,1068.2H1838.8L1838.8,1070.6H1840.2L1840.2,1071.0H1841.6L1841.6,1071.4H1843.0L1843.0,1069.5H1844.4L1844.4,1068.7H1845.8L1845.8,1068.9H1847.2L1847.2,1068.6H1848.6L1848.6,1068.3H1850.0L1850.0,1068.8H1851.4L1851.4,1068.7H1852.8L1852.8,1070.1H1854.2L1854.2,1070.1H1855.6L1855.6,1070.9H1857.0L1857.0,1070.1H1858.4L1858.4,1072.2H1859.8L1859.8,1073.2H1861.2L1861.2,1074.0H1862.6L1862.6,1073.5H1864.0L1864.0,1073.7H1865.4L1865.4,1074.2H1866.8L1866.8,1075.1H1868.2L1868.2,1076.3H1869.6L1869.6,1076.6H1871.0L1871.0,1073.8H1872.4L1872.4,1074.3H1873.8L1873.8,1070.4H1875.2L1875.2,1069.6H1876.6L1876.6,1067.9H1878.0L1878.0,1068.1H1879.4L1879.4,1067.5H1880.8L1880.8,1066.3H1882.2L1882.2,1067.8H1883.6L1883.6,1069.1H1885.0L1885.0,1070.7H1886.4L1886.4,1072.1H1887.8L1887.8,1075.3H1889.2L1889.2,1074.1H1890.6L1890.6,1075.3H1892.0L1892.0,1074.3H1893.4L1893.4,1075.1H1894.8L1894.8,1073.9H1896.2L1896.2,1074.6H1897.6L1897.6,1072.6H1899.0L1899.0,1074.9H1900.4L1900.4,1073.2H1901.8L1901.8,1071.0H1903.2L1903.2,1073.0H1904.6L1904.6,1072.2H1906.0L1906.0,1072.1H1907.4L1907.4,1074.2H1908.8L1908.8,1073.8H1910.2L1910.2,1075.5H1911.6L1911.6,1074.8H1913.0L1913.0,1076.6H1914.4L1914.4,1076.5H1915.8L1915.8,1077.2H1917.2L1917.2,1077.5H1918.6L1918.6,1077.2H1920.0L1920.0,1077.4H1921.4L1921.4,1078.3H1922.8L1922.8,1078.7H1924.2L1924.2,1077.9H1925.6L1925.6,1079.7H1927.0L1927.0,1079.9H1928.4L1928.4,1077.8H1929.8L1929.8,1079.8H1931.2L1931.2,1078.9H1932.6L1932.6,1078.9H1934.0L1934.0,1077.8H1935.4L1935.4,1079.5H1936.8L1936.8,1077.2H1938.2L1938.2,1077.5H1939.6L1939.6,1076.9H1941.0L1941.0,1079.5H1942.4L1942.4,1079.9H1943.8L1943.8,1078.2H1945.2L1945.2,1078.7H1946.6L1946.6,1079.1H1948.0L1948.0,1078.2H1949.4L1949.4,1078.0H1950.8L1950.8,1077.2H1952.2L1952.2,1078.1H1953.6L1953.6,1076.7H1955.0L1955.0,1077.9H1956.4L1956.4,1078.1H1957.8L1957.8,1075.9H1959.2L1959.2,1077.2H1960.6L1960.6,1075.6H1962.0L1962.0,1074.2H1963.4L1963.4,1074.0H1964.8L1964.8,1071.5H1966.2L1966.2,1070.1H1967.6L1967.6,1068.4H1969.0L1969.0,1066.3H1970.4L1970.4,1062.3H1971.8L1971.8,1061.2H1973.2L1973.2,1063.4H1974.6L1974.6,1066.3H1976.0L1976.0,1065.3H1977.4L1977.4,1065.6H1978.8L1978.8,1064.1H1980.2L1980.2,1066.1H1981.6L1981.6,1067.7H1983.0L1983.0,1066.4H1984.4L1984.4,1069.5H1985.8L1985.8,1067.8H1987.2L1987.2,1067.9H1988.6L1988.6,1067.7H1990.0L1990.0,1067.1H1991.4L1991.4,1067.3H1992.8L1992.8,1064.1H1994.2L1994.2,1061.6H1995.6L1995.6,1062.4H1997.0L1997.0,1062.1H1998.4L1998.4,1062.8H1999.8L1999.8,1059.3H2001.2L2001.2,1063.1H2002.6L2002.6,1062.2H2004.0L2004.0,1062.2H2005.4L2005.4,1060.7H2006.8L2006.8,1060.8H2008.2L2008.2,1060.9H2009.6L2009.6,1061.7H2011.0L2011.0,1058.7H2012.4L2012.4,1058.1H2013.8L2013.8,1057.1H2015.2L2015.2,1052.6H2016.6L2016.6,1050.5H2018.0L2018.0,1054.5H2019.4L2019.4,1051.2H2020.8L2020.8,1054.4H2022.2L2022.2,1056.2H2023.6L2023.6,1057.9H2025.0L2025.0,1060.3H2026.4L2026.4,1059.0H2027.8L2027.8,1061.4H2029.2L2029.2,1057.3H2030.6L2030.6,1057.6H2032.0L2032.0,1055.9H2033.4L2033.4,1055.8H2034.8L2034.8,1058.3H2036.2L2036.2,1058.2H2037.6L2037.6,1057.2H2039.0L2039.0,1059.0H2040.4L2040.4,1058.8H2041.8L2041.8,1057.3H2043.2L2043.2,1058.3H2044.6L2044.6,1059.2H2046.0L2046.0,1061.1H2047.4L2047.4,1056.9H2048.8L2048.8,1057.0H2050.2L2050.2,1056.1H2051.6L2051.6,1056.0H2053.0L2053.0,1053.6H2054.4L2054.4,1053.6H2055.8L2055.8,1048.7H2057.2L2057.2,1050.4H2058.6L2058.6,1048.7H2060.0L2060.0,1052.1H2061.4L2061.4,1055.6H2062.8L2062.8,1054.0H2064.2L2064.2,1054.4H2065.6L2065.6,1055.4H2067.0L2067.0,1055.5H2068.4L2068.4,1053.0H2069.8L2069.8,1053.7H2071.2L2071.2,1054.3H2072.6L2072.6,1054.6H2074.0L2074.0,1052.8H2075.4L2075.4,1053.7H2076.8L2076.8,1052.5H2078.2L2078.2,1051.3H2079.6L2079.6,1052.1H2081.0L2081.0,1051.6H2082.4L2082.4,1054.1H2083.8L2083.8,1054.8H2085.2L2085.2,1053.3H2086.6L2086.6,1051.7H2088.0L2088.0,1047.8H2089.4L2089.4,1041.5H2090.8L2090.8,1039.3H2092.2L2092.2,1040.4H2093.6L2093.6,1043.6H2095.0L2095.0,1045.8H2096.4L2096.4,1049.2H2097.8L2097.8,1051.0H2099.2L2099.2,1049.4H2100.6L2100.6,1046.3H2102.0L2102.0,1044.8H2103.4L2103.4,1034.2H2104.8L2104.8,1026.3H2106.2L2106.2,1010.4H2107.6L2107.6,992.7H2109.0L2109.0,983.2H2110.4L2110.4,992.2H2111.8L2111.8,980.7H2113.2L2113.2,969.8H2114.6L2114.6,966.0H2116.0L2116.0,972.1H2117.4L2117.4,976.1H2118.8L2118.8,983.4H2120.2L2120.2,983.6H2121.6L2121.6,979.8H2123.0L2123.0,981.2H2124.4L2124.4,981.7H2125.8L2125.8,1010.1H2127.2L2127.2,1016.5H2128.6L2128.6,1015.1H2130.0L2130.0,1025.3H2131.4L2131.4,1015.9H2132.8L2132.8,1015.2H2134.2L2134.2,1020.3H2135.6L2135.6,1022.3H2137.0L2137.0,1020.1H2138.4L2138.4,1026.3H2139.8L2139.8,1024.7H2141.2L2141.2,1032.4H2142.6L2142.6,1034.2H2144.0L2144.0,1032.7H2145.4L2145.4,1037.9H2146.8L2146.8,1040.3H2148.2L2148.2,1041.4H2149.6L2149.6,1039.7H2151.0L2151.0,1041.1H2152.4L2152.4,1041.5H2153.8L2153.8,1041.8H2155.2L2155.2,1045.7H2156.6L2156.6,1045.8H2158.0L2158.0,1048.9H2159.4L2159.4,1048.3H2160.8L2160.8,1049.3H2162.2L2162.2,1049.6H2163.6L2163.6,1056.6H2165.0L2165.0,1056.4H2166.4L2166.4,1056.3H2167.8L2167.8,1053.3H2169.2L2169.2,1051.8H2170.6L2170.6,1053.2H2172.0L2172.0,1051.0H2173.4L2173.4,1054.3H2174.8L2174.8,1054.7H2175.0L2175.0,1095.3Z" fill="#a5411b"/>
<rect x="189" y="290" width="1987" height="806" fill="url(#stripes)" clip-path="url(#areaclip)"/>
<line x1="178.6" x2="178.6" y1="201" y2="1095.3" stroke="#80878f" stroke-width="2.8"/>
<line x1="2185.7" x2="2185.7" y1="201" y2="1096" stroke="#9152c9" stroke-width="3.2"/>
<line x1="175.7" x2="2166.5" y1="416.6" y2="416.6" stroke="#000" stroke-width="3.5" stroke-dasharray="12.3,12.57" stroke-dashoffset="5.57"/>
<path d="M190.3,993.6L190.6,988.5L190.6,983.9L190.8,980.8L191.8,975.5L191.8,970.1L193.2,965.9L192.6,962.2L192.7,957.7L193.5,952.4L193.7,947.4L194.4,943.0L193.9,938.0L195.9,933.8L194.7,927.6L195.9,924.5L195.6,920.0L196.0,913.9L196.2,910.3L196.1,905.4L197.2,899.8L197.1,896.2L198.3,900.4L198.2,905.4L199.9,910.4L199.8,915.8L200.3,918.3L201.4,923.1L202.2,928.6L202.6,924.6L203.0,920.3L203.9,914.1L203.7,910.7L206.1,905.2L203.8,899.7L204.6,896.2L207.0,892.7L208.1,884.8L210.1,880.4L212.5,875.6L217.6,879.1L218.3,883.8L218.0,888.5L219.1,892.8L220.4,897.5L220.6,903.5L221.7,909.2L221.7,913.2L226.2,911.5L228.6,906.6L227.1,902.7L229.8,898.2L232.1,893.9L231.3,889.3L232.2,885.3L232.8,878.7L233.8,874.0L234.3,869.7L235.6,863.3L236.4,858.5L237.0,852.4L237.0,848.7L238.7,843.5L238.4,838.5L239.4,832.7L239.0,827.5L240.7,823.4L241.6,818.1L241.5,814.1L241.0,808.7L241.6,805.2L243.3,799.6L243.2,796.5L244.4,791.6L243.5,787.2L243.5,782.1L244.1,777.6L245.1,772.8L245.0,767.9L244.5,771.8L246.0,778.9L245.6,782.1L246.1,787.8L246.7,791.9L245.5,798.8L246.9,801.4L247.4,807.3L248.5,813.8L249.1,818.8L250.1,824.4L250.4,820.0L251.2,815.5L251.5,809.5L253.2,804.3L253.5,800.4L254.3,794.4L255.2,791.8L257.8,786.5L258.5,780.9L259.3,777.2L260.6,782.4L261.1,785.6L261.9,791.8L261.3,795.5L262.2,802.3L262.9,805.8L263.8,810.7L264.8,816.7L264.4,819.5L264.6,825.3L264.4,830.3L266.0,834.6L266.2,840.2L265.4,844.9L266.0,851.5L266.5,855.1L267.9,851.5L268.1,845.7L267.7,839.5L269.4,835.5L269.5,830.4L269.6,825.6L270.6,820.9L270.9,824.9L272.7,831.1L273.6,836.1L273.3,841.1L275.0,844.9L276.6,850.4L279.1,856.8L280.4,851.3L280.6,847.4L281.5,841.5L282.4,836.3L280.4,830.4L284.3,827.8L284.3,822.8L286.3,817.7L286.1,812.8L287.0,807.8L287.5,802.4L288.9,798.0L288.7,793.6L292.1,790.2L293.2,795.2L294.9,800.7L296.2,807.3L297.2,811.4L296.9,817.6L298.7,821.0L297.7,825.5L298.5,831.0L298.6,834.0L299.0,839.7L300.4,836.3L298.4,829.9L301.4,826.6L302.4,822.7L303.8,817.5L303.7,821.6L304.9,827.2L305.5,831.3L307.2,836.3L311.6,834.6L312.6,840.5L313.4,845.7L314.2,850.7L315.0,855.1L315.4,848.5L317.3,844.2L317.5,839.2L318.4,834.4L319.5,830.6L320.2,824.4L324.2,828.5L327.0,831.2L333.8,832.9L340.0,838.0L339.5,842.3L340.9,849.0L341.0,854.2L341.5,859.4L341.9,864.7L342.4,868.8L342.8,872.6L343.6,877.4L343.8,883.8L344.9,886.9L345.0,892.4L345.8,897.9L350.9,894.4L354.2,897.9L356.1,903.0L356.4,899.0L358.2,893.1L358.4,889.2L359.5,884.2L361.2,889.6L364.6,892.7L367.3,899.5L369.7,903.0L373.2,896.2L373.8,901.8L373.3,905.2L373.8,909.7L375.1,916.4L374.9,920.1L375.2,914.5L374.8,911.6L375.0,905.7L375.7,901.5L376.7,896.0L375.1,891.1L376.8,886.7L373.9,881.8L377.9,877.6L377.5,874.0L377.2,869.1L378.3,865.2L377.3,858.6L378.3,855.1L383.4,862.0L388.5,857.9L390.7,861.9L392.0,868.8L393.7,872.2L395.9,877.2L398.8,882.5L400.5,887.3L403.0,892.4L403.9,896.2L404.2,900.0L405.6,905.3L405.7,909.4L405.5,914.4L406.7,917.9L407.1,923.2L409.1,928.4L408.8,932.6L409.1,937.2L410.1,932.0L411.9,928.3L411.5,923.6L413.3,917.7L414.2,913.2L415.4,916.9L417.8,922.6L419.3,926.9L421.5,923.9L423.4,918.4L426.3,923.0L427.1,928.4L428.9,932.1L432.3,930.3L433.3,935.8L432.8,941.9L433.7,945.8L434.1,950.1L434.4,956.0L433.7,951.9L435.6,945.2L435.4,941.3L435.6,935.8L436.4,930.3L439.1,926.5L440.5,921.8L446.0,924.0L445.0,930.3L448.4,926.9L449.1,932.7L450.7,936.7L451.8,940.6L452.5,936.8L451.7,931.2L454.1,926.6L454.8,923.4L454.7,917.5L455.3,913.2L455.6,908.9L456.9,904.7L458.8,900.3L462.1,896.2L462.3,891.9L464.3,887.0L464.5,881.8L465.5,875.6L468.9,872.2L470.4,875.8L470.8,880.9L474.2,885.0L474.7,889.3L475.6,884.5L477.5,881.7L477.4,875.9L478.5,872.1L480.1,867.0L480.1,862.2L480.9,856.8L484.3,855.1L486.9,850.6L489.4,844.9L492.0,841.0L493.0,836.3L496.2,832.9L497.9,836.7L499.7,841.5L503.1,836.3L504.9,841.3L505.4,844.5L506.5,850.0L508.9,843.2L508.5,848.5L509.2,851.9L511.5,856.8L511.4,862.5L512.0,866.5L512.3,872.2L514.5,876.2L516.8,882.5L517.9,878.5L520.0,872.3L521.2,867.1L521.1,872.4L521.6,875.3L523.7,880.9L522.7,884.9L522.2,889.4L524.0,894.1L523.6,897.8L524.6,903.0L526.8,908.0L525.2,914.6L525.8,918.0L527.0,923.5L527.1,927.9L527.3,932.4L527.0,937.1L527.7,940.6L526.8,945.4L528.0,951.9L526.8,956.5L526.7,960.2L528.3,965.5L527.1,968.6L527.8,974.6L527.7,979.3L527.2,982.1L527.1,987.5L528.0,991.9L528.1,996.2L528.2,999.9L527.3,1004.5L528.6,1008.9L528.6,1014.4L528.4,1019.6L528.8,1024.3L528.3,1027.8L528.1,1032.6L529.1,1038.0L528.7,1041.5L529.4,1037.5L531.8,1031.8L532.1,1026.1L531.5,1020.3L532.9,1016.2L533.0,1012.5L533.0,1007.1L533.1,1003.5L535.8,997.2L534.9,994.2L535.2,988.5L533.9,983.9L534.8,979.0L535.6,974.8L536.4,979.3L538.0,983.4L538.3,988.5L538.3,983.8L538.9,979.2L539.8,973.3L540.0,969.9L539.9,964.6L541.2,959.4L540.3,955.9L541.7,950.9L542.3,956.7L542.8,960.0L542.7,965.6L543.7,969.8L545.5,974.1L545.5,981.3L545.8,985.0L545.6,981.1L547.0,976.4L546.7,969.3L548.4,965.3L548.6,961.3L549.1,955.2L549.2,950.9L550.9,946.4L552.0,942.2L552.9,937.7L554.3,931.6L556.1,928.6L560.2,933.8L560.6,939.0L562.5,944.3L563.4,949.4L564.6,954.3L564.4,949.7L565.2,945.1L566.7,940.5L567.0,935.2L568.0,930.3L568.9,934.2L570.0,939.2L571.5,944.0L571.9,938.0L573.6,933.2L574.3,928.9L574.7,923.4L575.6,918.7L576.6,913.2L577.3,908.9L577.1,903.9L577.8,899.5L579.1,894.5L578.6,890.8L579.4,885.8L578.9,880.8L580.0,875.6L585.1,870.5L585.1,866.1L587.1,860.5L587.0,855.6L587.4,851.8L587.6,845.4L588.5,841.5L589.5,847.0L588.2,850.6L589.4,856.2L591.5,859.9L590.4,863.6L591.3,869.7L592.6,872.8L592.8,877.0L593.7,882.5L594.1,878.0L595.0,872.9L595.0,867.5L596.6,863.1L597.0,859.1L596.0,853.0L597.1,848.3L601.2,850.0L602.6,856.2L603.3,859.1L604.8,864.4L606.0,871.4L607.4,875.6L609.1,870.3L609.6,865.0L610.0,859.6L611.5,855.1L612.6,851.4L614.1,846.2L613.2,840.0L615.9,836.3L617.0,842.1L619.3,848.3L624.4,844.9L625.0,850.7L627.3,854.4L627.9,858.5L633.0,855.1L636.4,860.3L637.8,856.8L639.8,851.7L641.2,856.5L642.7,862.5L645.0,867.1L650.1,865.4L654.4,861.8L656.9,857.9L662.1,863.7L668.9,865.4L670.9,861.7L672.8,857.1L674.0,851.7L674.7,847.9L674.3,842.6L675.3,837.6L674.7,832.2L676.3,827.4L675.9,823.9L677.0,818.1L677.4,814.1L679.5,808.6L679.6,803.6L681.1,800.1L682.6,795.3L684.4,798.9L687.7,803.8L689.4,799.1L691.1,795.3L695.3,788.1L699.7,785.0L702.6,788.6L704.8,797.0L709.9,803.8L712.2,798.9L713.5,795.9L715.0,790.2L715.5,795.6L716.3,798.7L716.4,804.5L717.0,808.3L716.3,812.8L717.9,817.6L717.6,822.2L718.1,827.1L718.5,831.2L723.6,836.3L728.7,829.5L730.7,824.7L732.2,820.5L733.3,815.5L734.5,812.4L735.5,816.4L736.7,822.2L737.5,829.1L739.0,832.9L740.3,827.9L742.4,824.3L744.1,819.2L750.9,824.4L756.1,819.2L757.3,813.3L757.5,810.2L758.4,805.2L761.2,800.4L766.3,803.8L767.9,798.1L768.6,795.1L768.6,789.1L768.7,783.7L769.8,778.8L770.2,773.8L771.5,769.7L776.6,762.8L778.0,758.9L780.0,752.6L780.5,752.6L781.8,747.3L783.3,741.7L783.3,737.3L784.9,731.1L784.3,728.1L785.6,721.8L788.3,718.6L791.4,713.5L794.2,708.1L794.7,704.1L796.0,698.5L796.7,693.4L798.2,688.4L798.8,684.7L800.4,681.0L800.4,675.2L801.0,670.5L804.7,667.4L806.2,662.0L807.3,666.0L808.5,670.1L807.7,676.4L809.4,680.6L811.6,686.7L810.6,691.0L810.8,685.8L812.0,680.5L812.5,677.1L811.3,671.8L814.0,667.7L813.7,662.0L814.4,658.0L814.7,653.4L817.5,655.6L821.5,660.3L822.6,665.5L823.8,669.4L826.7,673.9L827.7,668.9L828.8,663.9L830.0,660.3L828.5,654.6L831.8,650.0L831.1,644.7L831.8,640.8L833.1,635.9L832.4,630.9L831.2,627.2L833.4,622.5L832.3,618.1L833.7,612.1L832.9,609.0L833.5,603.4L838.6,598.3L838.7,594.6L839.8,588.9L840.8,584.3L840.9,580.3L841.1,576.4L843.8,571.7L842.1,566.9L843.8,562.4L844.3,557.5L844.7,552.0L844.9,547.5L846.2,544.9L847.2,538.6L847.4,534.5L847.8,529.5L848.2,527.0L848.9,521.4L848.8,517.2L850.6,510.2L851.2,504.6L852.3,500.9L853.2,496.7L852.9,492.5L854.3,486.7L852.0,481.9L853.5,476.2L853.9,472.0L855.0,466.4L854.9,462.0L855.2,456.9L855.7,453.0L857.4,451.3L858.0,456.2L857.3,460.7L858.5,464.7L858.7,470.7L859.3,473.2L859.4,479.7L859.7,484.3L860.2,489.0L860.4,492.9L860.9,497.4L863.3,493.2L860.6,486.4L862.0,482.6L864.5,477.5L861.5,472.3L860.4,468.4L862.6,463.2L862.6,469.4L866.4,475.6L866.7,480.3L869.4,483.8L869.7,488.9L870.0,492.7L871.1,496.9L871.1,502.5L871.4,505.5L871.1,510.7L871.4,516.2L872.0,519.5L872.1,524.8L872.2,519.9L874.5,514.5L875.3,519.4L875.9,525.2L876.9,529.9L877.2,525.8L878.4,520.8L878.9,515.5L878.4,510.3L880.6,506.3L879.7,500.9L883.8,494.0L884.4,489.8L884.8,484.4L885.5,478.5L886.1,473.9L887.6,469.1L888.2,463.2L888.1,458.8L889.1,454.9L889.2,448.3L889.6,443.1L890.3,440.1L889.3,434.4L890.2,430.6L891.6,424.8L891.3,420.5L891.6,415.4L893.7,410.4L895.0,406.8L896.4,403.5L898.5,398.3L898.6,394.1L899.8,387.8L899.4,384.1L900.6,378.4L901.5,373.3L901.2,369.8L901.9,364.1L904.6,355.6L904.3,360.2L905.3,365.1L905.1,368.6L906.7,372.4L905.6,377.2L907.2,382.6L907.3,387.1L907.7,391.5L908.2,395.1L909.6,400.5L910.5,406.0L910.5,410.6L912.3,414.6L912.1,418.8L912.7,412.4L913.6,407.9L914.5,404.3L914.5,398.3L919.0,391.5L919.3,387.4L919.6,381.4L921.7,376.4L921.2,372.3L920.9,366.6L922.5,363.4L923.8,359.3L923.4,353.8L924.6,349.7L924.8,343.7L926.5,338.5L927.6,343.3L929.2,350.4L932.6,348.7L933.4,354.2L934.9,358.5L936.1,364.1L937.2,369.8L938.2,374.6L939.5,381.2L939.3,376.0L942.1,371.1L941.3,365.2L942.2,361.7L943.6,355.4L944.6,350.4L949.7,347.0L951.9,351.7L954.2,357.3L955.5,352.9L956.2,345.9L954.0,341.1L958.3,336.8L959.9,332.7L961.7,327.2L963.5,330.5L964.4,336.8L964.2,342.3L966.5,346.6L965.9,351.6L966.3,354.7L967.3,358.9L968.5,364.1L969.2,369.5L970.7,374.1L970.3,379.1L972.4,384.8L973.2,390.9L973.7,394.9L974.1,390.9L974.2,386.1L975.5,380.8L975.9,375.4L976.9,370.3L978.1,365.7L978.3,362.6L978.8,357.3L983.9,360.7L986.4,353.7L987.4,348.7L988.3,354.4L990.0,356.6L990.8,362.4L991.0,366.3L990.3,373.2L992.2,376.9L992.7,382.0L990.8,385.1L994.6,389.0L994.2,394.9L992.7,400.5L995.3,404.3L995.5,408.8L996.2,414.4L996.5,417.3L995.5,423.7L997.4,426.8L997.6,432.5L999.8,437.5L998.1,441.0L999.4,445.6L1000.2,449.9L999.9,457.1L999.7,459.9L1002.1,466.0L1001.0,470.1L1001.9,475.4L1002.6,481.0L1002.9,485.8L1003.4,490.6L1003.9,486.9L1005.4,482.1L1005.2,476.8L1006.3,472.8L1007.0,467.8L1006.8,463.2L1007.5,468.0L1008.0,472.3L1008.6,476.5L1009.9,482.0L1009.5,485.5L1010.3,490.6L1011.3,485.8L1012.8,481.7L1014.1,475.8L1012.9,472.2L1014.7,466.7L1015.1,470.8L1017.5,476.5L1018.4,480.9L1019.1,487.2L1018.5,493.0L1020.6,496.7L1021.5,502.6L1022.2,497.8L1023.0,493.3L1022.7,489.1L1023.6,483.0L1023.9,480.1L1023.3,474.4L1025.0,470.1L1026.3,465.7L1026.7,457.8L1028.4,453.0L1029.3,456.5L1030.0,463.3L1030.7,468.3L1031.3,471.2L1031.8,476.9L1033.7,481.7L1033.9,485.2L1033.5,490.5L1034.4,496.6L1035.2,500.9L1035.7,506.6L1035.6,511.2L1036.0,514.6L1036.9,519.7L1038.4,515.6L1038.9,510.0L1039.6,507.4L1039.2,501.5L1041.0,497.4L1044.4,504.3L1047.0,498.1L1047.9,492.3L1049.3,500.5L1052.3,504.3L1057.4,500.9L1059.4,505.2L1061.3,510.0L1062.6,516.2L1063.8,521.5L1064.2,526.4L1065.4,530.0L1067.0,535.0L1067.4,530.6L1069.5,525.7L1068.2,519.7L1069.0,515.5L1069.5,510.0L1070.9,506.3L1071.1,500.9L1071.2,495.7L1072.1,492.0L1072.7,488.2L1073.3,481.6L1073.7,478.5L1073.9,473.0L1074.7,468.0L1076.0,463.9L1076.2,459.8L1076.3,455.3L1077.8,449.8L1078.6,446.2L1080.9,452.5L1080.6,457.1L1081.4,463.2L1081.3,459.1L1081.9,453.6L1084.2,448.8L1084.5,445.2L1084.5,440.5L1084.6,435.2L1085.5,432.4L1087.2,426.3L1086.5,422.2L1089.9,415.4L1092.0,411.8L1093.3,406.8L1095.5,411.7L1095.9,416.5L1096.8,422.2L1096.9,415.9L1098.0,412.8L1098.4,406.6L1101.4,401.6L1101.9,396.6L1104.5,401.0L1107.0,405.1L1110.4,400.0L1115.6,401.7L1116.3,394.8L1118.2,390.1L1118.0,384.1L1119.0,379.5L1119.7,384.9L1120.3,389.2L1121.6,395.4L1119.5,399.3L1121.7,405.1L1122.2,409.8L1124.3,417.5L1125.1,422.2L1126.1,415.9L1127.9,411.6L1129.2,405.1L1132.6,406.8L1132.8,411.4L1133.2,416.7L1133.4,419.6L1134.2,424.0L1134.5,428.8L1134.4,434.1L1135.7,438.4L1135.7,442.6L1136.1,447.9L1135.9,442.6L1138.5,438.3L1138.6,432.7L1139.5,429.1L1140.1,435.1L1142.5,440.6L1142.9,446.2L1143.7,441.8L1143.0,436.4L1143.5,433.3L1144.7,428.7L1145.6,422.6L1145.3,419.4L1145.8,414.1L1145.8,408.9L1146.3,405.1L1146.6,399.7L1146.8,396.1L1150.6,390.8L1149.7,385.0L1149.6,380.6L1151.2,376.7L1151.5,370.9L1155.1,365.2L1156.6,360.7L1159.8,356.0L1158.1,351.8L1159.3,345.2L1160.2,341.5L1161.7,336.8L1163.0,331.9L1164.6,327.3L1165.1,322.9L1166.8,317.9L1168.0,322.7L1169.2,329.5L1170.3,335.0L1172.2,341.2L1174.4,347.0L1175.8,342.7L1177.5,337.7L1178.8,331.6L1183.9,335.0L1185.3,331.4L1185.8,325.9L1186.1,318.3L1188.1,314.8L1188.0,309.4L1190.5,315.2L1191.5,319.7L1194.9,319.7L1195.6,323.4L1196.6,329.4L1195.4,332.9L1196.5,338.6L1197.0,341.5L1198.3,347.0L1201.3,351.7L1201.7,357.3L1206.2,350.4L1209.3,354.8L1210.3,361.0L1208.8,366.7L1209.6,370.9L1210.4,366.9L1211.8,362.5L1213.0,357.3L1213.6,361.1L1214.6,367.6L1215.2,371.6L1214.1,376.8L1213.9,380.4L1216.3,384.9L1215.5,390.7L1216.4,394.9L1221.5,391.5L1223.6,396.4L1226.6,402.1L1225.6,408.5L1230.1,413.7L1230.6,409.9L1232.0,405.1L1232.8,399.9L1234.1,393.8L1235.2,389.7L1240.3,389.7L1241.7,395.3L1242.6,400.7L1243.3,406.8L1243.8,412.0L1247.2,408.5L1247.7,414.0L1250.2,416.9L1250.6,422.2L1252.3,426.3L1252.4,432.4L1254.3,439.4L1254.0,444.4L1256.5,439.1L1259.1,432.5L1264.3,439.3L1265.2,444.7L1265.1,448.9L1266.5,453.1L1266.2,459.3L1266.2,462.6L1267.4,469.7L1267.7,473.5L1268.1,478.0L1268.2,485.1L1269.4,490.6L1270.6,485.3L1273.1,478.0L1274.5,473.5L1277.3,470.2L1281.4,466.7L1281.8,461.3L1282.5,456.7L1284.5,451.3L1284.5,448.0L1285.6,443.6L1284.7,437.6L1286.5,432.5L1291.6,427.4L1295.0,427.4L1295.5,432.8L1296.5,436.4L1297.1,441.9L1297.1,446.0L1298.3,452.3L1298.5,456.4L1299.4,460.9L1300.6,465.1L1301.0,471.6L1302.9,475.2L1305.2,472.4L1307.0,466.7L1306.9,462.7L1308.1,456.9L1309.2,451.2L1310.1,447.1L1309.3,442.9L1310.4,437.0L1308.8,431.2L1311.1,427.4L1312.2,433.0L1312.2,437.5L1312.0,442.8L1313.8,446.0L1313.1,452.5L1314.8,457.3L1313.9,462.6L1315.6,466.7L1316.4,461.8L1317.9,458.1L1317.7,451.1L1319.8,448.4L1320.0,442.7L1319.2,447.1L1321.9,452.9L1322.8,458.5L1322.0,462.5L1324.1,468.4L1325.1,462.9L1328.0,459.5L1327.4,454.3L1329.1,451.1L1329.2,446.2L1333.4,441.5L1334.4,435.9L1335.6,430.8L1336.0,426.7L1337.6,422.8L1338.9,416.7L1339.4,412.5L1341.2,408.5L1346.3,415.4L1348.5,418.6L1347.9,426.1L1350.0,430.2L1351.5,435.9L1353.0,441.7L1353.4,445.8L1355.8,452.3L1356.6,456.4L1360.0,453.0L1360.5,451.3L1364.6,444.4L1366.2,450.1L1367.3,453.7L1369.1,459.8L1372.5,454.7L1373.1,459.7L1375.8,465.4L1376.9,470.1L1378.9,465.9L1379.7,461.0L1380.3,456.4L1380.4,460.7L1380.8,465.7L1381.7,469.5L1381.9,474.5L1381.8,480.2L1382.7,483.8L1382.6,488.1L1384.4,493.9L1384.7,496.8L1385.4,501.5L1385.5,507.5L1386.2,511.1L1385.6,515.3L1387.0,521.7L1387.0,526.0L1388.3,529.4L1388.2,534.9L1388.5,540.5L1388.5,545.3L1389.5,539.1L1390.5,536.2L1391.6,529.0L1392.0,524.8L1393.4,531.7L1395.4,537.5L1396.4,541.9L1399.0,537.1L1400.9,531.6L1402.8,535.7L1403.2,541.0L1405.0,547.0L1405.8,543.5L1407.2,537.2L1408.1,532.8L1407.2,527.5L1409.4,525.4L1410.1,519.7L1411.6,526.0L1412.3,529.8L1413.5,536.8L1414.5,531.7L1416.0,527.8L1416.9,523.1L1416.9,528.6L1417.8,531.7L1420.1,537.2L1420.3,541.9L1421.3,546.9L1421.4,550.3L1421.2,555.7L1422.8,559.9L1423.3,564.6L1423.1,570.0L1423.9,574.2L1424.2,578.1L1424.6,582.7L1425.0,588.2L1422.9,593.2L1424.5,599.6L1424.4,603.3L1425.4,609.4L1425.4,613.7L1425.6,618.3L1426.4,622.9L1427.8,628.1L1426.7,632.1L1427.5,636.3L1428.0,641.7L1428.5,645.8L1429.1,652.3L1428.4,655.8L1429.2,662.0L1429.0,657.8L1431.1,652.6L1433.1,648.8L1429.9,643.9L1431.8,639.2L1435.8,635.3L1436.9,629.0L1438.1,634.5L1439.5,636.7L1439.7,641.2L1440.7,646.8L1442.7,651.5L1445.3,658.2L1445.8,652.6L1447.9,649.8L1448.3,643.1L1448.8,638.2L1449.4,635.2L1449.6,629.0L1452.1,625.2L1452.3,630.6L1452.9,634.2L1452.7,638.8L1454.6,642.9L1454.8,649.3L1454.6,653.0L1455.9,658.2L1456.9,654.2L1457.6,646.2L1459.5,641.1L1459.8,636.6L1460.5,631.5L1460.4,626.2L1461.3,621.7L1462.6,615.7L1463.1,611.3L1463.6,606.1L1466.6,609.9L1467.8,615.2L1467.6,619.4L1468.0,625.0L1469.9,629.0L1469.9,625.1L1470.8,619.2L1471.6,614.8L1471.9,610.1L1473.3,606.6L1473.2,601.0L1477.5,604.8L1480.9,612.5L1483.6,605.9L1485.2,599.8L1487.8,596.1L1490.3,592.1L1494.1,599.8L1495.1,603.7L1495.7,608.5L1495.6,614.7L1495.1,621.1L1495.5,624.2L1496.5,631.3L1496.6,635.3L1500.4,627.7L1503.7,630.3L1504.1,635.0L1504.7,641.8L1506.3,646.2L1506.8,651.9L1510.6,645.5L1513.1,649.3L1514.1,653.1L1515.4,660.3L1516.5,664.6L1515.5,659.8L1517.1,655.4L1518.2,649.7L1519.0,643.1L1519.1,640.1L1519.8,633.5L1519.5,629.0L1520.6,622.5L1523.3,617.5L1522.7,622.9L1524.6,627.0L1524.6,631.2L1525.6,638.1L1525.1,642.7L1525.9,646.8L1529.7,651.9L1530.7,657.0L1531.8,661.4L1532.7,668.4L1533.6,663.5L1537.3,659.5L1542.4,659.5L1545.6,653.8L1546.4,647.6L1547.0,643.0L1549.8,650.6L1551.3,655.7L1555.6,659.5L1560.2,657.0L1564.8,659.5L1569.1,653.1L1571.2,647.6L1571.6,642.4L1572.4,637.9L1576.7,639.2L1581.0,631.5L1582.7,635.2L1583.6,641.7L1583.8,645.5L1584.0,651.8L1583.1,655.7L1584.8,659.6L1584.3,663.8L1585.3,669.7L1584.0,674.3L1585.3,678.3L1585.1,682.4L1585.1,687.0L1585.7,691.4L1586.0,697.7L1586.6,703.9L1584.9,708.0L1586.1,712.9L1586.7,709.0L1586.7,702.6L1587.4,698.7L1588.0,695.6L1588.7,690.0L1590.9,695.4L1592.0,698.9L1595.8,698.9L1596.4,703.0L1597.5,708.5L1598.8,714.2L1600.4,711.0L1599.9,704.0L1602.1,700.2L1607.2,705.3L1608.0,701.0L1609.3,696.5L1609.8,691.3L1614.8,693.8L1619.2,690.0L1621.8,684.1L1623.7,679.8L1626.7,683.5L1625.2,688.1L1627.3,692.7L1626.8,697.6L1630.1,701.5L1632.6,695.1L1637.7,695.1L1641.5,700.2L1646.6,696.4L1651.2,692.6L1653.0,687.9L1654.3,682.4L1654.6,678.3L1653.8,671.0L1653.7,667.6L1656.2,662.7L1656.4,657.4L1656.8,651.9L1657.4,646.5L1657.5,641.1L1658.8,634.1L1661.9,635.3L1660.7,628.5L1663.5,624.6L1664.5,618.6L1664.9,613.7L1669.5,608.6L1671.6,605.5L1674.6,601.0L1678.4,606.1L1682.2,604.8L1683.1,610.3L1684.0,615.6L1685.0,618.4L1686.0,623.9L1689.9,622.6L1689.6,617.5L1691.0,613.7L1692.5,607.8L1692.7,603.5L1692.5,598.3L1693.7,594.7L1698.0,588.3L1700.8,594.3L1701.3,601.0L1703.8,606.1L1707.7,602.3L1710.0,608.8L1711.5,613.7L1715.3,621.4L1715.5,625.2L1717.1,631.9L1717.9,636.2L1716.5,640.2L1717.8,645.5L1718.6,641.6L1718.5,636.3L1720.2,630.5L1719.0,626.1L1720.2,620.5L1720.4,616.3L1720.5,611.7L1720.9,605.6L1722.4,601.6L1722.0,595.3L1722.4,590.9L1723.4,587.2L1723.3,581.9L1724.2,577.0L1725.1,572.1L1725.5,568.0L1727.4,563.0L1728.9,558.6L1731.5,552.1L1734.9,559.0L1737.6,554.9L1740.0,550.4L1745.1,555.6L1747.6,553.0L1750.3,547.0L1752.3,541.9L1752.9,538.0L1753.7,533.3L1758.8,531.6L1759.0,537.1L1760.6,540.3L1760.5,546.0L1762.8,551.4L1763.1,555.9L1763.9,560.7L1765.5,555.3L1766.6,550.4L1769.1,545.3L1772.5,552.1L1774.8,545.2L1777.6,540.2L1779.8,544.6L1780.9,549.8L1782.7,555.6L1785.3,560.2L1787.9,565.8L1793.0,560.7L1798.1,567.5L1800.0,562.7L1802.6,559.1L1804.3,553.8L1805.7,558.0L1808.3,564.2L1810.1,569.2L1813.5,562.4L1815.0,566.6L1817.0,570.4L1818.6,576.1L1822.7,582.9L1824.0,577.3L1824.9,571.9L1825.9,567.5L1827.2,562.4L1827.5,556.5L1830.5,553.4L1829.0,547.5L1830.3,544.2L1830.8,538.7L1831.6,533.5L1832.3,529.9L1837.4,529.9L1842.6,524.8L1847.7,531.6L1849.9,527.2L1853.5,523.1L1857.5,529.2L1859.7,533.3L1866.5,538.5L1871.6,541.9L1878.5,540.2L1883.6,538.5L1889.4,541.9L1889.7,546.4L1890.2,552.7L1890.9,556.2L1891.8,561.5L1892.7,567.1L1893.2,572.6L1899.0,572.6L1900.0,571.6L1900.4,565.7L1902.3,561.7L1905.1,556.2L1906.3,559.9L1907.1,566.4L1908.8,570.1L1907.5,575.0L1913.7,576.7L1916.3,581.8L1918.8,585.3L1919.7,578.7L1920.9,573.4L1922.2,568.2L1927.4,563.0L1932.5,569.9L1935.9,571.6L1938.4,565.5L1939.6,562.4L1941.1,556.2L1946.2,554.5L1948.5,559.1L1951.3,564.7L1954.7,568.2L1955.2,560.7L1957.2,557.1L1958.2,551.1L1959.9,544.0L1960.4,538.0L1962.3,534.0L1962.7,529.0L1963.3,524.6L1962.9,517.9L1965.3,515.0L1964.1,509.0L1964.8,503.7L1965.7,499.7L1968.4,496.3L1973.6,492.9L1978.7,489.5L1979.6,484.3L1981.8,480.1L1983.8,475.8L1986.3,481.5L1988.3,486.1L1988.6,481.1L1990.8,476.4L1990.7,470.7L1993.7,475.7L1995.8,482.6L1997.3,478.4L1999.2,474.1L2006.1,470.7L2007.1,464.9L2006.7,459.6L2008.5,455.7L2010.2,451.8L2011.4,447.4L2012.0,441.9L2011.3,437.4L2012.3,432.8L2012.9,427.9L2016.3,429.6L2016.2,436.1L2018.4,441.7L2019.1,446.7L2023.2,441.6L2025.2,435.4L2028.3,431.3L2033.4,436.5L2038.6,439.9L2039.9,434.1L2041.0,428.4L2043.0,424.5L2044.0,429.1L2045.4,434.7L2045.5,428.8L2046.8,424.2L2047.0,419.0L2048.6,416.1L2048.8,410.8L2052.2,414.2L2053.1,419.3L2052.9,424.2L2054.8,431.5L2054.6,436.5L2059.1,441.6L2061.0,447.9L2062.3,452.4L2063.5,458.7L2067.6,451.8L2069.0,445.8L2069.4,441.5L2071.1,436.5L2076.2,434.7L2079.6,438.2L2080.4,433.3L2081.2,428.5L2083.0,422.1L2084.1,417.6L2084.8,412.3L2085.0,407.1L2085.9,403.0L2086.0,399.5L2087.5,393.7L2088.4,386.8L2090.9,381.7L2095.7,380.0L2096.8,385.9L2100.1,388.6L2100.0,383.5L2101.2,380.1L2101.2,374.9L2101.7,370.3L2102.3,364.0L2102.8,360.1L2102.9,355.2L2103.3,350.4L2103.3,347.3L2103.7,341.0L2104.4,337.1L2104.6,332.1L2108.7,328.7L2109.6,322.1L2109.7,316.7L2110.3,311.4L2111.4,306.4L2114.8,304.7L2116.4,299.4L2117.3,292.6L2119.0,287.6L2120.5,292.7L2120.9,298.7L2122.4,304.7L2123.3,308.7L2123.5,315.1L2123.8,319.3L2123.9,323.6L2125.7,328.4L2125.8,333.8L2128.0,327.7L2128.2,322.6L2129.2,316.7L2130.8,312.5L2132.0,306.3L2133.3,299.6L2138.8,294.5L2139.8,298.7L2140.3,305.7L2142.0,310.2L2142.2,316.7L2144.6,312.3L2144.9,307.3L2143.7,302.4L2146.3,298.4L2148.0,292.8L2151.5,299.6L2152.2,304.7L2153.8,310.6L2154.5,314.9L2154.9,320.1L2156.4,325.7L2157.6,329.5L2158.3,335.5L2159.1,332.1L2160.9,327.0L2162.3,322.1L2162.6,317.5L2163.4,313.3L2164.9,317.5L2166.8,323.6L2171.0,325.3L2171.2,329.7L2172.0,335.6L2172.0,340.7L2172.9,344.8L2173.7,350.9" fill="none" stroke="#000" stroke-width="4.1" stroke-linejoin="round" stroke-linecap="round"/>
<g font-size="18.8" fill="#3a3a3a">
<text x="120.7" y="339.3" textLength="42.6" lengthAdjust="spacingAndGlyphs">$60k</text><text x="120.7" y="646.3" textLength="42.6" lengthAdjust="spacingAndGlyphs">$20k</text><text x="131.9" y="898.6" textLength="31.4" lengthAdjust="spacingAndGlyphs">$8k</text><text x="131.9" y="1092.6" textLength="31.4" lengthAdjust="spacingAndGlyphs">$4k</text>
<text x="2200.6" y="421.6" textLength="56" lengthAdjust="spacingAndGlyphs">$240b</text><text x="2200.6" y="646.2" textLength="53.4" lengthAdjust="spacingAndGlyphs">$160b</text><text x="2200.6" y="868.6" textLength="45" lengthAdjust="spacingAndGlyphs">$80b</text><text x="2200.6" y="1093" textLength="22" lengthAdjust="spacingAndGlyphs">$0</text>
<text x="222.8" y="1140" textLength="55" lengthAdjust="spacingAndGlyphs">Jul '19</text><text x="417.9" y="1140" textLength="65.2" lengthAdjust="spacingAndGlyphs">Jan '20</text><text x="618.3" y="1140" textLength="58.8" lengthAdjust="spacingAndGlyphs">Jul '20</text><text x="818.0" y="1140" textLength="61.7" lengthAdjust="spacingAndGlyphs">Jan '21</text><text x="1017.9" y="1140" textLength="55.3" lengthAdjust="spacingAndGlyphs">Jul '21</text><text x="1212.4" y="1140" textLength="65.2" lengthAdjust="spacingAndGlyphs">Jan '22</text><text x="1414.1" y="1140" textLength="58.8" lengthAdjust="spacingAndGlyphs">Jul '22</text><text x="1609.2" y="1140" textLength="65.5" lengthAdjust="spacingAndGlyphs">Jan '23</text><text x="1811.0" y="1140" textLength="59" lengthAdjust="spacingAndGlyphs">Jul '23</text><text x="2007.0" y="1140" textLength="66" lengthAdjust="spacingAndGlyphs">Jan '24</text>
</g>
<g font-size="29.8" font-weight="bold" fill="#000" stroke="#000" stroke-width="0.5" text-anchor="middle"><text x="1772.5" y="360.7" textLength="361" lengthAdjust="spacingAndGlyphs">STH Realized Cap Close to</text><text x="1776" y="394" textLength="316" lengthAdjust="spacingAndGlyphs">Level of Previous Cycle</text></g>
<g font-size="27.5" fill="#4a34e0" stroke="#4a34e0" stroke-width="0.9" text-anchor="middle"><text x="1839.5" y="749.4" textLength="387" lengthAdjust="spacingAndGlyphs">Realized Cap for 1d - 1m STH</text><text x="1839.5" y="783.5" textLength="326" lengthAdjust="spacingAndGlyphs">Peaked around BTC ATH</text></g>
<g stroke="#4a34e0" stroke-width="2.4"><line x1="1645" x2="2033" y1="757.5" y2="757.5"/><line x1="1676" x2="2003" y1="791" y2="791"/></g>
<rect x="2097.5" y="714" width="73" height="72.5" fill="none" stroke="#333" stroke-width="1.2"/>
<g fill="#5a6a8a" fill-opacity="0.30" stroke="#5033e2" stroke-width="4.4"><ellipse cx="2134.8" cy="752.2" rx="33.3" ry="31.8" stroke-dasharray="5.6,4.6" fill-opacity="0.12"/><circle cx="2121" cy="976.6" r="34.5" stroke-dasharray="5.7,4.62"/></g>
<g fill="none" stroke="#5033e2" stroke-width="3.2"><path d="M2098,751H2041.5" stroke-dasharray="8.5,6"/><path d="M2041.5,757L2093,948.4" stroke-dasharray="5.2,5.2"/></g>
<text x="26.5" y="1270.6" font-size="21.5" fill="#707070" textLength="423" lengthAdjust="spacingAndGlyphs">© 2024 Glassnode. All Rights Reserved.</text>
<text y="1279.8" font-size="41" fill="#111" stroke="#111" stroke-width="2.2" stroke-linejoin="round"><tspan x="2133.27" textLength="26.54" lengthAdjust="spacingAndGlyphs">g</tspan><tspan x="2161.08" textLength="7.16" lengthAdjust="spacingAndGlyphs">l</tspan><tspan x="2171.86" textLength="20.49" lengthAdjust="spacingAndGlyphs">a</tspan><tspan x="2197.10" textLength="15.89" lengthAdjust="spacingAndGlyphs">s</tspan><tspan x="2216.59" textLength="15.89" lengthAdjust="spacingAndGlyphs">s</tspan><tspan x="2234.29" textLength="22.56" lengthAdjust="spacingAndGlyphs">n</tspan><tspan x="2257.94" textLength="25.30" lengthAdjust="spacingAndGlyphs">o</tspan><tspan x="2285.20" textLength="23.40" lengthAdjust="spacingAndGlyphs">d</tspan><tspan x="2309.70" textLength="24.41" lengthAdjust="spacingAndGlyphs">e</tspan></text>
</svg>
</body></html>
